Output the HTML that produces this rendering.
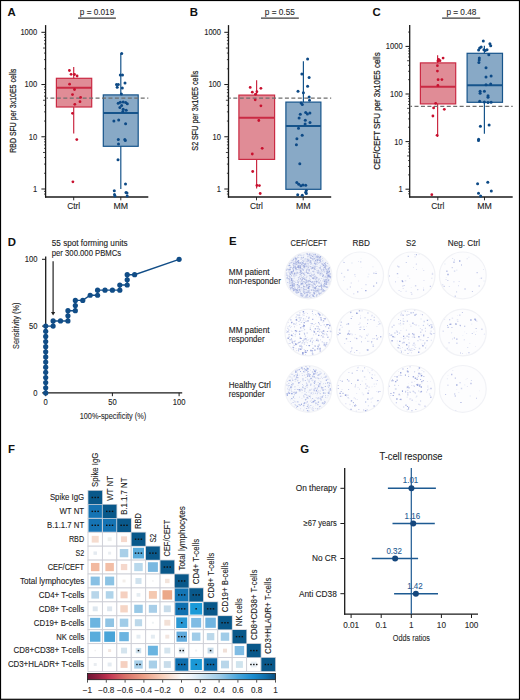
<!DOCTYPE html>
<html><head><meta charset="utf-8"><style>
html,body{margin:0;padding:0;background:#fff;overflow:hidden;width:520px;height:700px;}
svg{display:block;font-family:"Liberation Sans", sans-serif;}
text{stroke:currentColor;}
</style></head><body>
<svg width="520" height="700" viewBox="0 0 520 700">
<rect x="0" y="0" width="520" height="700" fill="#fff"/>
<text x="7.60" y="15.50" font-size="11.4" text-anchor="start" fill="#111" color="#111" stroke-width="0" font-weight="bold">A</text>
<text x="97.00" y="14.80" font-size="8.2" text-anchor="middle" fill="#2a2a2a" color="#2a2a2a" stroke-width="0.1" font-weight="normal" textLength="34.400000000000006" lengthAdjust="spacingAndGlyphs">p = 0.019</text>
<line x1="78.10" y1="18.10" x2="115.90" y2="18.10" stroke="#3a3a3a" stroke-width="1.1"/>
<text transform="translate(15.80,110.70) rotate(-90)" font-size="9.9" text-anchor="middle" fill="#222" color="#222" stroke-width="0.22" textLength="84.1" lengthAdjust="spacingAndGlyphs">RBD SFU per 3x10E5 cells</text>
<line x1="45.60" y1="25.10" x2="45.60" y2="197.60" stroke="#1a1a1a" stroke-width="1.3"/>
<line x1="41.40" y1="189.00" x2="45.60" y2="189.00" stroke="#1a1a1a" stroke-width="1.0"/>
<text x="37.20" y="191.90" font-size="8.2" text-anchor="end" fill="#222" color="#222" stroke-width="0.1" font-weight="normal" textLength="4.2" lengthAdjust="spacingAndGlyphs">1</text>
<line x1="44.00" y1="173.28" x2="45.60" y2="173.28" stroke="#1a1a1a" stroke-width="0.8"/>
<line x1="44.00" y1="164.08" x2="45.60" y2="164.08" stroke="#1a1a1a" stroke-width="0.8"/>
<line x1="44.00" y1="157.55" x2="45.60" y2="157.55" stroke="#1a1a1a" stroke-width="0.8"/>
<line x1="43.00" y1="152.49" x2="45.60" y2="152.49" stroke="#1a1a1a" stroke-width="0.8"/>
<line x1="44.00" y1="148.36" x2="45.60" y2="148.36" stroke="#1a1a1a" stroke-width="0.8"/>
<line x1="44.00" y1="144.86" x2="45.60" y2="144.86" stroke="#1a1a1a" stroke-width="0.8"/>
<line x1="44.00" y1="141.83" x2="45.60" y2="141.83" stroke="#1a1a1a" stroke-width="0.8"/>
<line x1="44.00" y1="139.16" x2="45.60" y2="139.16" stroke="#1a1a1a" stroke-width="0.8"/>
<line x1="41.40" y1="136.77" x2="45.60" y2="136.77" stroke="#1a1a1a" stroke-width="1.0"/>
<text x="37.20" y="139.67" font-size="8.2" text-anchor="end" fill="#222" color="#222" stroke-width="0.1" font-weight="normal" textLength="8.39" lengthAdjust="spacingAndGlyphs">10</text>
<line x1="44.00" y1="121.05" x2="45.60" y2="121.05" stroke="#1a1a1a" stroke-width="0.8"/>
<line x1="44.00" y1="111.85" x2="45.60" y2="111.85" stroke="#1a1a1a" stroke-width="0.8"/>
<line x1="44.00" y1="105.32" x2="45.60" y2="105.32" stroke="#1a1a1a" stroke-width="0.8"/>
<line x1="43.00" y1="100.26" x2="45.60" y2="100.26" stroke="#1a1a1a" stroke-width="0.8"/>
<line x1="44.00" y1="96.13" x2="45.60" y2="96.13" stroke="#1a1a1a" stroke-width="0.8"/>
<line x1="44.00" y1="92.63" x2="45.60" y2="92.63" stroke="#1a1a1a" stroke-width="0.8"/>
<line x1="44.00" y1="89.60" x2="45.60" y2="89.60" stroke="#1a1a1a" stroke-width="0.8"/>
<line x1="44.00" y1="86.93" x2="45.60" y2="86.93" stroke="#1a1a1a" stroke-width="0.8"/>
<line x1="41.40" y1="84.54" x2="45.60" y2="84.54" stroke="#1a1a1a" stroke-width="1.0"/>
<text x="37.20" y="87.44" font-size="8.2" text-anchor="end" fill="#222" color="#222" stroke-width="0.1" font-weight="normal" textLength="12.59" lengthAdjust="spacingAndGlyphs">100</text>
<line x1="44.00" y1="68.82" x2="45.60" y2="68.82" stroke="#1a1a1a" stroke-width="0.8"/>
<line x1="44.00" y1="59.62" x2="45.60" y2="59.62" stroke="#1a1a1a" stroke-width="0.8"/>
<line x1="44.00" y1="53.09" x2="45.60" y2="53.09" stroke="#1a1a1a" stroke-width="0.8"/>
<line x1="43.00" y1="48.03" x2="45.60" y2="48.03" stroke="#1a1a1a" stroke-width="0.8"/>
<line x1="44.00" y1="43.90" x2="45.60" y2="43.90" stroke="#1a1a1a" stroke-width="0.8"/>
<line x1="44.00" y1="40.40" x2="45.60" y2="40.40" stroke="#1a1a1a" stroke-width="0.8"/>
<line x1="44.00" y1="37.37" x2="45.60" y2="37.37" stroke="#1a1a1a" stroke-width="0.8"/>
<line x1="44.00" y1="34.70" x2="45.60" y2="34.70" stroke="#1a1a1a" stroke-width="0.8"/>
<line x1="41.40" y1="32.31" x2="45.60" y2="32.31" stroke="#1a1a1a" stroke-width="1.0"/>
<text x="37.20" y="35.21" font-size="8.2" text-anchor="end" fill="#222" color="#222" stroke-width="0.1" font-weight="normal" textLength="16.78" lengthAdjust="spacingAndGlyphs">1000</text>
<line x1="44.00" y1="191.39" x2="45.60" y2="191.39" stroke="#1a1a1a" stroke-width="0.8"/>
<line x1="44.00" y1="194.06" x2="45.60" y2="194.06" stroke="#1a1a1a" stroke-width="0.8"/>
<line x1="45.00" y1="197.00" x2="148.30" y2="197.00" stroke="#1a1a1a" stroke-width="1.3"/>
<line x1="73.70" y1="197.00" x2="73.70" y2="200.30" stroke="#1a1a1a" stroke-width="0.9"/>
<line x1="120.80" y1="197.00" x2="120.80" y2="200.30" stroke="#1a1a1a" stroke-width="0.9"/>
<line x1="73.70" y1="67.10" x2="73.70" y2="133.60" stroke="#ca2a43" stroke-width="1.2"/>
<rect x="56.40" y="78.30" width="35.30" height="28.70" fill="#e08c96" stroke="#ca2a43" stroke-width="1.2"/>
<line x1="56.40" y1="87.70" x2="91.70" y2="87.70" stroke="#ca2a43" stroke-width="2.0"/>
<line x1="120.80" y1="53.60" x2="120.80" y2="189.00" stroke="#16548b" stroke-width="1.2"/>
<rect x="103.30" y="94.90" width="34.90" height="51.40" fill="#88a9c6" stroke="#16548b" stroke-width="1.2"/>
<line x1="103.30" y1="113.10" x2="138.20" y2="113.10" stroke="#16548b" stroke-width="2.0"/>
<line x1="46.30" y1="98.10" x2="148.30" y2="98.10" stroke="#6e6e6e" stroke-width="1.3" stroke-dasharray="4 2.45" stroke-dashoffset="2.35"/>
<circle cx="69.40" cy="70.50" r="1.4" fill="#c8102e"/>
<circle cx="71.10" cy="74.30" r="1.4" fill="#c8102e"/>
<circle cx="74.50" cy="74.50" r="1.4" fill="#c8102e"/>
<circle cx="77.10" cy="76.00" r="1.4" fill="#c8102e"/>
<circle cx="69.60" cy="84.20" r="1.4" fill="#c8102e"/>
<circle cx="74.50" cy="89.50" r="1.4" fill="#c8102e"/>
<circle cx="72.50" cy="94.60" r="1.4" fill="#c8102e"/>
<circle cx="80.60" cy="97.40" r="1.4" fill="#c8102e"/>
<circle cx="80.00" cy="101.70" r="1.4" fill="#c8102e"/>
<circle cx="74.80" cy="104.30" r="1.4" fill="#c8102e"/>
<circle cx="72.50" cy="113.30" r="1.4" fill="#c8102e"/>
<circle cx="76.80" cy="139.60" r="1.4" fill="#c8102e"/>
<circle cx="72.90" cy="181.80" r="1.4" fill="#c8102e"/>
<circle cx="121.70" cy="53.60" r="1.5" fill="#0d4a86"/>
<circle cx="120.30" cy="75.00" r="1.5" fill="#0d4a86"/>
<circle cx="122.50" cy="74.90" r="1.5" fill="#0d4a86"/>
<circle cx="125.00" cy="83.00" r="1.5" fill="#0d4a86"/>
<circle cx="116.50" cy="84.40" r="1.5" fill="#0d4a86"/>
<circle cx="118.30" cy="84.60" r="1.5" fill="#0d4a86"/>
<circle cx="117.20" cy="87.20" r="1.5" fill="#0d4a86"/>
<circle cx="122.30" cy="88.00" r="1.5" fill="#0d4a86"/>
<circle cx="121.40" cy="93.90" r="1.5" fill="#0d4a86"/>
<circle cx="118.20" cy="103.20" r="1.5" fill="#0d4a86"/>
<circle cx="120.30" cy="102.20" r="1.5" fill="#0d4a86"/>
<circle cx="123.20" cy="102.00" r="1.5" fill="#0d4a86"/>
<circle cx="125.70" cy="102.40" r="1.5" fill="#0d4a86"/>
<circle cx="127.30" cy="103.70" r="1.5" fill="#0d4a86"/>
<circle cx="121.60" cy="105.40" r="1.5" fill="#0d4a86"/>
<circle cx="119.90" cy="107.50" r="1.5" fill="#0d4a86"/>
<circle cx="123.20" cy="109.20" r="1.5" fill="#0d4a86"/>
<circle cx="126.20" cy="110.20" r="1.5" fill="#0d4a86"/>
<circle cx="122.80" cy="111.50" r="1.5" fill="#0d4a86"/>
<circle cx="113.90" cy="121.00" r="1.5" fill="#0d4a86"/>
<circle cx="118.70" cy="120.00" r="1.5" fill="#0d4a86"/>
<circle cx="125.60" cy="123.80" r="1.5" fill="#0d4a86"/>
<circle cx="118.30" cy="139.50" r="1.5" fill="#0d4a86"/>
<circle cx="124.80" cy="139.50" r="1.5" fill="#0d4a86"/>
<circle cx="125.30" cy="140.50" r="1.5" fill="#0d4a86"/>
<circle cx="118.50" cy="144.00" r="1.5" fill="#0d4a86"/>
<circle cx="118.00" cy="159.70" r="1.5" fill="#0d4a86"/>
<circle cx="125.50" cy="184.00" r="1.5" fill="#0d4a86"/>
<circle cx="114.30" cy="190.80" r="1.5" fill="#0d4a86"/>
<circle cx="114.50" cy="194.50" r="1.5" fill="#0d4a86"/>
<circle cx="115.00" cy="196.00" r="1.5" fill="#0d4a86"/>
<circle cx="126.00" cy="192.50" r="1.5" fill="#0d4a86"/>
<circle cx="127.00" cy="193.00" r="1.5" fill="#0d4a86"/>
<circle cx="127.20" cy="196.00" r="1.5" fill="#0d4a86"/>
<text x="73.70" y="208.70" font-size="8.3" text-anchor="middle" fill="#222" color="#222" stroke-width="0.1" font-weight="normal">Ctrl</text>
<text x="120.80" y="208.70" font-size="8.3" text-anchor="middle" fill="#222" color="#222" stroke-width="0.1" font-weight="normal" textLength="14.6" lengthAdjust="spacingAndGlyphs">MM</text>
<text x="189.70" y="15.50" font-size="11.4" text-anchor="start" fill="#111" color="#111" stroke-width="0" font-weight="bold">B</text>
<text x="279.80" y="14.80" font-size="8.2" text-anchor="middle" fill="#2a2a2a" color="#2a2a2a" stroke-width="0.1" font-weight="normal" textLength="30.0" lengthAdjust="spacingAndGlyphs">p = 0.55</text>
<line x1="261.00" y1="18.10" x2="298.80" y2="18.10" stroke="#3a3a3a" stroke-width="1.1"/>
<text transform="translate(197.80,110.70) rotate(-90)" font-size="9.9" text-anchor="middle" fill="#222" color="#222" stroke-width="0.22" textLength="79.9" lengthAdjust="spacingAndGlyphs">S2 SFU per 3x10E5 cells</text>
<line x1="228.50" y1="25.10" x2="228.50" y2="197.60" stroke="#1a1a1a" stroke-width="1.3"/>
<line x1="224.30" y1="189.00" x2="228.50" y2="189.00" stroke="#1a1a1a" stroke-width="1.0"/>
<text x="221.00" y="191.90" font-size="8.2" text-anchor="end" fill="#222" color="#222" stroke-width="0.1" font-weight="normal" textLength="4.2" lengthAdjust="spacingAndGlyphs">1</text>
<line x1="226.90" y1="173.28" x2="228.50" y2="173.28" stroke="#1a1a1a" stroke-width="0.8"/>
<line x1="226.90" y1="164.08" x2="228.50" y2="164.08" stroke="#1a1a1a" stroke-width="0.8"/>
<line x1="226.90" y1="157.55" x2="228.50" y2="157.55" stroke="#1a1a1a" stroke-width="0.8"/>
<line x1="225.90" y1="152.49" x2="228.50" y2="152.49" stroke="#1a1a1a" stroke-width="0.8"/>
<line x1="226.90" y1="148.36" x2="228.50" y2="148.36" stroke="#1a1a1a" stroke-width="0.8"/>
<line x1="226.90" y1="144.86" x2="228.50" y2="144.86" stroke="#1a1a1a" stroke-width="0.8"/>
<line x1="226.90" y1="141.83" x2="228.50" y2="141.83" stroke="#1a1a1a" stroke-width="0.8"/>
<line x1="226.90" y1="139.16" x2="228.50" y2="139.16" stroke="#1a1a1a" stroke-width="0.8"/>
<line x1="224.30" y1="136.77" x2="228.50" y2="136.77" stroke="#1a1a1a" stroke-width="1.0"/>
<text x="221.00" y="139.67" font-size="8.2" text-anchor="end" fill="#222" color="#222" stroke-width="0.1" font-weight="normal" textLength="8.39" lengthAdjust="spacingAndGlyphs">10</text>
<line x1="226.90" y1="121.05" x2="228.50" y2="121.05" stroke="#1a1a1a" stroke-width="0.8"/>
<line x1="226.90" y1="111.85" x2="228.50" y2="111.85" stroke="#1a1a1a" stroke-width="0.8"/>
<line x1="226.90" y1="105.32" x2="228.50" y2="105.32" stroke="#1a1a1a" stroke-width="0.8"/>
<line x1="225.90" y1="100.26" x2="228.50" y2="100.26" stroke="#1a1a1a" stroke-width="0.8"/>
<line x1="226.90" y1="96.13" x2="228.50" y2="96.13" stroke="#1a1a1a" stroke-width="0.8"/>
<line x1="226.90" y1="92.63" x2="228.50" y2="92.63" stroke="#1a1a1a" stroke-width="0.8"/>
<line x1="226.90" y1="89.60" x2="228.50" y2="89.60" stroke="#1a1a1a" stroke-width="0.8"/>
<line x1="226.90" y1="86.93" x2="228.50" y2="86.93" stroke="#1a1a1a" stroke-width="0.8"/>
<line x1="224.30" y1="84.54" x2="228.50" y2="84.54" stroke="#1a1a1a" stroke-width="1.0"/>
<text x="221.00" y="87.44" font-size="8.2" text-anchor="end" fill="#222" color="#222" stroke-width="0.1" font-weight="normal" textLength="12.59" lengthAdjust="spacingAndGlyphs">100</text>
<line x1="226.90" y1="68.82" x2="228.50" y2="68.82" stroke="#1a1a1a" stroke-width="0.8"/>
<line x1="226.90" y1="59.62" x2="228.50" y2="59.62" stroke="#1a1a1a" stroke-width="0.8"/>
<line x1="226.90" y1="53.09" x2="228.50" y2="53.09" stroke="#1a1a1a" stroke-width="0.8"/>
<line x1="225.90" y1="48.03" x2="228.50" y2="48.03" stroke="#1a1a1a" stroke-width="0.8"/>
<line x1="226.90" y1="43.90" x2="228.50" y2="43.90" stroke="#1a1a1a" stroke-width="0.8"/>
<line x1="226.90" y1="40.40" x2="228.50" y2="40.40" stroke="#1a1a1a" stroke-width="0.8"/>
<line x1="226.90" y1="37.37" x2="228.50" y2="37.37" stroke="#1a1a1a" stroke-width="0.8"/>
<line x1="226.90" y1="34.70" x2="228.50" y2="34.70" stroke="#1a1a1a" stroke-width="0.8"/>
<line x1="224.30" y1="32.31" x2="228.50" y2="32.31" stroke="#1a1a1a" stroke-width="1.0"/>
<text x="221.00" y="35.21" font-size="8.2" text-anchor="end" fill="#222" color="#222" stroke-width="0.1" font-weight="normal" textLength="16.78" lengthAdjust="spacingAndGlyphs">1000</text>
<line x1="226.90" y1="191.39" x2="228.50" y2="191.39" stroke="#1a1a1a" stroke-width="0.8"/>
<line x1="226.90" y1="194.06" x2="228.50" y2="194.06" stroke="#1a1a1a" stroke-width="0.8"/>
<line x1="227.90" y1="197.00" x2="331.20" y2="197.00" stroke="#1a1a1a" stroke-width="1.3"/>
<line x1="256.50" y1="197.00" x2="256.50" y2="200.30" stroke="#1a1a1a" stroke-width="0.9"/>
<line x1="303.20" y1="197.00" x2="303.20" y2="200.30" stroke="#1a1a1a" stroke-width="0.9"/>
<line x1="256.60" y1="80.20" x2="256.60" y2="188.60" stroke="#ca2a43" stroke-width="1.2"/>
<rect x="238.90" y="95.10" width="35.70" height="64.30" fill="#e08c96" stroke="#ca2a43" stroke-width="1.2"/>
<line x1="238.90" y1="117.80" x2="274.60" y2="117.80" stroke="#ca2a43" stroke-width="2.0"/>
<line x1="303.40" y1="61.20" x2="303.40" y2="189.30" stroke="#16548b" stroke-width="1.2"/>
<rect x="285.90" y="102.10" width="35.00" height="87.20" fill="#88a9c6" stroke="#16548b" stroke-width="1.2"/>
<line x1="285.90" y1="126.00" x2="320.90" y2="126.00" stroke="#16548b" stroke-width="2.0"/>
<line x1="229.20" y1="98.10" x2="331.20" y2="98.10" stroke="#6e6e6e" stroke-width="1.3" stroke-dasharray="4 2.45" stroke-dashoffset="2.35"/>
<circle cx="250.20" cy="87.40" r="1.4" fill="#c8102e"/>
<circle cx="260.90" cy="88.30" r="1.4" fill="#c8102e"/>
<circle cx="252.30" cy="92.20" r="1.4" fill="#c8102e"/>
<circle cx="256.90" cy="91.70" r="1.4" fill="#c8102e"/>
<circle cx="255.40" cy="94.30" r="1.4" fill="#c8102e"/>
<circle cx="255.20" cy="99.80" r="1.4" fill="#c8102e"/>
<circle cx="260.90" cy="105.80" r="1.4" fill="#c8102e"/>
<circle cx="258.80" cy="120.50" r="1.4" fill="#c8102e"/>
<circle cx="262.20" cy="148.30" r="1.4" fill="#c8102e"/>
<circle cx="252.30" cy="154.00" r="1.4" fill="#c8102e"/>
<circle cx="252.70" cy="171.50" r="1.4" fill="#c8102e"/>
<circle cx="256.90" cy="185.40" r="1.4" fill="#c8102e"/>
<circle cx="259.40" cy="185.60" r="1.4" fill="#c8102e"/>
<circle cx="260.20" cy="193.50" r="1.4" fill="#c8102e"/>
<circle cx="307.60" cy="59.10" r="1.5" fill="#0d4a86"/>
<circle cx="301.90" cy="74.00" r="1.5" fill="#0d4a86"/>
<circle cx="309.10" cy="77.40" r="1.5" fill="#0d4a86"/>
<circle cx="307.60" cy="86.30" r="1.5" fill="#0d4a86"/>
<circle cx="298.00" cy="91.30" r="1.5" fill="#0d4a86"/>
<circle cx="303.40" cy="92.80" r="1.5" fill="#0d4a86"/>
<circle cx="309.10" cy="97.00" r="1.5" fill="#0d4a86"/>
<circle cx="309.50" cy="100.20" r="1.5" fill="#0d4a86"/>
<circle cx="301.10" cy="103.10" r="1.5" fill="#0d4a86"/>
<circle cx="302.30" cy="104.60" r="1.5" fill="#0d4a86"/>
<circle cx="305.70" cy="112.60" r="1.5" fill="#0d4a86"/>
<circle cx="307.40" cy="113.90" r="1.5" fill="#0d4a86"/>
<circle cx="309.90" cy="113.00" r="1.5" fill="#0d4a86"/>
<circle cx="300.30" cy="114.20" r="1.5" fill="#0d4a86"/>
<circle cx="299.10" cy="117.90" r="1.5" fill="#0d4a86"/>
<circle cx="305.30" cy="120.20" r="1.5" fill="#0d4a86"/>
<circle cx="310.00" cy="122.50" r="1.5" fill="#0d4a86"/>
<circle cx="305.10" cy="124.00" r="1.5" fill="#0d4a86"/>
<circle cx="298.50" cy="128.20" r="1.5" fill="#0d4a86"/>
<circle cx="302.20" cy="135.20" r="1.5" fill="#0d4a86"/>
<circle cx="296.90" cy="138.70" r="1.5" fill="#0d4a86"/>
<circle cx="296.40" cy="144.80" r="1.5" fill="#0d4a86"/>
<circle cx="299.80" cy="163.80" r="1.5" fill="#0d4a86"/>
<circle cx="296.80" cy="182.60" r="1.5" fill="#0d4a86"/>
<circle cx="298.80" cy="184.30" r="1.5" fill="#0d4a86"/>
<circle cx="300.90" cy="185.80" r="1.5" fill="#0d4a86"/>
<circle cx="303.00" cy="185.00" r="1.5" fill="#0d4a86"/>
<circle cx="305.70" cy="185.30" r="1.5" fill="#0d4a86"/>
<circle cx="306.30" cy="190.40" r="1.5" fill="#0d4a86"/>
<circle cx="305.70" cy="192.30" r="1.5" fill="#0d4a86"/>
<circle cx="306.30" cy="193.60" r="1.5" fill="#0d4a86"/>
<circle cx="297.70" cy="194.70" r="1.5" fill="#0d4a86"/>
<circle cx="302.30" cy="195.20" r="1.5" fill="#0d4a86"/>
<text x="256.50" y="208.70" font-size="8.3" text-anchor="middle" fill="#222" color="#222" stroke-width="0.1" font-weight="normal">Ctrl</text>
<text x="303.20" y="208.70" font-size="8.3" text-anchor="middle" fill="#222" color="#222" stroke-width="0.1" font-weight="normal" textLength="14.6" lengthAdjust="spacingAndGlyphs">MM</text>
<text x="372.40" y="15.50" font-size="11.4" text-anchor="start" fill="#111" color="#111" stroke-width="0" font-weight="bold">C</text>
<text x="461.40" y="14.80" font-size="8.2" text-anchor="middle" fill="#2a2a2a" color="#2a2a2a" stroke-width="0.1" font-weight="normal" textLength="30.0" lengthAdjust="spacingAndGlyphs">p = 0.48</text>
<line x1="442.10" y1="18.10" x2="480.20" y2="18.10" stroke="#3a3a3a" stroke-width="1.1"/>
<text transform="translate(379.50,111.00) rotate(-90)" font-size="8.9" text-anchor="middle" fill="#222" color="#222" stroke-width="0.22" textLength="117.6" lengthAdjust="spacingAndGlyphs">CEF/CEFT SFU per 3x10E5 cells</text>
<line x1="409.70" y1="25.10" x2="409.70" y2="197.60" stroke="#1a1a1a" stroke-width="1.3"/>
<line x1="405.50" y1="189.20" x2="409.70" y2="189.20" stroke="#1a1a1a" stroke-width="1.0"/>
<text x="402.60" y="192.10" font-size="8.2" text-anchor="end" fill="#222" color="#222" stroke-width="0.1" font-weight="normal" textLength="4.2" lengthAdjust="spacingAndGlyphs">1</text>
<line x1="408.10" y1="174.87" x2="409.70" y2="174.87" stroke="#1a1a1a" stroke-width="0.8"/>
<line x1="408.10" y1="166.49" x2="409.70" y2="166.49" stroke="#1a1a1a" stroke-width="0.8"/>
<line x1="408.10" y1="160.54" x2="409.70" y2="160.54" stroke="#1a1a1a" stroke-width="0.8"/>
<line x1="407.10" y1="155.93" x2="409.70" y2="155.93" stroke="#1a1a1a" stroke-width="0.8"/>
<line x1="408.10" y1="152.16" x2="409.70" y2="152.16" stroke="#1a1a1a" stroke-width="0.8"/>
<line x1="408.10" y1="148.97" x2="409.70" y2="148.97" stroke="#1a1a1a" stroke-width="0.8"/>
<line x1="408.10" y1="146.21" x2="409.70" y2="146.21" stroke="#1a1a1a" stroke-width="0.8"/>
<line x1="408.10" y1="143.78" x2="409.70" y2="143.78" stroke="#1a1a1a" stroke-width="0.8"/>
<line x1="405.50" y1="141.60" x2="409.70" y2="141.60" stroke="#1a1a1a" stroke-width="1.0"/>
<text x="402.60" y="144.50" font-size="8.2" text-anchor="end" fill="#222" color="#222" stroke-width="0.1" font-weight="normal" textLength="8.39" lengthAdjust="spacingAndGlyphs">10</text>
<line x1="408.10" y1="127.27" x2="409.70" y2="127.27" stroke="#1a1a1a" stroke-width="0.8"/>
<line x1="408.10" y1="118.89" x2="409.70" y2="118.89" stroke="#1a1a1a" stroke-width="0.8"/>
<line x1="408.10" y1="112.94" x2="409.70" y2="112.94" stroke="#1a1a1a" stroke-width="0.8"/>
<line x1="407.10" y1="108.33" x2="409.70" y2="108.33" stroke="#1a1a1a" stroke-width="0.8"/>
<line x1="408.10" y1="104.56" x2="409.70" y2="104.56" stroke="#1a1a1a" stroke-width="0.8"/>
<line x1="408.10" y1="101.37" x2="409.70" y2="101.37" stroke="#1a1a1a" stroke-width="0.8"/>
<line x1="408.10" y1="98.61" x2="409.70" y2="98.61" stroke="#1a1a1a" stroke-width="0.8"/>
<line x1="408.10" y1="96.18" x2="409.70" y2="96.18" stroke="#1a1a1a" stroke-width="0.8"/>
<line x1="405.50" y1="94.00" x2="409.70" y2="94.00" stroke="#1a1a1a" stroke-width="1.0"/>
<text x="402.60" y="96.90" font-size="8.2" text-anchor="end" fill="#222" color="#222" stroke-width="0.1" font-weight="normal" textLength="12.59" lengthAdjust="spacingAndGlyphs">100</text>
<line x1="408.10" y1="79.67" x2="409.70" y2="79.67" stroke="#1a1a1a" stroke-width="0.8"/>
<line x1="408.10" y1="71.29" x2="409.70" y2="71.29" stroke="#1a1a1a" stroke-width="0.8"/>
<line x1="408.10" y1="65.34" x2="409.70" y2="65.34" stroke="#1a1a1a" stroke-width="0.8"/>
<line x1="407.10" y1="60.73" x2="409.70" y2="60.73" stroke="#1a1a1a" stroke-width="0.8"/>
<line x1="408.10" y1="56.96" x2="409.70" y2="56.96" stroke="#1a1a1a" stroke-width="0.8"/>
<line x1="408.10" y1="53.77" x2="409.70" y2="53.77" stroke="#1a1a1a" stroke-width="0.8"/>
<line x1="408.10" y1="51.01" x2="409.70" y2="51.01" stroke="#1a1a1a" stroke-width="0.8"/>
<line x1="408.10" y1="48.58" x2="409.70" y2="48.58" stroke="#1a1a1a" stroke-width="0.8"/>
<line x1="405.50" y1="46.40" x2="409.70" y2="46.40" stroke="#1a1a1a" stroke-width="1.0"/>
<text x="402.60" y="49.30" font-size="8.2" text-anchor="end" fill="#222" color="#222" stroke-width="0.1" font-weight="normal" textLength="16.78" lengthAdjust="spacingAndGlyphs">1000</text>
<line x1="408.10" y1="32.07" x2="409.70" y2="32.07" stroke="#1a1a1a" stroke-width="0.8"/>
<line x1="408.10" y1="191.38" x2="409.70" y2="191.38" stroke="#1a1a1a" stroke-width="0.8"/>
<line x1="408.10" y1="193.81" x2="409.70" y2="193.81" stroke="#1a1a1a" stroke-width="0.8"/>
<line x1="409.10" y1="197.00" x2="512.70" y2="197.00" stroke="#1a1a1a" stroke-width="1.3"/>
<line x1="437.80" y1="197.00" x2="437.80" y2="200.30" stroke="#1a1a1a" stroke-width="0.9"/>
<line x1="484.50" y1="197.00" x2="484.50" y2="200.30" stroke="#1a1a1a" stroke-width="0.9"/>
<line x1="437.60" y1="55.30" x2="437.60" y2="137.10" stroke="#ca2a43" stroke-width="1.2"/>
<rect x="420.40" y="62.90" width="35.30" height="41.00" fill="#e08c96" stroke="#ca2a43" stroke-width="1.2"/>
<line x1="420.40" y1="86.70" x2="455.70" y2="86.70" stroke="#ca2a43" stroke-width="2.0"/>
<line x1="484.40" y1="45.70" x2="484.40" y2="133.80" stroke="#16548b" stroke-width="1.2"/>
<rect x="467.10" y="53.30" width="35.40" height="49.00" fill="#88a9c6" stroke="#16548b" stroke-width="1.2"/>
<line x1="467.10" y1="85.30" x2="502.50" y2="85.30" stroke="#16548b" stroke-width="2.0"/>
<line x1="410.40" y1="106.30" x2="512.70" y2="106.30" stroke="#6e6e6e" stroke-width="1.3" stroke-dasharray="4 2.45" stroke-dashoffset="2.35"/>
<circle cx="443.10" cy="58.10" r="1.4" fill="#c8102e"/>
<circle cx="438.60" cy="59.30" r="1.4" fill="#c8102e"/>
<circle cx="440.00" cy="60.70" r="1.4" fill="#c8102e"/>
<circle cx="437.90" cy="61.00" r="1.4" fill="#c8102e"/>
<circle cx="437.40" cy="65.70" r="1.4" fill="#c8102e"/>
<circle cx="437.40" cy="71.10" r="1.4" fill="#c8102e"/>
<circle cx="438.10" cy="79.70" r="1.4" fill="#c8102e"/>
<circle cx="441.90" cy="79.60" r="1.4" fill="#c8102e"/>
<circle cx="437.90" cy="85.40" r="1.4" fill="#c8102e"/>
<circle cx="435.70" cy="103.30" r="1.4" fill="#c8102e"/>
<circle cx="433.60" cy="107.90" r="1.4" fill="#c8102e"/>
<circle cx="444.30" cy="109.30" r="1.4" fill="#c8102e"/>
<circle cx="432.90" cy="116.00" r="1.4" fill="#c8102e"/>
<circle cx="437.10" cy="135.30" r="1.4" fill="#c8102e"/>
<circle cx="431.80" cy="194.70" r="1.4" fill="#c8102e"/>
<circle cx="483.30" cy="41.00" r="1.5" fill="#0d4a86"/>
<circle cx="489.90" cy="43.80" r="1.5" fill="#0d4a86"/>
<circle cx="490.70" cy="45.70" r="1.5" fill="#0d4a86"/>
<circle cx="479.70" cy="48.10" r="1.5" fill="#0d4a86"/>
<circle cx="481.20" cy="47.00" r="1.5" fill="#0d4a86"/>
<circle cx="478.60" cy="50.00" r="1.5" fill="#0d4a86"/>
<circle cx="483.90" cy="49.70" r="1.5" fill="#0d4a86"/>
<circle cx="487.00" cy="49.70" r="1.5" fill="#0d4a86"/>
<circle cx="485.20" cy="50.40" r="1.5" fill="#0d4a86"/>
<circle cx="488.80" cy="54.70" r="1.5" fill="#0d4a86"/>
<circle cx="479.30" cy="58.00" r="1.5" fill="#0d4a86"/>
<circle cx="479.20" cy="59.90" r="1.5" fill="#0d4a86"/>
<circle cx="478.90" cy="62.50" r="1.5" fill="#0d4a86"/>
<circle cx="486.00" cy="67.70" r="1.5" fill="#0d4a86"/>
<circle cx="486.00" cy="76.90" r="1.5" fill="#0d4a86"/>
<circle cx="491.10" cy="76.10" r="1.5" fill="#0d4a86"/>
<circle cx="486.00" cy="84.70" r="1.5" fill="#0d4a86"/>
<circle cx="490.70" cy="83.90" r="1.5" fill="#0d4a86"/>
<circle cx="480.10" cy="91.30" r="1.5" fill="#0d4a86"/>
<circle cx="480.10" cy="93.20" r="1.5" fill="#0d4a86"/>
<circle cx="484.40" cy="91.30" r="1.5" fill="#0d4a86"/>
<circle cx="488.00" cy="95.70" r="1.5" fill="#0d4a86"/>
<circle cx="488.00" cy="97.30" r="1.5" fill="#0d4a86"/>
<circle cx="479.70" cy="101.20" r="1.5" fill="#0d4a86"/>
<circle cx="484.40" cy="102.00" r="1.5" fill="#0d4a86"/>
<circle cx="488.00" cy="102.60" r="1.5" fill="#0d4a86"/>
<circle cx="491.10" cy="102.30" r="1.5" fill="#0d4a86"/>
<circle cx="480.40" cy="126.20" r="1.5" fill="#0d4a86"/>
<circle cx="489.10" cy="125.10" r="1.5" fill="#0d4a86"/>
<circle cx="478.60" cy="139.30" r="1.5" fill="#0d4a86"/>
<circle cx="478.50" cy="140.50" r="1.5" fill="#0d4a86"/>
<circle cx="477.60" cy="183.80" r="1.5" fill="#0d4a86"/>
<circle cx="487.80" cy="182.20" r="1.5" fill="#0d4a86"/>
<circle cx="491.30" cy="190.90" r="1.5" fill="#0d4a86"/>
<circle cx="478.50" cy="193.30" r="1.5" fill="#0d4a86"/>
<circle cx="480.60" cy="196.10" r="1.5" fill="#0d4a86"/>
<text x="437.80" y="208.70" font-size="8.3" text-anchor="middle" fill="#222" color="#222" stroke-width="0.1" font-weight="normal">Ctrl</text>
<text x="484.50" y="208.70" font-size="8.3" text-anchor="middle" fill="#222" color="#222" stroke-width="0.1" font-weight="normal" textLength="14.6" lengthAdjust="spacingAndGlyphs">MM</text>
<text x="7.80" y="245.50" font-size="11.4" text-anchor="start" fill="#111" color="#111" stroke-width="0" font-weight="bold">D</text>
<line x1="45.70" y1="256.50" x2="45.70" y2="393.50" stroke="#1a1a1a" stroke-width="1.3"/>
<line x1="43.00" y1="392.90" x2="182.20" y2="392.90" stroke="#1a1a1a" stroke-width="1.3"/>
<line x1="42.00" y1="259.30" x2="45.70" y2="259.30" stroke="#1a1a1a" stroke-width="1.0"/>
<text x="37.40" y="262.20" font-size="8.2" text-anchor="end" fill="#222" color="#222" stroke-width="0.1" font-weight="normal" textLength="12.72" lengthAdjust="spacingAndGlyphs">100</text>
<line x1="42.00" y1="326.10" x2="45.70" y2="326.10" stroke="#1a1a1a" stroke-width="1.0"/>
<text x="37.40" y="329.00" font-size="8.2" text-anchor="end" fill="#222" color="#222" stroke-width="0.1" font-weight="normal" textLength="8.48" lengthAdjust="spacingAndGlyphs">50</text>
<line x1="42.00" y1="392.90" x2="45.70" y2="392.90" stroke="#1a1a1a" stroke-width="1.0"/>
<text x="37.40" y="395.80" font-size="8.2" text-anchor="end" fill="#222" color="#222" stroke-width="0.1" font-weight="normal" textLength="4.24" lengthAdjust="spacingAndGlyphs">0</text>
<line x1="45.70" y1="392.90" x2="45.70" y2="396.20" stroke="#1a1a1a" stroke-width="1.0"/>
<text x="45.70" y="405.40" font-size="8.2" text-anchor="middle" fill="#222" color="#222" stroke-width="0.1" font-weight="normal" textLength="4.24" lengthAdjust="spacingAndGlyphs">0</text>
<line x1="112.40" y1="392.90" x2="112.40" y2="396.20" stroke="#1a1a1a" stroke-width="1.0"/>
<text x="112.40" y="405.40" font-size="8.2" text-anchor="middle" fill="#222" color="#222" stroke-width="0.1" font-weight="normal" textLength="8.48" lengthAdjust="spacingAndGlyphs">50</text>
<line x1="179.10" y1="392.90" x2="179.10" y2="396.20" stroke="#1a1a1a" stroke-width="1.0"/>
<text x="179.10" y="405.40" font-size="8.2" text-anchor="middle" fill="#222" color="#222" stroke-width="0.1" font-weight="normal" textLength="12.72" lengthAdjust="spacingAndGlyphs">100</text>
<text x="112.95" y="419.20" font-size="9.0" text-anchor="middle" fill="#2a2a2a" color="#2a2a2a" stroke-width="0.1" font-weight="normal" textLength="66.5" lengthAdjust="spacingAndGlyphs">100%-specificity (%)</text>
<text transform="translate(19.20,325.75) rotate(-90)" font-size="9.2" text-anchor="middle" fill="#2a2a2a" color="#2a2a2a" stroke-width="0.1" textLength="46.5" lengthAdjust="spacingAndGlyphs">Sensitivity (%)</text>
<text x="51.80" y="246.00" font-size="8.2" text-anchor="start" fill="#222" color="#222" stroke-width="0.1" font-weight="normal" textLength="75.8" lengthAdjust="spacingAndGlyphs">55 spot forming units</text>
<text x="51.80" y="255.50" font-size="8.2" text-anchor="start" fill="#222" color="#222" stroke-width="0.1" font-weight="normal" textLength="69.4" lengthAdjust="spacingAndGlyphs">per 300.000 PBMCs</text>
<line x1="53.10" y1="261.20" x2="53.10" y2="312.50" stroke="#222" stroke-width="1.2"/>
<path d="M51.0,312.0 L55.2,312.0 L53.1,315.6 Z" fill="#222"/>
<polyline points="45.70,392.90 45.70,387.76 45.70,382.62 45.70,377.48 45.70,372.35 45.70,367.21 45.70,362.07 45.70,356.93 45.70,351.79 45.70,346.65 45.70,341.52 45.70,336.38 45.70,331.24 45.70,326.10 53.11,326.10 53.11,320.96 60.52,320.96 67.93,320.96 67.93,315.82 67.93,310.68 75.34,310.68 75.34,305.55 75.34,300.41 82.76,300.41 90.17,295.27 97.58,295.27 97.58,290.13 104.99,290.13 112.40,290.13 119.81,290.13 119.81,284.99 127.22,284.99 127.22,279.85 127.22,274.72 134.63,274.72 179.10,259.30" fill="none" stroke="#114d87" stroke-width="1.4"/>
<circle cx="45.70" cy="392.90" r="2.6" fill="#114d87"/>
<circle cx="45.70" cy="387.76" r="2.6" fill="#114d87"/>
<circle cx="45.70" cy="382.62" r="2.6" fill="#114d87"/>
<circle cx="45.70" cy="377.48" r="2.6" fill="#114d87"/>
<circle cx="45.70" cy="372.35" r="2.6" fill="#114d87"/>
<circle cx="45.70" cy="367.21" r="2.6" fill="#114d87"/>
<circle cx="45.70" cy="362.07" r="2.6" fill="#114d87"/>
<circle cx="45.70" cy="356.93" r="2.6" fill="#114d87"/>
<circle cx="45.70" cy="351.79" r="2.6" fill="#114d87"/>
<circle cx="45.70" cy="346.65" r="2.6" fill="#114d87"/>
<circle cx="45.70" cy="341.52" r="2.6" fill="#114d87"/>
<circle cx="45.70" cy="336.38" r="2.6" fill="#114d87"/>
<circle cx="45.70" cy="331.24" r="2.6" fill="#114d87"/>
<circle cx="45.70" cy="326.10" r="2.6" fill="#114d87"/>
<circle cx="53.11" cy="326.10" r="2.6" fill="#114d87"/>
<circle cx="53.11" cy="320.96" r="2.6" fill="#114d87"/>
<circle cx="60.52" cy="320.96" r="2.6" fill="#114d87"/>
<circle cx="67.93" cy="320.96" r="2.6" fill="#114d87"/>
<circle cx="67.93" cy="315.82" r="2.6" fill="#114d87"/>
<circle cx="67.93" cy="310.68" r="2.6" fill="#114d87"/>
<circle cx="75.34" cy="310.68" r="2.6" fill="#114d87"/>
<circle cx="75.34" cy="305.55" r="2.6" fill="#114d87"/>
<circle cx="75.34" cy="300.41" r="2.6" fill="#114d87"/>
<circle cx="82.76" cy="300.41" r="2.6" fill="#114d87"/>
<circle cx="90.17" cy="295.27" r="2.6" fill="#114d87"/>
<circle cx="97.58" cy="295.27" r="2.6" fill="#114d87"/>
<circle cx="97.58" cy="290.13" r="2.6" fill="#114d87"/>
<circle cx="104.99" cy="290.13" r="2.6" fill="#114d87"/>
<circle cx="112.40" cy="290.13" r="2.6" fill="#114d87"/>
<circle cx="119.81" cy="290.13" r="2.6" fill="#114d87"/>
<circle cx="119.81" cy="284.99" r="2.6" fill="#114d87"/>
<circle cx="127.22" cy="284.99" r="2.6" fill="#114d87"/>
<circle cx="127.22" cy="279.85" r="2.6" fill="#114d87"/>
<circle cx="127.22" cy="274.72" r="2.6" fill="#114d87"/>
<circle cx="134.63" cy="274.72" r="2.6" fill="#114d87"/>
<circle cx="179.10" cy="259.30" r="2.6" fill="#114d87"/>
<text x="228.90" y="245.30" font-size="11.4" text-anchor="start" fill="#111" color="#111" stroke-width="0" font-weight="bold">E</text>
<text x="308.90" y="245.90" font-size="8.2" text-anchor="middle" fill="#222" color="#222" stroke-width="0.1" font-weight="normal" textLength="36.6" lengthAdjust="spacingAndGlyphs">CEF/CEFT</text>
<text x="361.20" y="245.90" font-size="8.2" text-anchor="middle" fill="#222" color="#222" stroke-width="0.1" font-weight="normal">RBD</text>
<text x="411.00" y="245.90" font-size="8.2" text-anchor="middle" fill="#222" color="#222" stroke-width="0.1" font-weight="normal">S2</text>
<text x="463.90" y="245.90" font-size="8.2" text-anchor="middle" fill="#222" color="#222" stroke-width="0.1" font-weight="normal">Neg. Ctrl</text>
<text x="228.80" y="274.80" font-size="8.6" text-anchor="start" fill="#222" color="#222" stroke-width="0.1" font-weight="normal" textLength="40.8" lengthAdjust="spacingAndGlyphs">MM patient</text>
<text x="228.80" y="284.20" font-size="8.6" text-anchor="start" fill="#222" color="#222" stroke-width="0.1" font-weight="normal" textLength="52.0" lengthAdjust="spacingAndGlyphs">non-responder</text>
<text x="228.80" y="332.50" font-size="8.6" text-anchor="start" fill="#222" color="#222" stroke-width="0.1" font-weight="normal" textLength="40.8" lengthAdjust="spacingAndGlyphs">MM patient</text>
<text x="228.80" y="341.90" font-size="8.6" text-anchor="start" fill="#222" color="#222" stroke-width="0.1" font-weight="normal" textLength="35.8" lengthAdjust="spacingAndGlyphs">responder</text>
<text x="228.80" y="387.90" font-size="8.6" text-anchor="start" fill="#222" color="#222" stroke-width="0.1" font-weight="normal" textLength="42.0" lengthAdjust="spacingAndGlyphs">Healthy Ctrl</text>
<text x="228.80" y="397.30" font-size="8.6" text-anchor="start" fill="#222" color="#222" stroke-width="0.1" font-weight="normal" textLength="35.8" lengthAdjust="spacingAndGlyphs">responder</text>
<defs><filter id="wb" x="-10%" y="-10%" width="120%" height="120%"><feGaussianBlur stdDeviation="0.4"/></filter></defs>
<circle cx="308.4" cy="275.4" r="23.4" fill="#f3f5fb" stroke="#f1f2f6" stroke-width="1.2"/>
<g filter="url(#wb)">
<path d="M303.8 283.6h0.7v0.7h-0.7zM313.2 256.6h0.9v0.9h-0.9zM301.8 258.0h1.3v1.3h-1.3zM319.5 256.3h1.3v1.3h-1.3zM303.4 254.0h1.1v1.1h-1.1zM290.4 287.7h1.3v1.3h-1.3zM301.2 279.6h1.3v1.3h-1.3zM321.8 286.4h0.7v0.7h-0.7zM292.3 267.9h1.1v1.1h-1.1zM307.0 258.9h0.9v0.9h-0.9zM299.9 254.8h1.1v1.1h-1.1zM294.0 273.5h0.7v0.7h-0.7zM319.7 267.5h0.7v0.7h-0.7zM319.7 264.9h1.1v1.1h-1.1zM317.6 289.3h0.7v0.7h-0.7zM288.6 283.5h0.9v0.9h-0.9zM307.1 290.1h0.9v0.9h-0.9zM319.5 289.1h0.7v0.7h-0.7zM300.1 289.6h1.3v1.3h-1.3zM315.4 276.8h1.3v1.3h-1.3zM303.1 280.9h1.1v1.1h-1.1zM299.1 290.9h0.7v0.7h-0.7zM328.1 273.2h0.7v0.7h-0.7zM317.9 267.4h0.7v0.7h-0.7zM310.3 268.0h0.9v0.9h-0.9zM305.2 295.0h1.1v1.1h-1.1zM330.2 273.5h0.9v0.9h-0.9zM304.6 293.2h0.9v0.9h-0.9zM304.1 292.6h0.9v0.9h-0.9zM312.5 277.6h1.1v1.1h-1.1zM296.8 286.0h0.7v0.7h-0.7zM328.3 275.5h0.7v0.7h-0.7zM309.9 257.0h0.9v0.9h-0.9zM314.2 275.3h1.1v1.1h-1.1zM304.9 281.6h1.3v1.3h-1.3zM291.6 289.0h0.9v0.9h-0.9zM321.7 290.1h1.1v1.1h-1.1zM301.7 280.9h1.1v1.1h-1.1zM301.5 287.1h1.3v1.3h-1.3zM307.6 281.3h1.3v1.3h-1.3zM298.0 286.6h1.1v1.1h-1.1zM310.7 254.8h1.3v1.3h-1.3zM314.9 258.1h0.9v0.9h-0.9zM300.5 263.9h1.3v1.3h-1.3zM292.6 282.5h0.9v0.9h-0.9zM294.1 290.0h0.9v0.9h-0.9zM298.5 262.6h1.1v1.1h-1.1zM289.0 272.1h1.3v1.3h-1.3zM295.9 262.7h1.3v1.3h-1.3zM306.7 295.2h0.7v0.7h-0.7zM317.9 278.4h1.3v1.3h-1.3zM303.4 265.0h1.1v1.1h-1.1zM309.2 286.2h1.1v1.1h-1.1zM289.5 280.8h1.1v1.1h-1.1zM316.3 294.8h1.3v1.3h-1.3zM327.8 275.5h0.7v0.7h-0.7zM300.1 280.9h1.3v1.3h-1.3zM318.6 286.7h0.9v0.9h-0.9zM321.0 263.2h1.1v1.1h-1.1zM290.2 288.6h0.9v0.9h-0.9zM295.3 256.7h0.7v0.7h-0.7zM320.6 278.3h0.7v0.7h-0.7zM316.2 295.6h0.9v0.9h-0.9zM311.0 256.6h0.7v0.7h-0.7zM313.1 274.9h0.9v0.9h-0.9zM324.9 276.3h1.3v1.3h-1.3zM302.2 283.0h0.9v0.9h-0.9zM328.2 281.9h1.3v1.3h-1.3zM293.4 280.1h0.7v0.7h-0.7zM298.7 285.8h1.3v1.3h-1.3zM316.5 277.1h1.1v1.1h-1.1zM300.4 257.1h0.9v0.9h-0.9zM317.9 292.6h0.7v0.7h-0.7zM298.5 264.0h1.3v1.3h-1.3zM299.7 295.4h1.1v1.1h-1.1zM290.1 276.4h0.7v0.7h-0.7zM324.2 280.7h1.1v1.1h-1.1zM298.0 282.2h0.7v0.7h-0.7zM308.4 275.6h0.7v0.7h-0.7zM298.3 281.6h0.7v0.7h-0.7zM320.3 274.8h0.7v0.7h-0.7zM297.8 291.8h1.1v1.1h-1.1zM301.8 295.8h0.9v0.9h-0.9zM327.0 272.3h0.7v0.7h-0.7zM319.9 289.1h0.7v0.7h-0.7zM316.7 281.9h0.7v0.7h-0.7zM304.3 271.6h1.3v1.3h-1.3zM303.2 258.6h0.9v0.9h-0.9zM296.3 269.0h1.3v1.3h-1.3zM295.4 273.2h0.7v0.7h-0.7zM298.6 286.5h1.3v1.3h-1.3zM309.8 296.8h1.1v1.1h-1.1zM312.0 289.2h0.7v0.7h-0.7zM298.7 276.9h1.3v1.3h-1.3zM310.3 260.3h1.3v1.3h-1.3zM326.9 266.0h0.7v0.7h-0.7zM325.6 269.3h1.1v1.1h-1.1zM315.5 262.6h1.3v1.3h-1.3zM314.1 287.9h0.7v0.7h-0.7zM293.2 262.8h1.1v1.1h-1.1zM291.8 273.9h0.9v0.9h-0.9zM302.7 287.0h0.7v0.7h-0.7zM293.9 285.0h1.3v1.3h-1.3zM325.7 279.4h0.9v0.9h-0.9zM296.9 256.7h1.3v1.3h-1.3zM288.5 264.9h1.3v1.3h-1.3zM327.0 275.6h0.7v0.7h-0.7zM309.5 283.3h1.3v1.3h-1.3zM320.6 268.3h0.9v0.9h-0.9zM297.7 256.4h0.7v0.7h-0.7zM306.2 281.0h1.1v1.1h-1.1zM300.6 276.7h1.1v1.1h-1.1zM329.4 281.1h1.1v1.1h-1.1zM306.0 279.1h1.1v1.1h-1.1zM306.3 294.8h1.3v1.3h-1.3zM313.9 272.8h0.7v0.7h-0.7zM306.9 291.4h1.3v1.3h-1.3zM302.0 263.1h1.3v1.3h-1.3zM293.6 277.4h1.3v1.3h-1.3zM311.6 253.1h1.3v1.3h-1.3zM294.4 275.5h1.3v1.3h-1.3zM318.5 282.3h0.9v0.9h-0.9zM319.0 255.6h0.9v0.9h-0.9zM305.5 264.6h0.7v0.7h-0.7zM309.7 281.1h1.3v1.3h-1.3zM292.6 273.1h0.7v0.7h-0.7zM288.9 265.0h1.1v1.1h-1.1zM314.6 286.6h0.7v0.7h-0.7zM294.7 281.8h1.3v1.3h-1.3zM315.8 255.3h0.7v0.7h-0.7zM319.9 261.3h1.1v1.1h-1.1zM295.7 264.5h1.1v1.1h-1.1zM302.3 294.1h0.9v0.9h-0.9zM294.6 280.6h0.9v0.9h-0.9zM312.4 289.7h0.7v0.7h-0.7zM325.8 268.9h0.9v0.9h-0.9zM301.7 279.8h0.7v0.7h-0.7zM319.0 291.6h0.7v0.7h-0.7zM292.6 261.8h0.7v0.7h-0.7zM301.7 282.9h1.1v1.1h-1.1zM314.6 292.0h0.7v0.7h-0.7zM319.0 278.9h0.9v0.9h-0.9zM297.2 280.7h1.3v1.3h-1.3zM300.1 294.5h1.3v1.3h-1.3zM299.3 268.0h0.7v0.7h-0.7zM295.7 271.5h1.3v1.3h-1.3zM298.3 260.3h1.1v1.1h-1.1zM300.0 291.9h0.7v0.7h-0.7zM304.7 287.0h0.9v0.9h-0.9zM315.6 271.6h1.1v1.1h-1.1zM325.0 266.7h1.3v1.3h-1.3zM312.0 267.5h1.1v1.1h-1.1zM296.4 269.6h0.7v0.7h-0.7zM330.1 276.3h1.3v1.3h-1.3zM307.6 261.2h1.1v1.1h-1.1zM310.7 261.7h1.1v1.1h-1.1zM308.1 280.1h1.3v1.3h-1.3zM315.1 293.1h0.7v0.7h-0.7zM315.8 281.8h0.9v0.9h-0.9zM297.2 271.2h0.7v0.7h-0.7zM319.3 262.1h0.7v0.7h-0.7zM309.0 268.8h0.9v0.9h-0.9zM301.8 293.0h1.3v1.3h-1.3zM317.5 292.0h1.1v1.1h-1.1zM306.9 269.5h1.1v1.1h-1.1zM299.7 285.8h0.7v0.7h-0.7zM313.2 289.4h1.3v1.3h-1.3zM291.9 276.4h0.7v0.7h-0.7zM302.6 284.9h0.9v0.9h-0.9zM305.3 257.9h1.1v1.1h-1.1zM303.5 284.2h1.1v1.1h-1.1zM308.9 256.8h0.9v0.9h-0.9zM305.8 253.1h0.7v0.7h-0.7zM317.7 269.6h1.1v1.1h-1.1zM322.2 280.4h0.7v0.7h-0.7zM307.3 290.9h0.7v0.7h-0.7zM323.3 267.0h1.1v1.1h-1.1zM316.1 280.3h0.9v0.9h-0.9zM307.1 262.6h1.3v1.3h-1.3zM318.4 289.5h1.3v1.3h-1.3zM324.8 268.0h0.7v0.7h-0.7zM322.4 259.8h0.9v0.9h-0.9zM312.8 294.7h0.7v0.7h-0.7zM325.1 268.8h0.9v0.9h-0.9zM313.5 263.4h1.1v1.1h-1.1zM299.3 278.5h1.1v1.1h-1.1zM316.0 269.8h1.1v1.1h-1.1zM307.9 258.8h1.3v1.3h-1.3zM296.1 274.4h1.3v1.3h-1.3zM307.1 269.2h1.1v1.1h-1.1zM328.5 271.1h0.9v0.9h-0.9zM313.2 253.6h1.1v1.1h-1.1zM304.2 268.7h0.7v0.7h-0.7zM292.6 288.8h1.3v1.3h-1.3zM291.6 285.0h1.3v1.3h-1.3zM311.8 263.5h0.9v0.9h-0.9zM328.5 271.9h1.1v1.1h-1.1zM301.2 263.3h0.7v0.7h-0.7zM325.0 267.8h0.7v0.7h-0.7zM288.9 268.1h1.3v1.3h-1.3zM325.7 286.2h0.7v0.7h-0.7zM320.4 274.0h1.1v1.1h-1.1zM320.3 268.9h1.3v1.3h-1.3zM322.3 268.7h0.9v0.9h-0.9zM317.0 294.0h0.7v0.7h-0.7zM298.4 272.8h0.9v0.9h-0.9zM297.4 277.4h0.7v0.7h-0.7zM304.2 267.2h1.1v1.1h-1.1zM304.1 275.0h1.3v1.3h-1.3zM311.7 286.9h1.1v1.1h-1.1zM311.1 283.9h1.1v1.1h-1.1zM314.8 256.6h1.3v1.3h-1.3zM302.4 267.7h1.1v1.1h-1.1zM318.4 294.0h1.1v1.1h-1.1zM312.5 281.2h0.9v0.9h-0.9zM329.4 273.3h0.9v0.9h-0.9zM302.1 269.2h0.7v0.7h-0.7zM302.1 265.3h0.9v0.9h-0.9zM310.9 268.6h1.1v1.1h-1.1zM311.5 285.6h1.1v1.1h-1.1zM328.0 274.4h1.3v1.3h-1.3zM288.0 275.4h0.7v0.7h-0.7zM306.7 293.9h1.1v1.1h-1.1zM294.0 286.9h1.1v1.1h-1.1zM308.3 272.8h1.3v1.3h-1.3zM305.9 276.7h0.9v0.9h-0.9zM327.0 265.5h1.3v1.3h-1.3zM295.7 289.0h1.3v1.3h-1.3zM321.6 265.8h1.1v1.1h-1.1zM321.2 277.9h0.9v0.9h-0.9zM301.9 290.5h1.1v1.1h-1.1zM292.0 259.8h1.3v1.3h-1.3zM308.5 258.8h1.3v1.3h-1.3zM312.9 267.8h1.3v1.3h-1.3zM296.6 266.5h0.9v0.9h-0.9zM313.3 269.2h1.3v1.3h-1.3zM317.0 270.7h0.9v0.9h-0.9zM318.9 290.2h0.9v0.9h-0.9zM318.8 267.3h1.1v1.1h-1.1zM295.9 289.8h0.7v0.7h-0.7zM301.5 268.1h1.1v1.1h-1.1zM325.6 272.5h0.7v0.7h-0.7zM292.4 290.5h1.1v1.1h-1.1zM321.1 271.6h1.1v1.1h-1.1zM313.8 293.7h1.1v1.1h-1.1zM325.1 265.7h0.7v0.7h-0.7zM303.7 276.9h1.3v1.3h-1.3zM287.6 278.0h0.9v0.9h-0.9zM313.1 281.1h1.3v1.3h-1.3zM312.0 288.6h0.7v0.7h-0.7zM290.8 279.5h1.3v1.3h-1.3zM302.2 260.0h0.9v0.9h-0.9zM289.9 267.0h0.9v0.9h-0.9zM308.9 296.4h0.9v0.9h-0.9zM323.2 278.8h1.3v1.3h-1.3zM318.3 288.1h1.1v1.1h-1.1zM285.8 273.4h1.3v1.3h-1.3zM312.2 277.1h0.7v0.7h-0.7zM306.0 276.5h0.9v0.9h-0.9zM304.6 268.2h0.9v0.9h-0.9zM324.9 265.3h0.7v0.7h-0.7zM307.6 287.9h1.1v1.1h-1.1zM305.9 286.6h1.3v1.3h-1.3zM312.7 258.8h0.7v0.7h-0.7zM308.2 287.2h0.7v0.7h-0.7zM325.3 284.2h0.7v0.7h-0.7zM291.8 285.0h1.3v1.3h-1.3zM328.2 278.9h0.9v0.9h-0.9zM293.3 260.3h0.7v0.7h-0.7zM312.0 283.6h0.7v0.7h-0.7zM294.2 287.4h0.9v0.9h-0.9zM309.1 296.2h1.1v1.1h-1.1zM304.6 290.5h1.3v1.3h-1.3zM321.0 285.7h1.3v1.3h-1.3zM302.3 277.8h0.9v0.9h-0.9zM307.1 257.4h1.3v1.3h-1.3zM318.2 282.2h1.1v1.1h-1.1zM291.7 288.7h1.1v1.1h-1.1zM321.8 269.4h0.9v0.9h-0.9zM319.7 271.4h1.3v1.3h-1.3zM328.5 281.9h0.7v0.7h-0.7zM293.1 283.0h1.1v1.1h-1.1zM289.1 286.4h1.1v1.1h-1.1zM327.9 278.6h0.9v0.9h-0.9zM306.1 294.1h0.9v0.9h-0.9z" fill="#7083cc" fill-opacity="0.17"/>
<path d="M311.4 268.1h0.7v0.7h-0.7zM323.0 278.7h0.7v0.7h-0.7zM320.9 283.3h0.7v0.7h-0.7zM293.0 283.1h1.1v1.1h-1.1zM323.8 286.1h0.7v0.7h-0.7zM294.3 266.8h1.1v1.1h-1.1zM326.5 282.2h0.9v0.9h-0.9zM315.3 287.7h1.1v1.1h-1.1zM326.6 273.1h1.3v1.3h-1.3zM313.9 283.3h0.9v0.9h-0.9zM315.9 295.5h1.3v1.3h-1.3zM317.8 279.5h1.3v1.3h-1.3zM314.0 296.0h1.1v1.1h-1.1zM303.8 263.3h1.1v1.1h-1.1zM300.8 283.9h1.1v1.1h-1.1zM292.7 261.8h0.9v0.9h-0.9zM316.1 257.1h0.9v0.9h-0.9zM314.8 278.7h1.3v1.3h-1.3zM290.1 287.7h0.9v0.9h-0.9zM312.2 274.6h1.3v1.3h-1.3zM314.0 256.5h0.7v0.7h-0.7zM317.8 256.2h0.9v0.9h-0.9zM304.0 274.2h1.3v1.3h-1.3zM292.4 262.3h0.9v0.9h-0.9zM291.6 279.7h1.3v1.3h-1.3zM301.2 254.7h1.1v1.1h-1.1zM324.9 283.4h0.7v0.7h-0.7zM325.0 268.0h1.1v1.1h-1.1zM307.6 283.9h1.3v1.3h-1.3zM307.6 267.0h1.3v1.3h-1.3zM322.7 274.2h1.3v1.3h-1.3zM323.0 274.3h1.1v1.1h-1.1zM326.6 280.2h0.7v0.7h-0.7zM296.9 272.6h1.3v1.3h-1.3zM287.4 268.8h1.1v1.1h-1.1zM298.9 285.1h1.1v1.1h-1.1zM309.5 255.4h1.3v1.3h-1.3zM316.5 257.5h1.3v1.3h-1.3zM324.7 264.4h0.7v0.7h-0.7zM296.8 266.8h1.1v1.1h-1.1zM292.5 278.6h0.7v0.7h-0.7zM306.7 280.7h1.1v1.1h-1.1zM307.9 287.2h1.1v1.1h-1.1zM326.3 280.7h1.3v1.3h-1.3zM300.2 265.0h0.7v0.7h-0.7zM315.7 290.2h1.1v1.1h-1.1zM307.7 259.7h1.3v1.3h-1.3zM304.1 296.8h0.9v0.9h-0.9zM308.0 283.2h0.9v0.9h-0.9zM303.0 273.3h0.9v0.9h-0.9zM303.2 272.7h1.1v1.1h-1.1zM294.7 258.0h1.3v1.3h-1.3zM307.0 293.6h1.1v1.1h-1.1zM314.0 296.1h1.1v1.1h-1.1zM323.6 270.1h0.9v0.9h-0.9zM286.6 277.1h0.7v0.7h-0.7zM313.4 272.2h0.7v0.7h-0.7zM329.6 274.5h1.1v1.1h-1.1zM321.3 282.4h0.7v0.7h-0.7zM306.5 258.7h1.3v1.3h-1.3zM313.1 253.9h1.3v1.3h-1.3zM317.3 270.3h1.1v1.1h-1.1zM295.0 290.4h0.7v0.7h-0.7zM298.3 261.8h1.1v1.1h-1.1zM330.1 273.3h0.9v0.9h-0.9zM295.3 260.2h1.1v1.1h-1.1zM321.5 278.3h0.7v0.7h-0.7zM314.1 261.2h1.1v1.1h-1.1zM303.1 266.7h0.7v0.7h-0.7zM289.6 285.4h1.1v1.1h-1.1zM295.4 268.3h0.9v0.9h-0.9zM288.5 265.4h0.9v0.9h-0.9zM322.9 264.7h0.9v0.9h-0.9zM312.4 285.1h1.3v1.3h-1.3zM301.4 280.8h0.9v0.9h-0.9zM309.5 254.7h1.3v1.3h-1.3zM313.6 261.2h0.7v0.7h-0.7zM323.3 280.3h1.3v1.3h-1.3zM314.6 276.1h0.7v0.7h-0.7zM322.3 290.5h1.1v1.1h-1.1zM316.8 259.3h1.1v1.1h-1.1zM299.7 290.9h1.3v1.3h-1.3zM307.2 296.8h1.3v1.3h-1.3zM300.2 282.6h1.3v1.3h-1.3zM304.4 281.3h0.9v0.9h-0.9zM295.7 282.1h0.7v0.7h-0.7zM298.4 268.9h1.3v1.3h-1.3zM322.4 291.3h0.9v0.9h-0.9zM294.4 264.8h1.3v1.3h-1.3zM325.1 276.3h0.9v0.9h-0.9zM293.5 283.4h1.3v1.3h-1.3zM324.2 283.9h0.9v0.9h-0.9zM310.3 272.5h1.1v1.1h-1.1zM319.1 271.6h1.1v1.1h-1.1zM294.2 286.1h0.9v0.9h-0.9zM307.3 268.3h1.1v1.1h-1.1zM289.4 262.8h1.1v1.1h-1.1zM291.6 283.5h1.1v1.1h-1.1zM325.9 272.7h1.3v1.3h-1.3zM315.4 288.4h1.1v1.1h-1.1zM319.1 286.2h0.9v0.9h-0.9zM305.8 294.6h0.9v0.9h-0.9zM327.0 271.8h1.1v1.1h-1.1zM318.6 259.5h0.9v0.9h-0.9zM302.3 269.1h1.3v1.3h-1.3zM324.5 279.0h0.9v0.9h-0.9zM299.8 273.8h1.3v1.3h-1.3zM289.4 286.7h0.9v0.9h-0.9zM298.4 277.4h0.7v0.7h-0.7zM290.9 278.3h0.9v0.9h-0.9zM291.3 282.8h1.1v1.1h-1.1zM305.8 272.5h0.7v0.7h-0.7zM302.3 282.7h1.3v1.3h-1.3zM308.3 285.0h0.7v0.7h-0.7zM295.4 274.6h1.1v1.1h-1.1zM296.4 258.2h1.1v1.1h-1.1zM301.4 280.0h0.7v0.7h-0.7zM294.5 262.9h0.7v0.7h-0.7zM323.8 265.3h1.1v1.1h-1.1zM305.0 292.0h1.3v1.3h-1.3zM293.0 263.0h1.3v1.3h-1.3zM290.4 277.5h0.9v0.9h-0.9zM295.4 268.3h0.9v0.9h-0.9zM297.1 286.5h0.7v0.7h-0.7zM316.9 280.9h1.3v1.3h-1.3zM316.4 293.9h1.1v1.1h-1.1zM318.8 283.0h0.7v0.7h-0.7zM297.5 285.0h1.3v1.3h-1.3zM305.8 264.5h0.7v0.7h-0.7zM318.1 269.9h1.1v1.1h-1.1zM315.0 260.4h1.1v1.1h-1.1zM296.8 280.0h0.9v0.9h-0.9zM328.5 275.1h1.1v1.1h-1.1zM304.4 278.8h1.3v1.3h-1.3zM306.2 285.2h0.9v0.9h-0.9zM322.8 262.4h1.1v1.1h-1.1zM320.4 282.8h1.3v1.3h-1.3zM323.7 270.4h0.7v0.7h-0.7zM329.9 277.8h0.9v0.9h-0.9zM325.5 276.7h1.3v1.3h-1.3zM305.7 267.3h0.7v0.7h-0.7zM314.7 280.5h0.9v0.9h-0.9zM285.9 272.4h1.1v1.1h-1.1zM313.7 292.8h0.9v0.9h-0.9zM292.6 269.2h1.1v1.1h-1.1zM315.2 262.9h0.7v0.7h-0.7zM298.0 278.5h1.1v1.1h-1.1zM294.1 283.8h0.9v0.9h-0.9zM301.0 256.7h0.7v0.7h-0.7zM317.3 254.5h1.3v1.3h-1.3zM287.7 271.9h0.9v0.9h-0.9zM313.2 290.3h1.1v1.1h-1.1zM294.6 268.3h0.7v0.7h-0.7zM300.9 258.8h0.9v0.9h-0.9zM311.1 263.5h0.9v0.9h-0.9zM326.1 278.9h1.1v1.1h-1.1zM296.1 290.2h1.3v1.3h-1.3zM303.2 290.3h0.9v0.9h-0.9zM302.2 279.7h0.9v0.9h-0.9zM294.7 269.5h1.1v1.1h-1.1zM326.7 277.8h1.3v1.3h-1.3zM322.9 275.0h0.7v0.7h-0.7zM292.9 284.9h1.3v1.3h-1.3zM320.5 262.6h0.7v0.7h-0.7zM305.7 270.2h1.1v1.1h-1.1zM308.3 269.4h1.1v1.1h-1.1zM298.6 280.6h1.1v1.1h-1.1zM320.3 289.3h1.3v1.3h-1.3zM307.1 272.6h1.3v1.3h-1.3zM320.8 269.3h1.1v1.1h-1.1zM301.8 268.5h1.3v1.3h-1.3zM294.3 257.3h1.3v1.3h-1.3zM296.6 260.5h1.1v1.1h-1.1zM314.9 264.0h0.9v0.9h-0.9zM323.1 269.2h1.3v1.3h-1.3zM325.9 274.6h0.7v0.7h-0.7zM319.1 257.1h1.3v1.3h-1.3zM310.4 276.0h0.9v0.9h-0.9zM306.5 276.2h1.1v1.1h-1.1zM290.0 271.5h0.9v0.9h-0.9zM301.3 261.0h0.7v0.7h-0.7zM311.8 295.5h0.7v0.7h-0.7zM295.9 272.4h1.3v1.3h-1.3zM319.0 259.6h1.3v1.3h-1.3zM289.6 279.7h0.9v0.9h-0.9zM311.0 273.8h1.1v1.1h-1.1zM325.4 275.5h1.1v1.1h-1.1zM323.7 277.1h0.7v0.7h-0.7zM328.5 283.5h1.1v1.1h-1.1zM313.0 274.8h0.7v0.7h-0.7zM313.2 255.4h0.9v0.9h-0.9zM291.4 280.7h1.1v1.1h-1.1zM323.6 266.7h0.7v0.7h-0.7zM320.1 261.0h0.9v0.9h-0.9zM326.2 284.0h1.1v1.1h-1.1zM299.0 262.8h1.1v1.1h-1.1zM291.3 284.6h1.1v1.1h-1.1zM298.9 285.9h1.1v1.1h-1.1zM298.0 259.9h1.1v1.1h-1.1zM297.0 287.8h1.1v1.1h-1.1zM321.2 269.7h0.9v0.9h-0.9zM307.6 287.1h1.3v1.3h-1.3zM301.2 296.3h0.9v0.9h-0.9zM286.3 277.9h1.1v1.1h-1.1zM300.4 258.5h1.3v1.3h-1.3zM326.9 280.5h1.3v1.3h-1.3zM311.3 266.0h0.7v0.7h-0.7zM312.7 274.3h0.9v0.9h-0.9zM313.0 256.7h0.7v0.7h-0.7zM314.0 268.8h1.3v1.3h-1.3zM306.4 274.7h0.9v0.9h-0.9zM292.7 282.8h1.3v1.3h-1.3zM296.7 284.3h1.3v1.3h-1.3zM301.2 256.7h0.9v0.9h-0.9zM290.0 273.6h1.3v1.3h-1.3zM291.2 272.3h1.1v1.1h-1.1zM303.3 266.2h1.3v1.3h-1.3zM302.4 260.0h1.3v1.3h-1.3zM309.4 295.8h0.9v0.9h-0.9zM300.7 280.5h0.7v0.7h-0.7zM318.9 261.7h1.3v1.3h-1.3zM299.6 289.5h0.7v0.7h-0.7zM310.9 290.2h0.9v0.9h-0.9zM321.6 290.8h1.3v1.3h-1.3zM311.4 293.9h1.1v1.1h-1.1zM304.2 266.1h0.7v0.7h-0.7zM327.9 280.2h1.1v1.1h-1.1zM319.5 267.8h0.9v0.9h-0.9zM310.9 291.9h0.7v0.7h-0.7zM314.3 287.1h1.3v1.3h-1.3zM300.5 282.8h1.3v1.3h-1.3zM329.5 276.8h1.3v1.3h-1.3zM303.6 264.2h0.9v0.9h-0.9zM296.6 291.9h1.3v1.3h-1.3zM327.7 279.0h0.9v0.9h-0.9zM316.0 286.3h0.9v0.9h-0.9zM324.0 285.5h1.1v1.1h-1.1zM313.1 259.3h1.3v1.3h-1.3zM326.2 283.2h1.1v1.1h-1.1zM315.9 294.4h1.3v1.3h-1.3zM285.9 275.0h0.9v0.9h-0.9zM297.8 254.8h1.3v1.3h-1.3zM328.4 268.7h0.9v0.9h-0.9zM316.0 290.6h1.1v1.1h-1.1zM316.6 268.3h0.7v0.7h-0.7zM288.9 263.3h1.1v1.1h-1.1zM304.8 295.9h1.3v1.3h-1.3zM312.4 259.6h0.7v0.7h-0.7zM324.0 266.6h1.3v1.3h-1.3zM291.9 287.6h1.1v1.1h-1.1zM293.5 284.8h1.1v1.1h-1.1zM303.1 255.4h1.1v1.1h-1.1zM292.2 271.0h1.3v1.3h-1.3zM301.9 295.8h1.1v1.1h-1.1zM318.9 257.8h0.7v0.7h-0.7zM294.9 267.2h1.3v1.3h-1.3zM328.6 270.7h1.3v1.3h-1.3zM302.0 283.7h1.3v1.3h-1.3zM295.9 272.6h1.3v1.3h-1.3zM319.1 292.9h1.3v1.3h-1.3zM310.6 253.7h0.7v0.7h-0.7zM290.2 266.5h1.3v1.3h-1.3zM323.1 265.4h0.7v0.7h-0.7zM313.6 276.3h0.9v0.9h-0.9zM309.3 253.9h0.7v0.7h-0.7zM314.1 290.0h1.3v1.3h-1.3zM318.6 289.2h1.1v1.1h-1.1zM315.0 275.4h0.7v0.7h-0.7zM292.1 272.8h1.3v1.3h-1.3zM318.1 258.5h0.7v0.7h-0.7zM317.1 262.6h0.7v0.7h-0.7zM298.3 266.1h1.1v1.1h-1.1zM304.2 281.7h1.3v1.3h-1.3zM315.8 278.2h1.3v1.3h-1.3zM323.2 268.1h0.7v0.7h-0.7zM303.8 264.5h1.1v1.1h-1.1zM318.1 262.7h1.1v1.1h-1.1zM310.7 263.1h1.1v1.1h-1.1zM299.7 273.7h0.9v0.9h-0.9zM304.9 289.2h0.7v0.7h-0.7zM325.6 280.7h1.1v1.1h-1.1zM294.6 284.1h0.9v0.9h-0.9zM322.4 280.7h0.7v0.7h-0.7zM291.4 272.6h1.1v1.1h-1.1zM303.1 266.9h1.1v1.1h-1.1zM316.9 263.8h0.9v0.9h-0.9zM308.8 279.7h1.3v1.3h-1.3zM314.8 263.7h1.1v1.1h-1.1zM293.1 289.7h1.3v1.3h-1.3zM299.6 267.0h1.3v1.3h-1.3zM300.4 293.6h1.1v1.1h-1.1zM309.5 263.4h0.7v0.7h-0.7zM308.3 283.4h1.3v1.3h-1.3zM307.6 292.4h0.9v0.9h-0.9zM313.6 271.1h0.9v0.9h-0.9zM292.3 280.3h1.1v1.1h-1.1zM315.8 292.2h1.1v1.1h-1.1zM305.9 268.8h1.3v1.3h-1.3zM315.4 289.5h0.7v0.7h-0.7zM301.1 280.1h1.1v1.1h-1.1zM309.2 261.8h1.1v1.1h-1.1zM315.8 259.0h0.7v0.7h-0.7zM307.3 273.2h0.9v0.9h-0.9zM315.3 276.1h0.7v0.7h-0.7z" fill="#7083cc" fill-opacity="0.28"/>
<path d="M318.8 278.4h0.9v0.9h-0.9zM321.9 285.5h0.9v0.9h-0.9zM326.0 279.4h1.1v1.1h-1.1zM325.5 281.9h1.3v1.3h-1.3zM328.6 276.5h0.9v0.9h-0.9zM306.0 284.1h1.1v1.1h-1.1zM300.6 275.8h0.7v0.7h-0.7zM311.9 259.4h0.9v0.9h-0.9zM287.2 282.0h1.1v1.1h-1.1zM294.2 263.3h1.3v1.3h-1.3zM307.8 287.9h0.9v0.9h-0.9zM312.5 270.8h0.9v0.9h-0.9zM309.1 253.2h1.3v1.3h-1.3zM295.4 264.2h0.9v0.9h-0.9zM307.4 280.2h0.9v0.9h-0.9zM320.5 292.2h1.3v1.3h-1.3zM307.3 283.7h0.7v0.7h-0.7zM307.1 285.2h1.1v1.1h-1.1zM311.6 281.1h1.3v1.3h-1.3zM313.0 286.5h0.7v0.7h-0.7zM328.7 279.5h0.9v0.9h-0.9zM295.2 267.2h1.1v1.1h-1.1zM294.5 261.3h1.3v1.3h-1.3zM307.6 259.0h0.7v0.7h-0.7zM293.2 275.3h1.3v1.3h-1.3zM301.2 257.2h1.1v1.1h-1.1zM306.0 281.6h1.3v1.3h-1.3zM299.7 270.3h1.1v1.1h-1.1zM291.6 285.6h1.3v1.3h-1.3zM318.1 271.1h0.7v0.7h-0.7zM315.1 288.1h1.1v1.1h-1.1zM286.0 269.6h1.1v1.1h-1.1zM303.4 273.4h1.3v1.3h-1.3zM288.7 275.6h1.3v1.3h-1.3zM300.5 292.8h1.1v1.1h-1.1zM300.3 278.0h0.7v0.7h-0.7zM324.3 285.0h0.9v0.9h-0.9zM292.8 270.8h1.1v1.1h-1.1zM314.4 276.5h0.7v0.7h-0.7zM310.0 280.9h1.1v1.1h-1.1zM305.0 296.9h0.7v0.7h-0.7zM307.4 255.9h1.1v1.1h-1.1zM329.1 272.4h0.7v0.7h-0.7zM310.3 262.1h1.1v1.1h-1.1zM308.1 286.9h0.9v0.9h-0.9zM287.5 278.0h1.3v1.3h-1.3zM293.1 289.9h1.3v1.3h-1.3zM297.9 282.3h1.1v1.1h-1.1zM320.6 285.2h0.9v0.9h-0.9zM323.1 290.4h1.3v1.3h-1.3zM324.8 279.5h0.7v0.7h-0.7zM303.5 286.0h1.3v1.3h-1.3zM292.8 265.1h0.9v0.9h-0.9zM307.5 291.7h1.3v1.3h-1.3zM305.9 297.2h0.9v0.9h-0.9zM291.4 260.2h1.1v1.1h-1.1zM291.0 272.3h1.3v1.3h-1.3zM301.8 276.9h0.9v0.9h-0.9zM306.0 291.9h1.3v1.3h-1.3zM313.9 265.8h0.9v0.9h-0.9zM316.2 276.7h0.9v0.9h-0.9zM328.4 279.5h0.7v0.7h-0.7zM299.0 276.2h0.9v0.9h-0.9zM301.6 288.9h0.7v0.7h-0.7zM307.3 287.6h1.1v1.1h-1.1zM309.9 257.0h1.3v1.3h-1.3zM312.6 256.5h0.7v0.7h-0.7zM288.6 271.2h0.7v0.7h-0.7zM293.1 266.5h1.3v1.3h-1.3zM313.4 282.6h1.1v1.1h-1.1zM298.1 279.3h0.7v0.7h-0.7zM291.7 286.9h0.9v0.9h-0.9zM297.9 262.6h1.1v1.1h-1.1zM311.8 256.1h0.9v0.9h-0.9zM289.4 272.8h0.9v0.9h-0.9zM304.5 258.6h1.1v1.1h-1.1zM292.5 287.5h0.7v0.7h-0.7zM314.2 277.4h1.3v1.3h-1.3zM327.2 275.2h1.1v1.1h-1.1zM318.1 256.0h0.9v0.9h-0.9zM293.4 263.0h0.7v0.7h-0.7zM304.0 267.5h0.7v0.7h-0.7zM316.4 261.3h1.3v1.3h-1.3zM311.4 289.7h0.9v0.9h-0.9zM311.0 258.0h0.9v0.9h-0.9zM294.1 281.1h0.7v0.7h-0.7zM302.3 294.6h1.3v1.3h-1.3zM311.8 258.0h1.1v1.1h-1.1zM303.9 266.6h0.7v0.7h-0.7zM292.7 288.1h1.1v1.1h-1.1zM290.6 262.0h1.3v1.3h-1.3zM320.0 293.1h0.7v0.7h-0.7zM318.2 257.2h0.9v0.9h-0.9zM327.8 271.6h1.3v1.3h-1.3zM314.0 293.7h0.9v0.9h-0.9zM309.7 292.3h1.1v1.1h-1.1zM311.5 284.6h1.1v1.1h-1.1zM326.8 268.4h0.9v0.9h-0.9zM325.0 266.0h0.7v0.7h-0.7zM319.4 274.5h0.7v0.7h-0.7zM297.0 263.5h1.1v1.1h-1.1zM299.1 271.9h0.9v0.9h-0.9zM297.6 280.9h0.7v0.7h-0.7zM296.2 269.3h0.9v0.9h-0.9zM312.4 267.5h0.9v0.9h-0.9zM312.9 292.3h0.9v0.9h-0.9zM316.5 266.0h0.9v0.9h-0.9zM326.7 279.4h0.7v0.7h-0.7zM323.7 285.8h0.9v0.9h-0.9zM316.2 277.2h1.3v1.3h-1.3zM313.7 273.8h1.1v1.1h-1.1zM290.9 286.9h1.3v1.3h-1.3zM316.3 255.9h0.7v0.7h-0.7zM320.9 261.5h0.7v0.7h-0.7zM308.5 280.3h0.7v0.7h-0.7zM302.3 283.3h0.7v0.7h-0.7zM297.0 269.2h0.7v0.7h-0.7zM313.6 293.1h1.3v1.3h-1.3zM322.0 276.0h0.9v0.9h-0.9zM300.6 287.0h0.9v0.9h-0.9zM315.0 259.7h1.3v1.3h-1.3zM319.2 259.6h1.1v1.1h-1.1zM303.8 288.9h1.3v1.3h-1.3zM313.9 262.7h0.9v0.9h-0.9zM324.4 279.9h1.3v1.3h-1.3zM323.6 271.2h1.3v1.3h-1.3zM298.7 285.9h0.7v0.7h-0.7zM299.5 274.2h1.1v1.1h-1.1zM302.6 278.4h0.7v0.7h-0.7zM309.6 275.2h0.7v0.7h-0.7zM322.0 258.1h0.7v0.7h-0.7zM317.5 289.8h0.9v0.9h-0.9zM328.8 275.6h1.3v1.3h-1.3zM299.9 271.6h1.3v1.3h-1.3zM308.4 283.9h0.9v0.9h-0.9zM318.5 257.5h0.9v0.9h-0.9zM320.1 280.3h0.9v0.9h-0.9zM321.4 288.6h1.1v1.1h-1.1zM290.3 287.2h0.9v0.9h-0.9zM308.5 265.3h0.7v0.7h-0.7zM305.2 262.9h1.3v1.3h-1.3zM302.9 261.1h0.9v0.9h-0.9zM286.7 268.6h0.9v0.9h-0.9zM307.9 281.2h1.1v1.1h-1.1zM314.9 268.8h0.9v0.9h-0.9zM301.0 283.5h0.7v0.7h-0.7zM323.4 286.4h1.1v1.1h-1.1zM294.4 287.5h1.1v1.1h-1.1zM309.0 283.9h1.1v1.1h-1.1zM303.9 293.0h1.3v1.3h-1.3zM325.6 270.7h0.7v0.7h-0.7zM297.7 266.5h1.3v1.3h-1.3zM289.5 277.1h1.1v1.1h-1.1zM300.1 262.6h1.3v1.3h-1.3zM290.7 271.5h1.3v1.3h-1.3zM289.5 267.2h0.9v0.9h-0.9zM292.8 260.5h0.7v0.7h-0.7zM311.8 267.1h1.1v1.1h-1.1zM324.6 266.3h1.1v1.1h-1.1zM312.2 259.3h0.7v0.7h-0.7zM317.0 259.7h1.1v1.1h-1.1zM310.9 296.9h0.7v0.7h-0.7zM312.7 294.7h1.3v1.3h-1.3zM294.9 268.0h1.1v1.1h-1.1zM306.4 265.5h1.3v1.3h-1.3zM310.8 257.0h0.7v0.7h-0.7zM302.4 262.9h1.1v1.1h-1.1zM286.6 274.4h0.9v0.9h-0.9zM299.8 270.0h1.1v1.1h-1.1zM303.0 288.0h1.3v1.3h-1.3zM310.9 289.5h0.9v0.9h-0.9zM320.5 275.4h0.7v0.7h-0.7zM309.9 261.7h1.3v1.3h-1.3zM307.7 292.3h0.7v0.7h-0.7zM297.3 272.0h0.9v0.9h-0.9zM305.9 271.8h1.3v1.3h-1.3zM309.0 285.6h1.3v1.3h-1.3zM286.7 276.9h0.9v0.9h-0.9zM289.3 264.8h0.9v0.9h-0.9zM292.0 284.2h1.3v1.3h-1.3zM296.6 262.4h0.7v0.7h-0.7zM319.8 256.4h0.7v0.7h-0.7zM306.4 285.1h1.1v1.1h-1.1zM305.3 279.5h1.3v1.3h-1.3zM322.6 264.0h0.9v0.9h-0.9zM293.4 284.4h1.3v1.3h-1.3zM316.9 256.7h1.3v1.3h-1.3zM304.4 260.5h1.1v1.1h-1.1zM326.2 283.8h0.9v0.9h-0.9zM287.8 265.4h0.7v0.7h-0.7zM295.0 259.1h0.7v0.7h-0.7zM308.5 265.4h0.9v0.9h-0.9zM289.3 276.2h1.1v1.1h-1.1zM302.3 272.3h0.9v0.9h-0.9zM305.4 262.5h1.1v1.1h-1.1zM314.7 266.3h1.3v1.3h-1.3zM291.6 282.4h1.1v1.1h-1.1zM307.2 260.2h0.7v0.7h-0.7zM328.5 274.7h0.9v0.9h-0.9zM292.9 274.0h0.7v0.7h-0.7zM300.7 294.6h1.3v1.3h-1.3zM304.9 283.4h0.9v0.9h-0.9zM324.9 267.3h0.9v0.9h-0.9zM327.7 268.9h0.7v0.7h-0.7zM322.3 260.6h0.9v0.9h-0.9zM321.4 272.8h0.9v0.9h-0.9zM288.8 279.1h1.3v1.3h-1.3zM301.9 265.7h0.7v0.7h-0.7zM312.8 290.2h0.9v0.9h-0.9zM325.5 278.7h0.7v0.7h-0.7zM301.2 287.6h0.7v0.7h-0.7zM294.8 288.2h0.9v0.9h-0.9zM319.3 257.1h1.3v1.3h-1.3zM315.2 285.3h0.7v0.7h-0.7zM298.3 277.1h0.7v0.7h-0.7zM325.4 279.6h0.9v0.9h-0.9zM296.9 281.9h0.9v0.9h-0.9zM298.6 266.3h0.7v0.7h-0.7zM312.5 265.4h1.1v1.1h-1.1zM321.7 271.2h0.9v0.9h-0.9zM321.6 263.3h1.3v1.3h-1.3zM322.7 269.5h1.1v1.1h-1.1zM294.2 273.6h1.1v1.1h-1.1zM326.6 270.4h1.1v1.1h-1.1zM317.3 289.9h0.7v0.7h-0.7zM310.3 261.8h0.9v0.9h-0.9zM305.5 288.8h1.3v1.3h-1.3zM327.8 280.1h1.1v1.1h-1.1zM305.5 265.6h1.3v1.3h-1.3zM324.9 262.0h1.3v1.3h-1.3zM320.8 288.8h1.3v1.3h-1.3zM312.0 294.8h0.9v0.9h-0.9zM297.4 256.7h0.7v0.7h-0.7zM311.4 255.0h0.9v0.9h-0.9zM298.6 286.9h1.1v1.1h-1.1zM295.8 262.4h1.1v1.1h-1.1zM306.1 280.1h0.9v0.9h-0.9zM300.6 275.5h1.1v1.1h-1.1zM296.7 289.7h0.9v0.9h-0.9zM310.1 264.3h0.7v0.7h-0.7zM308.6 269.3h1.3v1.3h-1.3zM326.0 273.2h0.7v0.7h-0.7zM318.5 281.6h1.1v1.1h-1.1zM326.2 272.5h1.3v1.3h-1.3zM298.6 289.2h1.1v1.1h-1.1zM327.9 275.2h0.9v0.9h-0.9zM313.9 263.0h1.1v1.1h-1.1zM312.0 294.4h0.7v0.7h-0.7zM297.8 259.9h1.3v1.3h-1.3zM320.3 258.8h1.1v1.1h-1.1zM318.0 290.4h1.1v1.1h-1.1zM311.0 276.3h0.9v0.9h-0.9zM295.2 289.6h0.9v0.9h-0.9zM295.1 257.6h1.3v1.3h-1.3zM306.4 290.5h0.9v0.9h-0.9zM309.7 265.9h1.3v1.3h-1.3zM324.0 290.0h1.3v1.3h-1.3zM314.7 288.6h0.7v0.7h-0.7zM290.1 267.6h0.9v0.9h-0.9zM326.9 263.0h0.9v0.9h-0.9zM328.8 269.8h0.9v0.9h-0.9zM306.4 260.6h1.3v1.3h-1.3zM315.9 283.2h0.9v0.9h-0.9zM298.1 262.0h1.3v1.3h-1.3zM295.3 268.2h1.3v1.3h-1.3zM295.2 260.6h0.9v0.9h-0.9zM321.9 264.0h1.3v1.3h-1.3zM316.0 285.9h1.1v1.1h-1.1z" fill="#7083cc" fill-opacity="0.4"/>
<path d="M296.0 262.2h0.7v0.7h-0.7zM290.9 275.2h1.1v1.1h-1.1zM292.8 267.3h1.1v1.1h-1.1zM302.8 296.7h0.7v0.7h-0.7zM314.8 286.7h1.3v1.3h-1.3zM321.2 269.9h0.7v0.7h-0.7zM316.7 255.8h1.1v1.1h-1.1zM326.2 269.5h0.7v0.7h-0.7zM324.0 262.9h1.3v1.3h-1.3zM293.2 258.4h1.1v1.1h-1.1zM322.7 289.3h1.3v1.3h-1.3zM299.6 288.8h0.7v0.7h-0.7zM324.9 264.1h0.9v0.9h-0.9zM314.7 253.7h1.3v1.3h-1.3zM319.6 267.2h1.3v1.3h-1.3zM313.0 267.3h0.7v0.7h-0.7zM301.5 277.4h0.9v0.9h-0.9zM328.6 273.6h0.9v0.9h-0.9zM299.7 288.5h0.7v0.7h-0.7zM308.6 254.3h1.1v1.1h-1.1zM313.2 278.3h0.9v0.9h-0.9zM327.4 276.8h0.9v0.9h-0.9zM308.2 290.4h1.3v1.3h-1.3zM321.7 273.4h0.9v0.9h-0.9zM325.6 283.3h1.1v1.1h-1.1zM292.6 264.0h0.7v0.7h-0.7zM313.7 287.6h0.7v0.7h-0.7zM325.2 286.0h0.9v0.9h-0.9zM302.9 269.6h0.9v0.9h-0.9zM309.8 294.7h0.9v0.9h-0.9zM304.4 263.6h1.3v1.3h-1.3zM309.5 275.0h1.3v1.3h-1.3zM307.1 294.4h1.1v1.1h-1.1zM312.9 283.5h0.9v0.9h-0.9zM292.9 270.0h1.1v1.1h-1.1zM298.2 284.7h0.7v0.7h-0.7zM325.6 286.5h1.3v1.3h-1.3zM318.4 285.7h1.3v1.3h-1.3zM322.5 274.8h1.3v1.3h-1.3zM318.6 282.6h0.9v0.9h-0.9zM291.4 284.7h0.9v0.9h-0.9zM293.3 288.5h1.1v1.1h-1.1zM315.6 256.6h0.7v0.7h-0.7zM311.5 267.4h1.3v1.3h-1.3zM297.2 266.4h1.1v1.1h-1.1zM299.9 266.9h1.3v1.3h-1.3zM294.3 289.0h0.9v0.9h-0.9zM302.9 270.1h0.7v0.7h-0.7zM301.9 273.1h0.7v0.7h-0.7zM302.7 277.8h1.1v1.1h-1.1zM296.5 284.5h0.7v0.7h-0.7zM320.5 266.2h0.7v0.7h-0.7zM294.9 262.5h0.9v0.9h-0.9zM321.0 286.9h1.1v1.1h-1.1zM296.0 263.9h0.9v0.9h-0.9zM299.6 265.3h1.1v1.1h-1.1zM307.6 263.4h1.1v1.1h-1.1zM297.2 261.2h1.1v1.1h-1.1zM301.5 274.7h0.7v0.7h-0.7zM307.3 272.5h1.3v1.3h-1.3zM313.2 288.7h0.9v0.9h-0.9zM323.0 264.7h1.3v1.3h-1.3zM318.3 258.9h0.7v0.7h-0.7zM316.5 256.3h0.7v0.7h-0.7zM289.4 282.6h1.1v1.1h-1.1zM303.4 281.3h0.9v0.9h-0.9zM305.6 285.9h0.9v0.9h-0.9zM319.1 293.9h0.7v0.7h-0.7zM302.9 289.4h0.9v0.9h-0.9zM317.5 290.9h0.9v0.9h-0.9zM306.5 253.3h1.3v1.3h-1.3zM317.5 261.9h0.7v0.7h-0.7zM299.9 265.6h1.3v1.3h-1.3zM300.6 270.8h1.1v1.1h-1.1zM323.6 268.7h0.9v0.9h-0.9zM296.7 289.4h1.3v1.3h-1.3zM327.8 274.5h0.9v0.9h-0.9zM295.1 291.4h1.1v1.1h-1.1zM299.4 254.4h0.9v0.9h-0.9zM308.2 287.8h1.3v1.3h-1.3zM289.5 265.0h0.9v0.9h-0.9zM314.2 293.1h0.7v0.7h-0.7zM289.7 284.8h1.3v1.3h-1.3zM292.8 269.2h0.9v0.9h-0.9zM323.3 285.3h1.1v1.1h-1.1zM315.1 260.6h0.7v0.7h-0.7zM310.0 279.6h0.7v0.7h-0.7zM292.0 267.9h0.7v0.7h-0.7zM303.3 272.9h0.7v0.7h-0.7zM322.5 276.2h0.9v0.9h-0.9zM310.2 258.0h0.7v0.7h-0.7zM310.3 284.4h0.7v0.7h-0.7zM303.1 291.4h1.3v1.3h-1.3zM311.4 275.3h0.7v0.7h-0.7zM300.7 293.0h0.9v0.9h-0.9zM297.4 266.3h1.3v1.3h-1.3zM317.3 271.9h1.3v1.3h-1.3zM316.6 259.3h1.1v1.1h-1.1zM319.6 273.0h1.3v1.3h-1.3zM302.8 262.4h1.1v1.1h-1.1zM291.1 271.1h1.3v1.3h-1.3zM323.8 267.1h0.7v0.7h-0.7zM315.6 263.5h0.9v0.9h-0.9zM312.9 277.8h1.1v1.1h-1.1zM287.3 276.8h0.7v0.7h-0.7zM303.2 285.6h0.7v0.7h-0.7zM315.7 254.9h0.7v0.7h-0.7zM298.3 292.0h0.9v0.9h-0.9zM317.4 288.6h0.9v0.9h-0.9zM292.5 280.8h0.9v0.9h-0.9zM294.0 273.2h1.1v1.1h-1.1zM300.4 284.2h1.1v1.1h-1.1zM313.8 267.5h1.3v1.3h-1.3zM318.3 292.4h1.3v1.3h-1.3zM293.4 264.8h0.7v0.7h-0.7zM316.0 281.5h1.1v1.1h-1.1zM299.3 266.7h0.7v0.7h-0.7zM323.2 283.9h0.9v0.9h-0.9zM314.3 281.2h1.1v1.1h-1.1zM317.6 259.8h0.9v0.9h-0.9zM308.3 286.1h1.3v1.3h-1.3zM297.1 266.4h0.7v0.7h-0.7zM326.8 273.7h0.9v0.9h-0.9zM312.1 256.2h0.9v0.9h-0.9zM309.4 273.6h0.7v0.7h-0.7zM290.0 288.4h0.9v0.9h-0.9zM315.5 264.8h0.7v0.7h-0.7zM327.4 275.6h1.3v1.3h-1.3zM325.3 265.1h1.3v1.3h-1.3zM297.0 283.9h1.1v1.1h-1.1zM291.5 267.3h0.7v0.7h-0.7zM315.9 280.7h1.3v1.3h-1.3zM310.8 289.6h0.7v0.7h-0.7zM308.6 289.6h0.9v0.9h-0.9zM301.2 283.0h1.1v1.1h-1.1zM302.6 278.8h0.7v0.7h-0.7zM314.4 262.5h0.9v0.9h-0.9zM312.6 286.8h0.9v0.9h-0.9zM288.4 269.1h1.3v1.3h-1.3zM319.7 260.2h1.1v1.1h-1.1zM295.7 267.5h0.9v0.9h-0.9zM314.2 287.6h1.1v1.1h-1.1zM292.9 259.1h0.9v0.9h-0.9zM310.4 261.3h0.7v0.7h-0.7zM294.0 272.4h1.3v1.3h-1.3zM303.0 265.1h0.9v0.9h-0.9zM303.5 266.0h1.3v1.3h-1.3zM305.1 282.7h1.1v1.1h-1.1zM317.4 272.5h1.3v1.3h-1.3zM325.4 284.3h0.7v0.7h-0.7zM304.0 265.5h1.3v1.3h-1.3zM312.2 277.6h1.3v1.3h-1.3zM291.0 278.1h1.3v1.3h-1.3zM329.1 271.1h0.9v0.9h-0.9zM305.6 277.4h0.9v0.9h-0.9zM314.7 290.7h1.1v1.1h-1.1zM323.9 282.9h1.3v1.3h-1.3zM326.4 270.9h1.3v1.3h-1.3zM289.6 273.8h1.1v1.1h-1.1zM298.1 291.4h1.1v1.1h-1.1zM314.2 283.7h1.3v1.3h-1.3zM326.7 271.6h0.7v0.7h-0.7zM298.1 265.0h1.3v1.3h-1.3zM296.4 290.3h1.3v1.3h-1.3zM312.7 295.7h1.3v1.3h-1.3zM323.9 281.1h1.3v1.3h-1.3zM313.0 277.3h0.7v0.7h-0.7zM289.7 269.1h1.1v1.1h-1.1zM290.9 279.6h1.3v1.3h-1.3zM306.2 295.6h1.1v1.1h-1.1zM295.5 288.9h1.1v1.1h-1.1zM301.3 264.1h1.1v1.1h-1.1zM309.1 295.7h0.7v0.7h-0.7zM297.4 265.3h0.7v0.7h-0.7zM304.0 278.6h1.1v1.1h-1.1zM308.3 260.2h1.3v1.3h-1.3zM294.5 266.0h1.3v1.3h-1.3zM294.2 283.2h0.7v0.7h-0.7zM287.1 275.4h0.9v0.9h-0.9zM325.6 281.3h1.1v1.1h-1.1zM303.2 286.1h1.1v1.1h-1.1zM307.7 272.4h0.7v0.7h-0.7zM313.5 258.0h1.3v1.3h-1.3zM327.3 276.7h0.9v0.9h-0.9zM291.8 284.4h1.1v1.1h-1.1zM325.6 268.7h0.9v0.9h-0.9zM307.8 266.5h0.9v0.9h-0.9zM303.3 276.2h0.7v0.7h-0.7zM319.9 255.9h1.3v1.3h-1.3zM329.6 276.2h1.3v1.3h-1.3zM313.6 292.1h1.1v1.1h-1.1zM307.3 254.3h0.9v0.9h-0.9zM309.0 292.6h0.9v0.9h-0.9zM288.6 265.2h0.7v0.7h-0.7zM300.2 262.2h1.1v1.1h-1.1zM301.6 279.0h1.1v1.1h-1.1zM327.9 268.3h1.3v1.3h-1.3zM300.7 272.7h1.3v1.3h-1.3zM321.8 288.1h0.7v0.7h-0.7zM327.4 282.3h0.7v0.7h-0.7zM289.3 281.3h0.9v0.9h-0.9zM293.1 265.9h0.7v0.7h-0.7zM303.4 291.3h1.3v1.3h-1.3zM295.7 258.4h1.3v1.3h-1.3zM301.9 261.9h1.1v1.1h-1.1zM310.1 260.2h1.1v1.1h-1.1zM317.3 285.3h0.7v0.7h-0.7zM309.5 275.6h0.9v0.9h-0.9zM315.2 263.5h0.7v0.7h-0.7zM308.6 270.4h1.1v1.1h-1.1zM296.7 261.1h1.3v1.3h-1.3zM305.9 285.6h0.7v0.7h-0.7zM296.3 292.3h1.1v1.1h-1.1zM328.7 267.2h1.3v1.3h-1.3zM328.7 276.2h0.7v0.7h-0.7zM298.6 289.4h1.3v1.3h-1.3zM300.5 270.1h0.9v0.9h-0.9zM292.7 286.0h0.9v0.9h-0.9zM314.6 254.8h0.7v0.7h-0.7zM302.8 256.9h1.1v1.1h-1.1zM321.3 287.8h0.9v0.9h-0.9zM309.4 280.8h0.9v0.9h-0.9zM300.1 278.5h0.9v0.9h-0.9zM300.3 268.3h1.1v1.1h-1.1zM302.0 282.2h0.7v0.7h-0.7zM298.0 261.5h1.1v1.1h-1.1zM311.3 282.0h1.1v1.1h-1.1zM301.5 272.6h0.9v0.9h-0.9zM320.7 284.3h1.3v1.3h-1.3zM309.3 277.7h0.7v0.7h-0.7zM306.1 270.5h0.9v0.9h-0.9zM323.8 276.6h0.7v0.7h-0.7zM297.7 287.5h0.7v0.7h-0.7zM327.6 271.9h0.7v0.7h-0.7zM298.2 267.1h1.3v1.3h-1.3zM312.6 270.9h0.9v0.9h-0.9zM316.5 290.1h1.3v1.3h-1.3zM291.5 281.8h1.1v1.1h-1.1zM298.5 257.1h0.7v0.7h-0.7zM289.3 277.9h0.9v0.9h-0.9zM327.4 269.8h0.9v0.9h-0.9zM326.5 286.5h1.3v1.3h-1.3zM320.3 285.6h1.3v1.3h-1.3z" fill="#7083cc" fill-opacity="0.52"/>
</g>
<circle cx="360.1" cy="275.4" r="23.4" fill="#fdfdfe" stroke="#f1f2f6" stroke-width="1.2"/>
<g filter="url(#wb)">
<path d="M375.4 271.2h1.1v1.1h-1.1zM346.7 288.6h1.4v1.4h-1.4zM342.7 260.6h0.9v0.9h-0.9zM360.8 267.2h0.7v0.7h-0.7zM354.7 275.9h1.1v1.1h-1.1zM372.4 266.2h1.1v1.1h-1.1zM368.2 273.7h1.1v1.1h-1.1zM361.2 287.9h1.1v1.1h-1.1zM358.0 280.4h1.1v1.1h-1.1zM360.7 258.4h0.7v0.7h-0.7zM353.0 293.0h1.4v1.4h-1.4z" fill="#5a6cc6" fill-opacity="0.14"/>
<path d="M365.4 284.1h1.1v1.1h-1.1zM343.0 280.0h0.7v0.7h-0.7zM373.2 272.5h1.4v1.4h-1.4zM360.0 261.2h1.4v1.4h-1.4zM350.7 282.5h1.1v1.1h-1.1zM351.5 262.6h0.9v0.9h-0.9zM354.3 274.1h1.1v1.1h-1.1zM341.1 272.8h1.1v1.1h-1.1zM343.7 276.2h1.4v1.4h-1.4z" fill="#5a6cc6" fill-opacity="0.26"/>
<path d="M349.8 286.4h1.1v1.1h-1.1zM343.5 262.0h1.1v1.1h-1.1zM358.0 260.9h0.7v0.7h-0.7zM357.0 291.2h1.4v1.4h-1.4zM367.7 276.5h0.7v0.7h-0.7zM347.2 269.4h1.4v1.4h-1.4z" fill="#5a6cc6" fill-opacity="0.4"/>
<path d="M373.2 285.6h1.1v1.1h-1.1zM365.1 289.9h1.4v1.4h-1.4zM375.5 272.9h1.1v1.1h-1.1zM376.0 282.4h1.1v1.1h-1.1z" fill="#5a6cc6" fill-opacity="0.56"/>
</g>
<circle cx="411.6" cy="275.4" r="23.4" fill="#fdfdfe" stroke="#f1f2f6" stroke-width="1.2"/>
<g filter="url(#wb)">
<path d="M423.1 287.6h0.9v0.9h-0.9zM422.0 268.5h0.7v0.7h-0.7zM404.8 280.1h1.4v1.4h-1.4zM397.6 277.1h0.7v0.7h-0.7zM407.2 275.3h1.4v1.4h-1.4zM432.0 272.4h0.7v0.7h-0.7z" fill="#5a6cc6" fill-opacity="0.14"/>
<path d="M423.3 270.0h0.9v0.9h-0.9zM410.6 292.0h1.1v1.1h-1.1zM402.3 285.6h1.1v1.1h-1.1zM418.7 254.3h0.7v0.7h-0.7zM405.6 290.8h0.9v0.9h-0.9zM431.8 273.3h1.4v1.4h-1.4zM409.4 278.3h0.7v0.7h-0.7zM397.1 265.6h1.1v1.1h-1.1zM410.8 286.9h0.7v0.7h-0.7zM416.1 269.2h0.9v0.9h-0.9zM414.5 254.1h0.7v0.7h-0.7zM431.4 277.8h0.9v0.9h-0.9zM417.0 288.9h1.4v1.4h-1.4zM415.8 263.6h1.1v1.1h-1.1zM398.6 290.0h0.9v0.9h-0.9zM414.9 285.0h1.4v1.4h-1.4z" fill="#5a6cc6" fill-opacity="0.26"/>
<path d="M405.8 262.1h0.9v0.9h-0.9zM389.0 275.6h0.9v0.9h-0.9zM423.6 280.0h0.7v0.7h-0.7zM398.3 266.3h1.1v1.1h-1.1zM423.0 289.5h1.1v1.1h-1.1zM413.1 267.4h0.7v0.7h-0.7zM396.8 272.9h1.4v1.4h-1.4zM402.0 280.9h1.4v1.4h-1.4zM429.8 285.8h1.1v1.1h-1.1zM407.7 255.8h1.1v1.1h-1.1zM403.7 285.1h0.9v0.9h-0.9z" fill="#5a6cc6" fill-opacity="0.4"/>
<path d="M401.6 280.2h1.4v1.4h-1.4zM402.8 287.9h0.7v0.7h-0.7zM414.7 256.6h0.7v0.7h-0.7zM415.9 254.2h1.1v1.1h-1.1zM395.2 281.5h0.7v0.7h-0.7zM411.4 293.7h0.9v0.9h-0.9zM400.6 290.9h0.7v0.7h-0.7z" fill="#5a6cc6" fill-opacity="0.56"/>
</g>
<circle cx="462.8" cy="275.4" r="23.4" fill="#fdfdfe" stroke="#f1f2f6" stroke-width="1.2"/>
<g filter="url(#wb)">
<path d="M453.2 281.0h1.4v1.4h-1.4zM479.5 278.4h0.7v0.7h-0.7zM483.5 280.6h0.9v0.9h-0.9zM444.3 263.4h1.1v1.1h-1.1zM456.2 269.6h1.1v1.1h-1.1zM468.4 256.8h0.9v0.9h-0.9z" fill="#5a6cc6" fill-opacity="0.14"/>
<path d="M480.7 277.5h1.4v1.4h-1.4zM458.1 285.3h0.9v0.9h-0.9zM466.7 258.3h0.9v0.9h-0.9zM456.0 291.3h1.1v1.1h-1.1zM454.6 295.5h1.4v1.4h-1.4zM451.6 266.9h1.4v1.4h-1.4zM483.0 269.3h0.7v0.7h-0.7zM448.8 286.0h0.9v0.9h-0.9zM445.8 277.4h0.7v0.7h-0.7zM458.7 281.0h0.9v0.9h-0.9zM453.9 270.4h1.4v1.4h-1.4z" fill="#5a6cc6" fill-opacity="0.26"/>
<path d="M453.9 259.6h0.9v0.9h-0.9zM446.2 270.5h1.4v1.4h-1.4zM445.7 279.2h0.7v0.7h-0.7zM443.6 285.8h1.1v1.1h-1.1zM452.4 258.0h0.7v0.7h-0.7zM476.6 272.1h1.1v1.1h-1.1zM453.3 261.6h1.4v1.4h-1.4zM447.4 280.1h0.9v0.9h-0.9z" fill="#5a6cc6" fill-opacity="0.4"/>
<path d="M447.3 273.8h1.4v1.4h-1.4zM461.1 264.5h0.9v0.9h-0.9zM442.5 284.5h0.7v0.7h-0.7zM471.9 290.9h0.9v0.9h-0.9zM478.6 285.5h1.1v1.1h-1.1zM464.5 288.5h1.1v1.1h-1.1zM459.0 260.3h1.4v1.4h-1.4z" fill="#5a6cc6" fill-opacity="0.56"/>
</g>
<circle cx="308.4" cy="332.5" r="23.4" fill="#fdfdfe" stroke="#f1f2f6" stroke-width="1.2"/>
<g filter="url(#wb)">
<path d="M312.0 340.7h1.1v1.1h-1.1zM289.0 332.4h0.9v0.9h-0.9zM316.4 325.5h0.9v0.9h-0.9zM321.8 314.4h1.4v1.4h-1.4zM294.9 324.2h0.7v0.7h-0.7zM309.6 327.3h1.4v1.4h-1.4zM315.0 323.0h1.1v1.1h-1.1zM311.7 353.1h1.1v1.1h-1.1zM325.4 344.4h1.1v1.1h-1.1zM295.4 332.5h1.1v1.1h-1.1zM303.4 338.3h1.4v1.4h-1.4zM295.0 343.3h1.1v1.1h-1.1zM303.2 314.7h1.4v1.4h-1.4zM322.4 321.9h0.9v0.9h-0.9zM287.9 322.1h0.9v0.9h-0.9zM289.1 341.4h0.7v0.7h-0.7zM293.5 341.1h0.7v0.7h-0.7zM294.7 323.7h1.4v1.4h-1.4zM311.8 343.6h1.1v1.1h-1.1zM304.1 338.0h1.1v1.1h-1.1zM323.6 324.1h1.4v1.4h-1.4zM327.5 330.8h0.9v0.9h-0.9zM306.9 337.3h0.7v0.7h-0.7zM303.6 325.3h1.4v1.4h-1.4zM322.4 335.4h1.4v1.4h-1.4zM318.2 344.6h0.9v0.9h-0.9zM302.4 315.5h0.7v0.7h-0.7zM301.4 321.8h0.7v0.7h-0.7zM310.7 324.9h0.9v0.9h-0.9zM316.4 338.3h1.4v1.4h-1.4zM299.3 336.4h1.1v1.1h-1.1zM288.2 335.5h1.1v1.1h-1.1zM310.9 330.3h0.9v0.9h-0.9zM321.2 318.4h0.7v0.7h-0.7zM317.7 330.6h1.4v1.4h-1.4zM306.3 339.2h1.1v1.1h-1.1zM319.1 350.7h0.7v0.7h-0.7zM316.2 315.5h0.7v0.7h-0.7zM310.4 325.8h0.7v0.7h-0.7zM304.6 337.8h0.7v0.7h-0.7zM323.3 331.0h1.1v1.1h-1.1zM302.9 318.1h0.9v0.9h-0.9zM317.8 346.3h0.7v0.7h-0.7zM307.9 339.3h1.1v1.1h-1.1zM316.7 339.7h0.7v0.7h-0.7zM303.8 339.1h1.4v1.4h-1.4zM324.6 331.7h0.7v0.7h-0.7zM299.2 312.1h1.4v1.4h-1.4zM296.2 317.4h1.1v1.1h-1.1zM320.5 335.5h0.9v0.9h-0.9zM323.3 342.0h1.1v1.1h-1.1zM295.2 317.3h0.7v0.7h-0.7zM290.9 330.1h0.7v0.7h-0.7zM327.8 324.0h0.9v0.9h-0.9zM297.2 314.5h1.4v1.4h-1.4zM319.3 343.6h0.7v0.7h-0.7zM314.7 341.4h0.7v0.7h-0.7zM296.6 325.3h0.7v0.7h-0.7zM289.9 327.0h1.1v1.1h-1.1zM294.8 335.6h1.1v1.1h-1.1zM319.3 344.9h0.9v0.9h-0.9zM318.5 316.5h0.9v0.9h-0.9zM303.7 343.5h1.4v1.4h-1.4zM318.5 328.2h1.4v1.4h-1.4zM291.0 338.8h0.7v0.7h-0.7zM315.6 333.0h1.4v1.4h-1.4zM303.8 330.0h0.7v0.7h-0.7zM323.8 337.0h0.7v0.7h-0.7zM288.6 336.7h1.1v1.1h-1.1zM312.8 314.4h0.9v0.9h-0.9zM310.9 338.1h1.4v1.4h-1.4zM323.8 333.6h1.4v1.4h-1.4zM312.0 354.1h0.7v0.7h-0.7zM302.9 327.3h1.4v1.4h-1.4zM305.7 312.0h0.7v0.7h-0.7zM306.0 316.1h1.1v1.1h-1.1zM295.9 322.6h1.1v1.1h-1.1z" fill="#5e70c8" fill-opacity="0.18"/>
<path d="M303.7 332.5h0.9v0.9h-0.9zM298.6 331.5h0.7v0.7h-0.7zM325.9 343.0h0.7v0.7h-0.7zM295.9 350.2h0.9v0.9h-0.9zM296.2 319.4h1.4v1.4h-1.4zM317.6 312.2h1.1v1.1h-1.1zM289.1 325.3h1.1v1.1h-1.1zM311.9 341.8h1.1v1.1h-1.1zM309.8 338.8h0.7v0.7h-0.7zM298.8 315.6h0.7v0.7h-0.7zM323.0 344.5h1.1v1.1h-1.1zM330.1 330.9h1.4v1.4h-1.4zM320.5 325.1h0.9v0.9h-0.9zM313.3 340.2h0.7v0.7h-0.7zM308.9 341.4h0.7v0.7h-0.7zM319.8 331.2h0.7v0.7h-0.7zM286.2 330.4h0.9v0.9h-0.9zM302.5 314.3h0.7v0.7h-0.7zM301.5 342.6h1.1v1.1h-1.1zM302.0 352.8h1.4v1.4h-1.4zM318.3 340.9h0.7v0.7h-0.7zM291.0 322.3h1.1v1.1h-1.1zM303.0 318.5h1.1v1.1h-1.1zM323.4 330.0h0.7v0.7h-0.7zM324.3 342.6h0.9v0.9h-0.9zM321.1 331.5h1.4v1.4h-1.4zM303.7 342.1h1.1v1.1h-1.1zM320.1 339.4h0.9v0.9h-0.9zM304.8 335.6h1.1v1.1h-1.1zM305.6 341.5h0.9v0.9h-0.9zM304.8 318.5h0.7v0.7h-0.7zM298.5 348.4h0.9v0.9h-0.9zM323.6 343.2h0.9v0.9h-0.9zM300.4 344.7h1.4v1.4h-1.4zM293.4 347.2h0.9v0.9h-0.9zM293.0 348.6h1.1v1.1h-1.1zM298.0 350.3h1.1v1.1h-1.1zM288.7 342.9h1.1v1.1h-1.1zM300.3 317.2h1.4v1.4h-1.4zM301.5 330.3h0.9v0.9h-0.9zM306.9 350.5h0.9v0.9h-0.9zM296.4 314.2h1.1v1.1h-1.1zM304.0 313.0h0.7v0.7h-0.7zM306.0 345.0h0.9v0.9h-0.9zM298.6 314.6h1.1v1.1h-1.1zM308.0 317.5h1.4v1.4h-1.4zM319.1 323.9h0.7v0.7h-0.7zM301.9 320.6h0.7v0.7h-0.7zM325.9 343.6h1.4v1.4h-1.4zM305.1 353.9h0.9v0.9h-0.9zM318.8 348.4h1.4v1.4h-1.4zM291.7 335.0h0.9v0.9h-0.9zM310.4 323.2h0.9v0.9h-0.9zM290.4 339.1h1.4v1.4h-1.4zM313.6 324.1h0.9v0.9h-0.9zM306.6 339.9h0.9v0.9h-0.9zM311.9 351.6h1.1v1.1h-1.1zM319.2 314.3h0.7v0.7h-0.7zM308.4 316.7h1.4v1.4h-1.4zM314.2 345.3h1.4v1.4h-1.4zM298.5 317.1h1.4v1.4h-1.4zM326.1 333.6h0.9v0.9h-0.9zM303.4 313.1h0.9v0.9h-0.9zM324.7 345.3h1.4v1.4h-1.4zM300.8 322.0h0.9v0.9h-0.9zM317.3 345.5h1.4v1.4h-1.4zM291.1 326.3h0.7v0.7h-0.7zM313.3 326.1h0.7v0.7h-0.7zM321.7 341.3h1.1v1.1h-1.1zM297.3 342.7h1.1v1.1h-1.1zM329.7 330.6h1.1v1.1h-1.1zM299.6 319.3h1.4v1.4h-1.4zM315.1 333.8h0.7v0.7h-0.7zM294.7 334.0h1.1v1.1h-1.1zM303.8 338.9h0.9v0.9h-0.9zM319.1 329.1h1.1v1.1h-1.1zM295.5 319.0h1.4v1.4h-1.4zM304.2 322.6h0.7v0.7h-0.7zM307.1 313.2h0.9v0.9h-0.9zM318.6 344.3h1.1v1.1h-1.1zM327.3 336.5h1.4v1.4h-1.4z" fill="#5e70c8" fill-opacity="0.3"/>
<path d="M286.4 332.1h0.7v0.7h-0.7zM299.8 346.0h0.9v0.9h-0.9zM326.8 330.9h1.1v1.1h-1.1zM312.0 318.7h1.4v1.4h-1.4zM319.5 347.8h1.4v1.4h-1.4zM300.0 327.0h1.4v1.4h-1.4zM303.0 325.5h1.4v1.4h-1.4zM312.0 350.1h1.1v1.1h-1.1zM312.3 347.7h1.4v1.4h-1.4zM313.4 330.6h0.9v0.9h-0.9zM329.0 339.4h0.9v0.9h-0.9zM298.5 321.1h0.9v0.9h-0.9zM292.5 335.7h0.7v0.7h-0.7zM295.8 316.4h0.9v0.9h-0.9zM317.1 330.9h1.1v1.1h-1.1zM325.3 326.3h0.9v0.9h-0.9zM299.6 314.8h0.7v0.7h-0.7zM322.4 336.6h1.1v1.1h-1.1zM322.8 320.1h1.4v1.4h-1.4zM298.1 342.3h0.9v0.9h-0.9zM316.9 348.1h1.4v1.4h-1.4zM293.6 341.2h1.1v1.1h-1.1zM311.8 337.7h0.9v0.9h-0.9zM314.7 328.0h1.4v1.4h-1.4zM320.2 349.5h0.7v0.7h-0.7zM296.3 343.9h0.9v0.9h-0.9zM291.9 339.8h0.7v0.7h-0.7zM304.5 351.5h1.4v1.4h-1.4zM295.8 330.5h1.4v1.4h-1.4zM302.5 352.1h0.7v0.7h-0.7zM320.2 317.1h1.4v1.4h-1.4zM323.2 330.3h1.1v1.1h-1.1zM303.7 320.4h0.7v0.7h-0.7zM317.3 339.8h1.4v1.4h-1.4zM312.0 313.0h0.7v0.7h-0.7zM326.6 334.5h0.9v0.9h-0.9zM302.1 342.4h0.7v0.7h-0.7zM294.5 340.4h1.1v1.1h-1.1zM318.0 322.1h1.1v1.1h-1.1zM304.2 328.9h0.9v0.9h-0.9zM287.4 327.8h0.9v0.9h-0.9zM301.8 325.9h0.9v0.9h-0.9zM315.2 313.9h0.9v0.9h-0.9zM318.4 312.9h0.9v0.9h-0.9zM291.6 331.1h0.7v0.7h-0.7zM295.7 348.4h0.7v0.7h-0.7zM304.7 349.9h1.4v1.4h-1.4zM295.4 344.3h0.9v0.9h-0.9zM306.6 332.5h1.1v1.1h-1.1zM317.3 328.2h1.1v1.1h-1.1zM324.1 344.5h0.9v0.9h-0.9zM307.2 342.6h0.7v0.7h-0.7zM319.2 331.9h0.7v0.7h-0.7zM293.2 323.2h1.4v1.4h-1.4zM293.7 345.1h0.9v0.9h-0.9zM313.3 334.5h0.7v0.7h-0.7zM289.3 339.2h1.1v1.1h-1.1zM324.0 344.0h1.4v1.4h-1.4zM287.2 331.0h1.4v1.4h-1.4zM302.2 353.3h1.4v1.4h-1.4zM303.8 349.1h0.7v0.7h-0.7zM298.8 341.8h1.1v1.1h-1.1zM326.4 342.1h0.9v0.9h-0.9zM289.3 336.6h0.7v0.7h-0.7zM305.5 320.7h1.1v1.1h-1.1zM308.4 345.0h0.7v0.7h-0.7zM311.4 322.9h1.4v1.4h-1.4zM302.5 340.3h0.7v0.7h-0.7zM290.3 319.3h1.1v1.1h-1.1zM298.2 348.6h1.1v1.1h-1.1zM293.5 343.5h0.7v0.7h-0.7zM328.0 327.4h1.4v1.4h-1.4zM317.8 313.1h0.9v0.9h-0.9z" fill="#5e70c8" fill-opacity="0.44"/>
<path d="M291.0 338.2h0.7v0.7h-0.7zM287.7 325.9h0.7v0.7h-0.7zM304.0 333.5h1.1v1.1h-1.1zM291.6 341.4h1.4v1.4h-1.4zM320.5 319.2h1.4v1.4h-1.4zM323.2 318.4h0.7v0.7h-0.7zM287.5 337.5h1.4v1.4h-1.4zM302.8 340.6h0.9v0.9h-0.9zM307.3 320.2h1.4v1.4h-1.4zM299.3 330.8h1.1v1.1h-1.1zM324.3 318.0h1.4v1.4h-1.4zM301.3 346.3h1.1v1.1h-1.1zM295.9 319.3h1.1v1.1h-1.1zM310.0 340.4h1.1v1.1h-1.1zM292.2 342.9h0.7v0.7h-0.7zM301.7 348.4h0.7v0.7h-0.7zM319.2 323.5h0.7v0.7h-0.7zM311.3 350.6h0.7v0.7h-0.7zM315.3 345.7h0.7v0.7h-0.7zM288.4 329.5h0.9v0.9h-0.9zM314.2 349.4h1.4v1.4h-1.4zM303.2 324.6h0.7v0.7h-0.7zM288.6 334.2h0.9v0.9h-0.9zM299.3 345.6h0.9v0.9h-0.9zM302.7 311.0h1.4v1.4h-1.4zM297.8 350.4h0.7v0.7h-0.7zM322.6 330.8h0.9v0.9h-0.9zM321.3 335.2h0.7v0.7h-0.7zM315.9 339.7h1.1v1.1h-1.1zM305.3 351.7h1.4v1.4h-1.4zM313.7 331.3h1.4v1.4h-1.4zM310.2 349.8h1.4v1.4h-1.4zM319.7 350.5h1.1v1.1h-1.1zM327.5 324.0h1.1v1.1h-1.1zM316.7 326.3h0.7v0.7h-0.7zM299.9 337.8h0.9v0.9h-0.9zM300.1 341.4h0.9v0.9h-0.9zM292.6 346.8h1.1v1.1h-1.1zM299.5 324.3h0.7v0.7h-0.7zM295.1 343.3h1.4v1.4h-1.4zM312.3 353.5h1.1v1.1h-1.1zM299.7 337.5h1.4v1.4h-1.4zM302.2 352.1h1.4v1.4h-1.4zM300.1 348.6h1.4v1.4h-1.4zM290.9 334.5h1.4v1.4h-1.4zM309.8 329.0h0.9v0.9h-0.9zM327.4 336.9h0.7v0.7h-0.7zM317.9 326.4h0.9v0.9h-0.9zM305.1 338.2h1.4v1.4h-1.4zM299.0 333.6h1.1v1.1h-1.1zM311.9 310.8h0.9v0.9h-0.9zM294.8 329.9h1.4v1.4h-1.4zM299.7 348.4h1.4v1.4h-1.4zM294.0 326.5h0.7v0.7h-0.7zM291.3 321.8h1.1v1.1h-1.1zM306.9 350.1h0.9v0.9h-0.9zM303.4 324.9h1.4v1.4h-1.4zM318.0 334.7h1.4v1.4h-1.4zM303.6 322.1h1.1v1.1h-1.1zM300.7 337.9h1.1v1.1h-1.1zM318.5 313.6h1.1v1.1h-1.1zM317.7 346.5h0.9v0.9h-0.9zM326.2 324.1h1.4v1.4h-1.4zM329.0 324.8h1.4v1.4h-1.4zM290.2 342.9h0.7v0.7h-0.7zM308.7 344.9h1.4v1.4h-1.4zM319.2 314.3h1.4v1.4h-1.4zM322.4 333.1h1.1v1.1h-1.1zM293.1 332.9h0.7v0.7h-0.7z" fill="#5e70c8" fill-opacity="0.6"/>
</g>
<circle cx="360.1" cy="332.5" r="23.4" fill="#fdfdfe" stroke="#f1f2f6" stroke-width="1.2"/>
<g filter="url(#wb)">
<path d="M363.2 326.3h1.1v1.1h-1.1zM351.5 333.8h1.4v1.4h-1.4zM359.3 352.5h0.9v0.9h-0.9zM339.3 328.1h1.1v1.1h-1.1zM366.0 349.2h1.4v1.4h-1.4zM369.0 340.7h0.7v0.7h-0.7zM338.0 332.0h0.9v0.9h-0.9zM359.3 322.4h1.4v1.4h-1.4zM371.5 314.7h1.4v1.4h-1.4zM354.1 337.5h1.1v1.1h-1.1z" fill="#5a6cc6" fill-opacity="0.14"/>
<path d="M351.3 349.8h0.7v0.7h-0.7zM373.5 319.5h1.4v1.4h-1.4zM371.0 342.2h1.1v1.1h-1.1zM360.3 326.6h1.1v1.1h-1.1zM360.1 315.5h0.7v0.7h-0.7zM372.3 338.2h1.1v1.1h-1.1zM379.1 323.1h1.4v1.4h-1.4zM364.5 317.1h1.1v1.1h-1.1zM347.7 341.4h0.7v0.7h-0.7zM340.6 321.6h1.4v1.4h-1.4zM356.7 312.7h1.4v1.4h-1.4zM341.7 327.2h0.9v0.9h-0.9zM346.2 323.8h1.1v1.1h-1.1zM359.4 327.1h0.9v0.9h-0.9zM366.0 325.9h0.7v0.7h-0.7zM367.2 335.3h0.9v0.9h-0.9zM350.2 312.3h0.9v0.9h-0.9zM367.2 340.7h1.4v1.4h-1.4zM350.1 351.5h0.9v0.9h-0.9zM341.8 325.9h0.7v0.7h-0.7zM355.8 337.7h1.1v1.1h-1.1zM358.5 324.1h0.9v0.9h-0.9zM377.8 337.2h0.7v0.7h-0.7zM376.6 326.2h0.7v0.7h-0.7zM367.1 319.2h1.4v1.4h-1.4zM340.0 324.7h1.4v1.4h-1.4z" fill="#5a6cc6" fill-opacity="0.26"/>
<path d="M350.6 351.0h0.7v0.7h-0.7zM373.7 316.7h1.1v1.1h-1.1zM354.9 334.4h0.7v0.7h-0.7zM351.7 315.9h0.9v0.9h-0.9zM350.7 351.0h0.7v0.7h-0.7zM375.9 335.1h1.1v1.1h-1.1zM372.6 344.4h1.1v1.1h-1.1zM376.4 338.3h1.4v1.4h-1.4zM338.9 329.2h1.4v1.4h-1.4zM367.1 323.1h0.9v0.9h-0.9zM364.9 337.7h0.9v0.9h-0.9zM348.9 333.5h1.4v1.4h-1.4zM380.0 336.1h1.4v1.4h-1.4zM358.8 310.0h1.4v1.4h-1.4zM367.8 333.7h0.7v0.7h-0.7zM356.3 338.1h1.1v1.1h-1.1zM359.6 335.5h0.9v0.9h-0.9zM345.8 338.1h1.4v1.4h-1.4zM337.4 333.9h1.4v1.4h-1.4zM377.9 324.0h0.7v0.7h-0.7zM373.8 337.9h0.9v0.9h-0.9zM361.3 336.6h0.9v0.9h-0.9zM344.4 343.0h0.7v0.7h-0.7zM371.5 315.7h0.7v0.7h-0.7zM371.2 341.1h1.1v1.1h-1.1zM370.4 319.1h0.9v0.9h-0.9zM372.6 345.9h1.1v1.1h-1.1zM378.4 321.4h0.9v0.9h-0.9zM350.6 333.4h0.7v0.7h-0.7zM347.1 333.5h1.4v1.4h-1.4z" fill="#5a6cc6" fill-opacity="0.4"/>
<path d="M356.4 350.0h0.9v0.9h-0.9zM361.7 310.6h0.7v0.7h-0.7zM367.5 312.6h0.9v0.9h-0.9zM367.1 349.3h1.4v1.4h-1.4zM363.7 328.9h1.1v1.1h-1.1zM361.1 341.4h0.9v0.9h-0.9zM354.1 351.9h0.7v0.7h-0.7zM360.3 317.7h0.7v0.7h-0.7zM366.4 334.8h0.7v0.7h-0.7zM351.3 347.4h1.1v1.1h-1.1zM350.7 318.0h1.1v1.1h-1.1zM339.2 332.7h1.4v1.4h-1.4zM347.7 323.2h1.4v1.4h-1.4zM350.3 311.7h1.1v1.1h-1.1zM348.7 330.5h0.9v0.9h-0.9zM359.6 329.0h0.9v0.9h-0.9zM349.9 340.9h0.9v0.9h-0.9zM347.9 332.7h1.1v1.1h-1.1zM356.0 312.5h1.4v1.4h-1.4z" fill="#5a6cc6" fill-opacity="0.56"/>
</g>
<circle cx="411.6" cy="332.5" r="23.4" fill="#fdfdfe" stroke="#f1f2f6" stroke-width="1.2"/>
<g filter="url(#wb)">
<path d="M397.7 344.2h1.4v1.4h-1.4zM396.7 342.8h0.7v0.7h-0.7zM430.5 327.8h1.1v1.1h-1.1zM421.6 343.5h0.9v0.9h-0.9zM389.5 335.1h0.9v0.9h-0.9zM433.1 328.5h0.9v0.9h-0.9zM403.7 335.4h1.1v1.1h-1.1zM410.9 347.9h1.4v1.4h-1.4zM426.4 345.6h0.7v0.7h-0.7zM418.2 325.2h1.1v1.1h-1.1zM400.6 337.2h0.9v0.9h-0.9zM403.3 352.4h0.7v0.7h-0.7zM402.9 327.8h0.7v0.7h-0.7zM400.5 350.0h1.1v1.1h-1.1zM420.0 339.1h1.4v1.4h-1.4zM398.4 323.2h1.4v1.4h-1.4zM414.0 346.2h1.1v1.1h-1.1zM420.8 334.5h0.9v0.9h-0.9zM414.0 309.7h1.4v1.4h-1.4zM402.6 320.6h1.4v1.4h-1.4zM408.8 348.5h1.4v1.4h-1.4zM428.3 319.4h1.1v1.1h-1.1zM413.2 343.0h0.9v0.9h-0.9zM413.3 333.2h1.4v1.4h-1.4zM399.7 346.4h0.9v0.9h-0.9zM420.3 313.7h0.9v0.9h-0.9zM405.7 329.7h0.7v0.7h-0.7zM409.0 351.7h0.7v0.7h-0.7zM410.9 352.1h1.1v1.1h-1.1zM398.3 347.6h1.1v1.1h-1.1zM395.9 330.0h1.4v1.4h-1.4zM399.5 323.8h0.7v0.7h-0.7zM414.2 344.3h1.4v1.4h-1.4zM401.3 350.5h0.7v0.7h-0.7zM408.2 345.2h1.4v1.4h-1.4z" fill="#5a6cc6" fill-opacity="0.14"/>
<path d="M411.9 350.3h0.7v0.7h-0.7zM431.1 324.2h1.4v1.4h-1.4zM400.5 324.8h0.7v0.7h-0.7zM412.6 348.3h0.7v0.7h-0.7zM400.4 330.2h0.9v0.9h-0.9zM417.4 340.1h1.1v1.1h-1.1zM420.0 331.5h1.4v1.4h-1.4zM431.3 325.8h0.7v0.7h-0.7zM402.2 314.2h1.4v1.4h-1.4zM401.9 342.8h0.9v0.9h-0.9zM413.5 336.3h1.4v1.4h-1.4zM409.6 323.9h0.7v0.7h-0.7zM392.9 336.2h1.4v1.4h-1.4zM421.4 329.2h1.4v1.4h-1.4zM402.7 318.2h1.1v1.1h-1.1zM420.6 318.6h0.9v0.9h-0.9zM408.4 349.6h1.1v1.1h-1.1zM404.7 310.8h1.1v1.1h-1.1zM411.8 336.6h0.9v0.9h-0.9zM423.5 320.8h1.4v1.4h-1.4zM398.8 332.4h1.4v1.4h-1.4zM413.4 342.4h1.4v1.4h-1.4zM394.4 336.8h0.9v0.9h-0.9zM402.1 347.1h0.7v0.7h-0.7zM406.3 314.3h1.4v1.4h-1.4zM430.5 333.9h0.9v0.9h-0.9zM419.3 338.7h0.7v0.7h-0.7zM404.5 349.7h1.4v1.4h-1.4zM412.3 333.6h1.4v1.4h-1.4zM430.8 339.8h0.9v0.9h-0.9zM430.2 324.0h1.1v1.1h-1.1zM418.8 347.8h1.4v1.4h-1.4zM413.2 348.9h0.7v0.7h-0.7zM425.0 347.3h1.1v1.1h-1.1zM396.8 340.6h0.9v0.9h-0.9zM402.7 323.2h1.4v1.4h-1.4zM422.6 339.9h1.1v1.1h-1.1zM413.8 324.0h0.9v0.9h-0.9zM408.2 339.2h0.9v0.9h-0.9zM406.4 335.5h1.4v1.4h-1.4zM389.0 333.3h0.9v0.9h-0.9zM423.0 324.7h1.1v1.1h-1.1zM404.4 337.6h1.1v1.1h-1.1z" fill="#5a6cc6" fill-opacity="0.26"/>
<path d="M424.1 343.8h0.7v0.7h-0.7zM424.3 342.4h1.1v1.1h-1.1zM419.9 328.0h0.7v0.7h-0.7zM408.2 336.4h1.1v1.1h-1.1zM389.7 334.7h0.9v0.9h-0.9zM406.3 329.8h0.7v0.7h-0.7zM408.5 314.1h0.9v0.9h-0.9zM408.3 346.7h0.9v0.9h-0.9zM429.8 332.7h1.1v1.1h-1.1zM408.6 342.5h1.1v1.1h-1.1zM397.4 346.9h1.4v1.4h-1.4zM427.5 336.9h1.1v1.1h-1.1zM403.6 321.2h0.9v0.9h-0.9zM424.9 327.8h0.9v0.9h-0.9zM413.3 334.2h1.4v1.4h-1.4zM414.3 337.2h0.9v0.9h-0.9zM407.4 352.9h1.1v1.1h-1.1zM400.4 314.4h1.1v1.1h-1.1zM402.1 341.9h0.7v0.7h-0.7zM428.8 324.9h1.4v1.4h-1.4zM403.3 341.8h1.4v1.4h-1.4zM408.3 333.6h1.4v1.4h-1.4zM412.2 322.5h1.4v1.4h-1.4zM415.6 313.8h1.1v1.1h-1.1zM406.8 320.6h1.1v1.1h-1.1zM412.7 312.1h1.1v1.1h-1.1zM390.9 334.4h1.4v1.4h-1.4zM415.5 324.4h1.1v1.1h-1.1zM431.0 333.5h1.1v1.1h-1.1zM425.0 330.7h0.9v0.9h-0.9zM426.4 339.9h1.4v1.4h-1.4z" fill="#5a6cc6" fill-opacity="0.4"/>
<path d="M397.2 334.3h0.7v0.7h-0.7zM431.2 326.4h1.4v1.4h-1.4zM410.5 312.3h1.1v1.1h-1.1zM410.6 325.7h0.7v0.7h-0.7zM407.5 311.4h0.7v0.7h-0.7zM394.5 332.6h0.9v0.9h-0.9zM400.9 312.7h0.7v0.7h-0.7zM410.4 349.8h0.9v0.9h-0.9zM418.2 336.0h1.4v1.4h-1.4zM414.3 314.4h1.4v1.4h-1.4zM412.1 332.9h0.9v0.9h-0.9zM400.1 322.7h0.7v0.7h-0.7zM426.8 319.8h1.1v1.1h-1.1zM392.2 335.9h1.4v1.4h-1.4zM421.9 314.3h0.9v0.9h-0.9zM406.0 344.0h1.4v1.4h-1.4zM433.5 333.2h0.9v0.9h-0.9zM414.4 349.3h0.7v0.7h-0.7zM396.7 331.4h1.1v1.1h-1.1zM399.8 348.4h0.7v0.7h-0.7zM391.7 326.5h0.9v0.9h-0.9zM402.7 314.9h0.9v0.9h-0.9zM418.0 351.6h1.4v1.4h-1.4zM423.2 334.5h1.1v1.1h-1.1zM401.0 351.6h0.9v0.9h-0.9zM398.8 345.1h0.9v0.9h-0.9zM412.6 344.7h0.9v0.9h-0.9zM430.7 330.7h0.7v0.7h-0.7zM393.5 324.8h0.9v0.9h-0.9zM398.2 319.1h0.7v0.7h-0.7zM423.3 335.5h0.9v0.9h-0.9zM403.0 338.5h0.7v0.7h-0.7zM403.0 335.8h1.1v1.1h-1.1zM415.4 347.4h0.7v0.7h-0.7zM422.2 345.1h1.4v1.4h-1.4zM406.8 348.2h1.1v1.1h-1.1zM427.5 323.7h0.7v0.7h-0.7zM400.2 320.1h0.7v0.7h-0.7zM391.4 340.0h1.4v1.4h-1.4zM399.1 340.7h1.4v1.4h-1.4zM422.8 325.4h0.7v0.7h-0.7z" fill="#5a6cc6" fill-opacity="0.56"/>
</g>
<circle cx="462.8" cy="332.5" r="23.4" fill="#fdfdfe" stroke="#f1f2f6" stroke-width="1.2"/>
<g filter="url(#wb)">
<path d="M476.0 331.2h0.7v0.7h-0.7zM475.0 346.2h0.9v0.9h-0.9zM456.8 319.1h1.4v1.4h-1.4zM464.4 331.5h0.7v0.7h-0.7zM469.3 343.0h0.9v0.9h-0.9zM444.2 319.1h0.9v0.9h-0.9zM462.5 335.0h0.7v0.7h-0.7zM451.7 317.6h1.4v1.4h-1.4zM465.9 353.6h0.7v0.7h-0.7zM476.1 320.7h1.4v1.4h-1.4zM446.5 347.6h1.1v1.1h-1.1zM457.2 315.0h0.7v0.7h-0.7z" fill="#5a6cc6" fill-opacity="0.14"/>
<path d="M459.1 314.4h1.4v1.4h-1.4zM473.6 331.8h0.7v0.7h-0.7zM452.0 338.6h0.9v0.9h-0.9zM462.1 353.2h0.9v0.9h-0.9zM471.5 323.7h0.7v0.7h-0.7zM456.2 342.6h1.4v1.4h-1.4zM481.2 328.6h1.4v1.4h-1.4zM467.3 347.0h0.9v0.9h-0.9zM466.4 333.1h0.7v0.7h-0.7z" fill="#5a6cc6" fill-opacity="0.26"/>
<path d="M471.8 333.0h0.9v0.9h-0.9zM460.0 352.5h0.9v0.9h-0.9zM457.4 321.2h0.9v0.9h-0.9zM451.4 332.6h0.7v0.7h-0.7zM449.1 319.2h1.1v1.1h-1.1zM450.1 323.6h1.4v1.4h-1.4zM455.9 323.9h0.7v0.7h-0.7zM463.8 339.4h0.9v0.9h-0.9zM447.4 326.7h1.4v1.4h-1.4zM474.9 319.6h1.4v1.4h-1.4zM475.1 334.0h0.7v0.7h-0.7zM475.6 327.9h1.1v1.1h-1.1zM459.6 324.8h1.1v1.1h-1.1zM483.9 333.8h0.7v0.7h-0.7z" fill="#5a6cc6" fill-opacity="0.4"/>
<path d="M451.5 326.9h0.9v0.9h-0.9zM449.4 323.7h1.1v1.1h-1.1zM448.6 342.4h0.9v0.9h-0.9zM468.5 352.3h0.9v0.9h-0.9zM464.3 325.8h0.9v0.9h-0.9zM442.7 330.7h0.9v0.9h-0.9zM453.9 337.6h0.9v0.9h-0.9zM447.0 324.9h0.9v0.9h-0.9zM470.2 319.3h1.4v1.4h-1.4zM474.3 318.5h1.4v1.4h-1.4zM460.0 325.5h0.7v0.7h-0.7zM461.9 312.2h0.9v0.9h-0.9zM455.2 323.3h1.4v1.4h-1.4zM449.5 324.1h0.9v0.9h-0.9zM456.3 338.6h1.1v1.1h-1.1z" fill="#5a6cc6" fill-opacity="0.56"/>
</g>
<circle cx="308.4" cy="388.9" r="23.4" fill="#f8f9fc" stroke="#f1f2f6" stroke-width="1.2"/>
<g filter="url(#wb)">
<path d="M309.9 400.5h1.3v1.3h-1.3zM288.9 387.7h1.1v1.1h-1.1zM326.0 389.9h0.7v0.7h-0.7zM307.5 380.3h0.9v0.9h-0.9zM323.6 399.5h0.9v0.9h-0.9zM288.4 391.6h1.1v1.1h-1.1zM312.5 392.0h1.1v1.1h-1.1zM319.2 385.0h1.3v1.3h-1.3zM293.1 373.8h0.7v0.7h-0.7zM293.9 377.4h0.7v0.7h-0.7zM316.4 394.7h0.7v0.7h-0.7zM294.2 405.7h0.9v0.9h-0.9zM327.4 395.0h1.3v1.3h-1.3zM291.7 384.8h1.3v1.3h-1.3zM308.1 395.4h0.7v0.7h-0.7zM308.7 395.8h1.3v1.3h-1.3zM291.5 391.6h1.1v1.1h-1.1zM322.0 388.6h0.9v0.9h-0.9zM326.8 392.2h0.7v0.7h-0.7zM315.1 404.4h1.1v1.1h-1.1zM323.8 403.0h1.3v1.3h-1.3zM301.6 389.2h1.1v1.1h-1.1zM321.8 396.7h1.1v1.1h-1.1zM311.4 377.9h0.9v0.9h-0.9zM290.7 389.3h1.3v1.3h-1.3zM314.5 390.7h0.9v0.9h-0.9zM295.7 388.7h0.9v0.9h-0.9zM309.0 374.1h1.1v1.1h-1.1zM304.6 370.9h0.9v0.9h-0.9zM318.8 380.2h0.7v0.7h-0.7zM311.3 388.4h0.9v0.9h-0.9zM291.2 390.5h0.7v0.7h-0.7zM322.4 392.5h0.9v0.9h-0.9zM294.2 398.0h1.1v1.1h-1.1zM289.2 392.7h1.1v1.1h-1.1zM312.9 392.9h1.3v1.3h-1.3zM316.7 372.2h0.7v0.7h-0.7zM312.6 406.2h1.1v1.1h-1.1zM320.9 376.6h1.1v1.1h-1.1zM305.5 398.6h1.3v1.3h-1.3zM304.6 387.8h1.3v1.3h-1.3zM310.9 388.9h1.3v1.3h-1.3zM319.8 396.2h1.3v1.3h-1.3zM303.9 374.6h1.3v1.3h-1.3zM319.9 405.6h0.9v0.9h-0.9zM312.3 381.4h0.7v0.7h-0.7zM301.6 392.3h0.9v0.9h-0.9zM302.7 387.3h1.3v1.3h-1.3zM305.3 369.1h1.1v1.1h-1.1zM311.1 380.2h0.7v0.7h-0.7zM311.0 399.5h1.1v1.1h-1.1zM306.9 376.2h0.7v0.7h-0.7zM290.5 387.4h1.3v1.3h-1.3zM307.0 396.6h1.3v1.3h-1.3zM326.7 397.3h0.9v0.9h-0.9zM319.5 371.1h1.1v1.1h-1.1zM296.5 369.2h1.1v1.1h-1.1zM308.5 369.3h0.7v0.7h-0.7zM315.6 397.1h1.3v1.3h-1.3zM291.4 376.7h1.1v1.1h-1.1zM303.7 409.5h0.7v0.7h-0.7zM315.6 384.1h1.1v1.1h-1.1zM316.2 384.3h0.7v0.7h-0.7zM319.2 397.8h1.3v1.3h-1.3zM318.3 398.3h0.9v0.9h-0.9zM291.0 403.1h0.9v0.9h-0.9zM312.0 408.2h1.3v1.3h-1.3zM326.0 375.9h1.3v1.3h-1.3zM287.7 386.3h1.3v1.3h-1.3zM309.4 375.4h1.3v1.3h-1.3zM314.5 401.4h0.7v0.7h-0.7zM308.1 403.5h0.7v0.7h-0.7zM311.8 393.9h0.9v0.9h-0.9zM293.1 402.4h0.7v0.7h-0.7zM288.3 382.8h1.1v1.1h-1.1zM318.6 407.4h1.3v1.3h-1.3zM320.9 388.2h1.3v1.3h-1.3zM306.0 394.2h1.1v1.1h-1.1zM304.2 407.6h0.7v0.7h-0.7zM322.7 384.1h0.7v0.7h-0.7zM324.8 392.8h1.1v1.1h-1.1zM300.2 408.8h0.7v0.7h-0.7zM309.6 379.1h0.7v0.7h-0.7zM325.2 382.8h0.9v0.9h-0.9zM298.0 382.0h1.1v1.1h-1.1zM308.3 391.4h1.3v1.3h-1.3zM296.9 380.5h0.9v0.9h-0.9zM298.2 369.6h0.9v0.9h-0.9zM309.0 373.3h0.9v0.9h-0.9zM293.7 393.7h0.9v0.9h-0.9zM306.3 394.7h1.3v1.3h-1.3zM294.9 386.1h0.7v0.7h-0.7zM325.3 401.7h0.7v0.7h-0.7zM296.4 369.8h0.9v0.9h-0.9zM310.0 369.8h0.9v0.9h-0.9zM302.6 380.3h1.1v1.1h-1.1zM304.0 390.6h1.3v1.3h-1.3zM301.5 372.9h1.1v1.1h-1.1zM291.3 378.2h1.1v1.1h-1.1zM310.2 407.2h1.1v1.1h-1.1zM315.3 402.1h1.1v1.1h-1.1zM321.1 406.8h0.7v0.7h-0.7zM324.7 389.1h1.1v1.1h-1.1zM298.1 382.6h1.3v1.3h-1.3zM299.0 382.0h1.3v1.3h-1.3zM307.7 390.5h0.7v0.7h-0.7zM325.8 376.7h0.9v0.9h-0.9zM315.3 377.3h1.1v1.1h-1.1zM311.8 371.9h1.1v1.1h-1.1z" fill="#6a7fd0" fill-opacity="0.17"/>
<path d="M320.3 381.3h1.1v1.1h-1.1zM307.3 397.8h1.3v1.3h-1.3zM299.8 390.0h1.1v1.1h-1.1zM303.1 385.2h0.9v0.9h-0.9zM296.6 374.0h1.3v1.3h-1.3zM296.5 392.3h0.7v0.7h-0.7zM308.0 373.2h0.9v0.9h-0.9zM312.3 407.1h0.7v0.7h-0.7zM316.9 393.1h1.1v1.1h-1.1zM313.4 382.1h1.1v1.1h-1.1zM291.4 381.7h0.7v0.7h-0.7zM293.6 391.5h1.3v1.3h-1.3zM305.1 400.4h0.7v0.7h-0.7zM323.4 392.1h0.7v0.7h-0.7zM316.5 391.0h0.7v0.7h-0.7zM288.0 393.0h1.1v1.1h-1.1zM297.3 379.8h1.1v1.1h-1.1zM323.5 377.0h0.9v0.9h-0.9zM300.7 388.8h0.9v0.9h-0.9zM294.3 389.0h1.1v1.1h-1.1zM301.0 403.6h0.9v0.9h-0.9zM322.3 387.9h0.7v0.7h-0.7zM297.1 372.8h0.9v0.9h-0.9zM316.9 408.1h1.3v1.3h-1.3zM291.5 398.5h1.1v1.1h-1.1zM312.1 397.9h1.1v1.1h-1.1zM317.7 382.1h0.9v0.9h-0.9zM328.9 391.3h0.7v0.7h-0.7zM329.0 382.3h1.3v1.3h-1.3zM310.2 384.8h0.9v0.9h-0.9zM313.3 400.7h0.7v0.7h-0.7zM297.7 385.0h0.7v0.7h-0.7zM313.0 409.9h0.7v0.7h-0.7zM322.3 402.3h1.3v1.3h-1.3zM301.6 388.8h0.7v0.7h-0.7zM319.5 382.9h1.3v1.3h-1.3zM299.3 386.9h0.7v0.7h-0.7zM307.6 367.9h1.3v1.3h-1.3zM314.5 380.1h1.1v1.1h-1.1zM311.0 402.0h1.1v1.1h-1.1zM296.9 369.7h1.1v1.1h-1.1zM302.3 379.2h1.3v1.3h-1.3zM313.2 373.7h0.9v0.9h-0.9zM291.3 391.2h0.9v0.9h-0.9zM306.9 372.3h0.7v0.7h-0.7zM301.4 388.7h0.9v0.9h-0.9zM314.4 400.3h0.9v0.9h-0.9zM289.5 376.3h1.1v1.1h-1.1zM311.3 408.8h0.7v0.7h-0.7zM324.7 389.2h0.7v0.7h-0.7zM324.5 376.6h1.1v1.1h-1.1zM319.6 393.0h1.3v1.3h-1.3zM327.6 392.4h1.3v1.3h-1.3zM324.2 401.1h0.9v0.9h-0.9zM311.9 371.2h1.1v1.1h-1.1zM317.2 398.0h1.3v1.3h-1.3zM313.3 388.8h1.3v1.3h-1.3zM296.5 371.1h0.7v0.7h-0.7zM305.8 394.7h0.9v0.9h-0.9zM302.3 378.0h1.3v1.3h-1.3zM293.5 400.2h0.9v0.9h-0.9zM312.5 409.8h1.3v1.3h-1.3zM306.4 374.0h1.1v1.1h-1.1zM288.5 389.1h1.3v1.3h-1.3zM295.0 374.0h0.7v0.7h-0.7zM307.6 368.0h0.9v0.9h-0.9zM308.1 395.5h0.7v0.7h-0.7zM324.6 392.5h0.9v0.9h-0.9zM294.5 401.8h0.7v0.7h-0.7zM317.3 402.8h0.7v0.7h-0.7zM328.6 389.6h1.1v1.1h-1.1zM313.4 408.2h0.7v0.7h-0.7zM310.7 405.0h0.7v0.7h-0.7zM315.4 377.6h0.9v0.9h-0.9zM311.5 379.7h0.9v0.9h-0.9zM287.9 385.0h0.9v0.9h-0.9zM314.4 381.7h1.1v1.1h-1.1zM304.4 390.5h0.9v0.9h-0.9zM317.7 397.0h1.1v1.1h-1.1zM306.7 373.9h0.9v0.9h-0.9zM305.4 386.1h0.9v0.9h-0.9zM290.0 385.7h1.3v1.3h-1.3zM308.5 405.7h1.1v1.1h-1.1zM329.1 382.5h1.1v1.1h-1.1zM294.3 375.1h0.9v0.9h-0.9zM292.1 378.7h0.7v0.7h-0.7zM294.6 404.0h1.1v1.1h-1.1zM294.3 386.3h1.1v1.1h-1.1zM325.0 396.7h1.1v1.1h-1.1zM291.4 373.8h1.3v1.3h-1.3zM305.9 402.6h0.9v0.9h-0.9zM300.4 408.0h0.7v0.7h-0.7zM320.7 386.4h1.3v1.3h-1.3zM314.1 389.3h1.1v1.1h-1.1zM301.6 389.9h1.1v1.1h-1.1zM319.8 378.2h0.9v0.9h-0.9zM319.2 384.2h1.1v1.1h-1.1zM298.7 374.7h0.9v0.9h-0.9zM299.1 368.9h0.7v0.7h-0.7zM308.0 373.5h1.3v1.3h-1.3zM301.6 398.2h0.7v0.7h-0.7zM319.6 390.5h1.1v1.1h-1.1zM303.1 405.3h1.1v1.1h-1.1zM300.9 367.5h1.3v1.3h-1.3zM323.8 374.2h0.9v0.9h-0.9zM302.0 368.5h1.3v1.3h-1.3zM300.1 388.8h1.3v1.3h-1.3zM300.0 381.2h0.9v0.9h-0.9zM312.9 373.8h1.3v1.3h-1.3zM329.2 385.3h0.9v0.9h-0.9zM312.3 376.3h1.1v1.1h-1.1zM290.3 399.5h0.7v0.7h-0.7zM328.0 387.0h1.1v1.1h-1.1zM318.0 377.9h1.3v1.3h-1.3zM308.5 379.5h1.3v1.3h-1.3zM327.5 385.6h1.1v1.1h-1.1zM317.7 384.5h1.3v1.3h-1.3zM293.5 396.1h0.7v0.7h-0.7z" fill="#6a7fd0" fill-opacity="0.29"/>
<path d="M314.0 373.5h1.3v1.3h-1.3zM314.0 381.0h1.3v1.3h-1.3zM290.1 387.5h0.7v0.7h-0.7zM298.7 390.1h1.1v1.1h-1.1zM303.3 409.8h0.7v0.7h-0.7zM314.5 387.6h1.3v1.3h-1.3zM299.5 404.8h1.3v1.3h-1.3zM307.0 384.6h1.1v1.1h-1.1zM292.6 402.0h0.9v0.9h-0.9zM303.5 396.4h1.1v1.1h-1.1zM306.7 401.2h1.3v1.3h-1.3zM320.4 399.7h0.7v0.7h-0.7zM295.9 376.6h1.3v1.3h-1.3zM315.4 408.0h0.7v0.7h-0.7zM308.5 381.3h1.3v1.3h-1.3zM295.6 391.4h1.3v1.3h-1.3zM305.4 377.2h0.9v0.9h-0.9zM289.5 390.4h0.7v0.7h-0.7zM304.8 379.9h1.1v1.1h-1.1zM323.2 404.4h0.7v0.7h-0.7zM299.0 396.7h0.7v0.7h-0.7zM314.1 370.9h1.1v1.1h-1.1zM316.6 373.7h0.9v0.9h-0.9zM322.4 389.6h0.7v0.7h-0.7zM296.0 406.7h1.1v1.1h-1.1zM299.3 381.9h0.7v0.7h-0.7zM321.1 387.2h1.1v1.1h-1.1zM309.3 366.3h0.9v0.9h-0.9zM304.4 371.7h0.9v0.9h-0.9zM322.6 395.2h0.9v0.9h-0.9zM289.0 392.9h0.9v0.9h-0.9zM297.2 376.9h1.3v1.3h-1.3zM320.1 398.3h1.3v1.3h-1.3zM318.1 385.4h0.9v0.9h-0.9zM312.7 401.4h1.1v1.1h-1.1zM315.2 392.8h0.9v0.9h-0.9zM306.4 367.4h1.3v1.3h-1.3zM317.3 377.5h1.1v1.1h-1.1zM328.7 385.2h1.1v1.1h-1.1zM306.4 396.9h1.3v1.3h-1.3zM301.9 374.9h0.9v0.9h-0.9zM325.7 379.6h1.3v1.3h-1.3zM295.4 401.4h0.9v0.9h-0.9zM309.7 394.7h0.9v0.9h-0.9zM308.9 375.7h1.3v1.3h-1.3zM287.9 391.4h0.7v0.7h-0.7zM305.9 382.6h0.9v0.9h-0.9zM316.6 388.7h1.1v1.1h-1.1zM305.9 392.2h0.7v0.7h-0.7zM289.6 379.4h0.7v0.7h-0.7zM296.5 376.0h0.7v0.7h-0.7zM301.3 367.1h1.3v1.3h-1.3zM315.8 402.8h0.9v0.9h-0.9zM305.9 408.0h1.1v1.1h-1.1zM290.0 387.0h1.1v1.1h-1.1zM299.7 368.5h0.7v0.7h-0.7zM324.4 401.4h1.3v1.3h-1.3zM291.4 392.9h1.3v1.3h-1.3zM325.2 376.4h1.1v1.1h-1.1zM289.8 380.7h0.7v0.7h-0.7zM294.6 379.1h0.9v0.9h-0.9zM294.8 380.7h0.9v0.9h-0.9zM307.0 371.2h1.1v1.1h-1.1zM307.3 373.3h1.1v1.1h-1.1zM313.1 374.2h1.1v1.1h-1.1zM288.8 392.6h1.3v1.3h-1.3zM308.2 407.3h1.1v1.1h-1.1zM328.4 391.5h1.1v1.1h-1.1zM311.9 398.0h0.7v0.7h-0.7zM321.8 402.5h1.3v1.3h-1.3zM322.3 378.0h0.7v0.7h-0.7zM320.8 399.4h1.1v1.1h-1.1zM324.0 373.1h0.7v0.7h-0.7zM310.4 384.7h0.9v0.9h-0.9zM321.9 387.0h0.9v0.9h-0.9zM289.6 379.7h1.3v1.3h-1.3zM310.4 383.6h1.1v1.1h-1.1zM315.3 369.4h1.3v1.3h-1.3zM313.0 368.9h1.1v1.1h-1.1zM329.5 383.1h0.9v0.9h-0.9zM292.2 379.8h1.1v1.1h-1.1zM298.6 382.1h0.7v0.7h-0.7zM299.7 391.2h0.7v0.7h-0.7zM307.4 407.7h0.9v0.9h-0.9zM304.4 393.8h1.3v1.3h-1.3zM313.7 399.6h0.9v0.9h-0.9zM318.8 392.4h0.7v0.7h-0.7zM291.0 384.1h1.1v1.1h-1.1zM294.1 401.4h0.7v0.7h-0.7zM317.2 404.0h1.3v1.3h-1.3zM304.9 398.9h1.3v1.3h-1.3zM315.3 402.8h1.1v1.1h-1.1zM306.1 384.8h1.3v1.3h-1.3zM298.7 389.4h0.9v0.9h-0.9zM307.2 375.6h0.7v0.7h-0.7zM311.8 375.6h0.7v0.7h-0.7zM305.4 366.0h1.1v1.1h-1.1zM298.0 382.3h1.3v1.3h-1.3zM303.9 368.0h1.1v1.1h-1.1zM310.6 392.5h1.3v1.3h-1.3zM322.2 389.9h0.7v0.7h-0.7zM298.6 369.0h1.3v1.3h-1.3zM328.0 382.2h0.7v0.7h-0.7zM313.8 385.6h0.9v0.9h-0.9zM309.8 373.9h1.1v1.1h-1.1zM322.6 387.3h0.9v0.9h-0.9zM313.5 390.1h1.1v1.1h-1.1zM329.9 389.5h1.3v1.3h-1.3zM315.8 390.3h1.1v1.1h-1.1zM304.4 402.3h1.1v1.1h-1.1z" fill="#6a7fd0" fill-opacity="0.41"/>
<path d="M323.2 383.4h0.7v0.7h-0.7zM323.6 402.7h1.1v1.1h-1.1zM317.4 391.5h0.9v0.9h-0.9zM308.4 410.6h0.9v0.9h-0.9zM314.5 399.9h1.1v1.1h-1.1zM310.2 378.1h1.1v1.1h-1.1zM317.3 371.9h0.7v0.7h-0.7zM328.7 384.4h0.7v0.7h-0.7zM307.0 375.4h1.3v1.3h-1.3zM288.7 380.0h1.1v1.1h-1.1zM319.5 373.5h1.1v1.1h-1.1zM296.6 374.8h1.3v1.3h-1.3zM286.5 393.1h1.3v1.3h-1.3zM325.9 379.8h0.7v0.7h-0.7zM329.7 388.2h1.3v1.3h-1.3zM318.1 374.3h1.3v1.3h-1.3zM319.3 405.9h1.1v1.1h-1.1zM303.7 405.0h0.7v0.7h-0.7zM300.0 371.1h0.9v0.9h-0.9zM297.3 388.9h1.1v1.1h-1.1zM317.8 401.4h1.3v1.3h-1.3zM324.8 385.9h1.1v1.1h-1.1zM300.9 403.8h1.1v1.1h-1.1zM291.1 392.9h1.3v1.3h-1.3zM314.7 370.8h1.3v1.3h-1.3zM293.9 394.4h0.9v0.9h-0.9zM322.2 396.3h0.9v0.9h-0.9zM310.0 397.6h0.7v0.7h-0.7zM297.3 401.3h1.1v1.1h-1.1zM306.6 383.6h0.7v0.7h-0.7zM307.1 378.7h0.7v0.7h-0.7zM317.9 389.9h0.7v0.7h-0.7zM323.0 392.4h1.3v1.3h-1.3zM293.6 375.4h1.1v1.1h-1.1zM296.9 405.7h1.3v1.3h-1.3zM287.3 381.4h0.7v0.7h-0.7zM293.4 392.1h0.7v0.7h-0.7zM295.3 392.4h1.3v1.3h-1.3zM322.6 389.5h1.3v1.3h-1.3zM321.7 396.5h1.1v1.1h-1.1zM317.4 374.9h0.9v0.9h-0.9zM306.8 406.0h1.1v1.1h-1.1zM313.8 370.3h1.3v1.3h-1.3zM306.0 369.6h1.3v1.3h-1.3zM291.0 386.5h1.1v1.1h-1.1zM290.6 387.4h0.7v0.7h-0.7zM303.4 403.2h1.1v1.1h-1.1zM306.9 410.1h1.1v1.1h-1.1zM309.4 389.6h1.1v1.1h-1.1zM308.3 371.0h0.7v0.7h-0.7zM304.4 388.3h1.1v1.1h-1.1zM298.6 404.0h0.9v0.9h-0.9zM289.2 385.1h0.7v0.7h-0.7zM312.4 375.8h0.9v0.9h-0.9zM312.2 401.6h0.9v0.9h-0.9zM302.2 386.6h1.1v1.1h-1.1zM307.5 404.4h1.1v1.1h-1.1zM295.1 370.6h1.3v1.3h-1.3zM318.1 385.9h1.3v1.3h-1.3zM320.7 372.7h0.9v0.9h-0.9zM307.0 368.2h1.3v1.3h-1.3zM303.2 395.4h0.9v0.9h-0.9zM319.1 383.2h1.1v1.1h-1.1zM316.1 390.0h0.9v0.9h-0.9zM302.3 384.3h0.7v0.7h-0.7zM303.1 371.1h1.1v1.1h-1.1zM302.8 404.9h0.7v0.7h-0.7zM320.9 396.7h0.7v0.7h-0.7zM315.1 372.4h1.1v1.1h-1.1zM325.2 382.9h0.7v0.7h-0.7zM313.1 400.9h1.3v1.3h-1.3zM292.3 383.3h1.3v1.3h-1.3zM292.9 396.6h1.1v1.1h-1.1zM327.0 382.3h1.1v1.1h-1.1zM327.4 378.8h0.9v0.9h-0.9zM288.5 382.9h0.7v0.7h-0.7zM308.6 374.7h1.1v1.1h-1.1zM287.2 388.6h0.7v0.7h-0.7zM286.7 394.6h1.3v1.3h-1.3zM314.1 383.0h0.9v0.9h-0.9zM294.7 392.6h1.1v1.1h-1.1zM298.9 388.9h1.1v1.1h-1.1zM325.0 395.3h0.7v0.7h-0.7zM310.4 405.2h0.7v0.7h-0.7zM329.6 393.5h0.7v0.7h-0.7zM313.7 376.2h1.3v1.3h-1.3zM291.2 397.9h1.1v1.1h-1.1zM295.5 405.2h0.9v0.9h-0.9zM306.7 386.7h0.9v0.9h-0.9zM303.9 402.5h1.1v1.1h-1.1zM316.8 387.5h0.9v0.9h-0.9zM289.3 393.0h0.7v0.7h-0.7zM310.5 377.7h1.3v1.3h-1.3zM287.9 392.2h0.9v0.9h-0.9zM309.3 396.0h1.1v1.1h-1.1zM313.2 372.8h1.3v1.3h-1.3zM325.7 375.6h0.7v0.7h-0.7zM304.5 369.2h1.3v1.3h-1.3zM295.4 378.5h1.1v1.1h-1.1zM295.2 371.8h1.3v1.3h-1.3zM328.1 392.4h1.3v1.3h-1.3zM312.4 379.7h0.9v0.9h-0.9zM286.5 384.5h0.9v0.9h-0.9z" fill="#6a7fd0" fill-opacity="0.54"/>
</g>
<circle cx="360.1" cy="388.9" r="23.4" fill="#fdfdfe" stroke="#f1f2f6" stroke-width="1.2"/>
<g filter="url(#wb)">
<path d="M375.7 379.9h1.1v1.1h-1.1zM352.0 405.8h0.9v0.9h-0.9zM371.8 397.3h1.4v1.4h-1.4zM340.8 395.5h1.4v1.4h-1.4zM374.3 386.0h0.9v0.9h-0.9zM365.5 407.9h0.7v0.7h-0.7zM341.5 389.0h1.1v1.1h-1.1zM346.1 395.8h0.9v0.9h-0.9zM355.8 410.5h1.1v1.1h-1.1zM365.7 378.9h0.9v0.9h-0.9zM349.3 403.8h1.4v1.4h-1.4zM353.6 397.2h1.4v1.4h-1.4zM373.7 383.6h1.1v1.1h-1.1zM367.4 369.5h0.9v0.9h-0.9zM360.0 370.6h0.7v0.7h-0.7zM368.0 389.9h1.4v1.4h-1.4zM367.8 371.2h0.7v0.7h-0.7zM376.7 400.7h0.9v0.9h-0.9zM362.7 393.8h1.4v1.4h-1.4zM345.0 402.9h1.4v1.4h-1.4zM348.6 398.2h0.9v0.9h-0.9zM374.2 374.4h1.1v1.1h-1.1z" fill="#5a6cc6" fill-opacity="0.14"/>
<path d="M349.2 372.4h0.7v0.7h-0.7zM363.9 376.2h1.4v1.4h-1.4zM365.3 387.7h1.4v1.4h-1.4zM361.8 392.5h0.7v0.7h-0.7zM376.4 391.2h0.7v0.7h-0.7zM351.6 372.5h1.4v1.4h-1.4zM353.4 403.6h0.7v0.7h-0.7zM375.8 383.6h0.9v0.9h-0.9zM377.7 400.2h0.7v0.7h-0.7zM370.5 398.5h1.1v1.1h-1.1zM371.7 386.5h0.7v0.7h-0.7zM361.8 380.8h0.7v0.7h-0.7zM356.7 399.2h0.9v0.9h-0.9zM345.3 394.2h1.4v1.4h-1.4zM371.7 374.2h1.1v1.1h-1.1zM370.9 401.8h0.7v0.7h-0.7zM356.0 405.2h0.9v0.9h-0.9zM367.8 405.9h0.7v0.7h-0.7zM356.4 393.2h0.7v0.7h-0.7zM358.3 366.8h0.7v0.7h-0.7zM369.1 372.2h1.1v1.1h-1.1z" fill="#5a6cc6" fill-opacity="0.26"/>
<path d="M355.2 398.5h0.7v0.7h-0.7zM377.9 391.3h1.1v1.1h-1.1zM346.9 379.1h1.1v1.1h-1.1zM371.0 377.2h1.1v1.1h-1.1zM371.6 369.7h0.9v0.9h-0.9zM357.7 386.9h0.7v0.7h-0.7zM348.2 389.1h0.9v0.9h-0.9zM356.5 369.9h1.1v1.1h-1.1zM379.4 391.0h1.1v1.1h-1.1zM366.7 409.3h0.9v0.9h-0.9zM359.1 388.7h0.7v0.7h-0.7zM373.4 405.3h1.4v1.4h-1.4zM337.8 385.0h0.9v0.9h-0.9zM360.0 384.2h0.9v0.9h-0.9zM365.3 383.6h0.9v0.9h-0.9zM339.8 379.9h0.9v0.9h-0.9zM371.8 378.0h0.9v0.9h-0.9zM348.3 371.9h0.7v0.7h-0.7zM347.6 397.2h1.1v1.1h-1.1zM367.9 405.3h0.7v0.7h-0.7zM358.4 409.1h0.9v0.9h-0.9zM342.3 392.7h1.4v1.4h-1.4zM371.8 378.0h1.1v1.1h-1.1zM363.1 409.4h1.1v1.1h-1.1zM355.1 384.5h0.9v0.9h-0.9z" fill="#5a6cc6" fill-opacity="0.4"/>
<path d="M357.2 379.6h1.4v1.4h-1.4zM352.9 402.0h0.9v0.9h-0.9zM347.5 394.7h0.9v0.9h-0.9zM354.7 386.4h0.9v0.9h-0.9zM344.8 394.5h1.4v1.4h-1.4zM364.2 367.4h0.9v0.9h-0.9zM339.4 392.7h1.4v1.4h-1.4zM377.2 380.2h0.7v0.7h-0.7zM362.1 370.4h1.1v1.1h-1.1zM337.8 388.0h0.9v0.9h-0.9zM351.0 382.9h0.9v0.9h-0.9zM350.5 408.8h1.1v1.1h-1.1zM355.0 404.1h0.7v0.7h-0.7zM367.3 398.6h1.1v1.1h-1.1zM339.9 395.8h0.9v0.9h-0.9zM354.2 405.1h1.4v1.4h-1.4zM365.1 401.5h1.1v1.1h-1.1zM357.5 367.6h0.7v0.7h-0.7zM341.7 380.7h1.1v1.1h-1.1zM368.7 386.7h0.7v0.7h-0.7zM350.8 400.2h1.4v1.4h-1.4zM348.3 380.4h1.1v1.1h-1.1zM367.4 392.6h1.4v1.4h-1.4zM364.9 409.9h1.4v1.4h-1.4zM377.4 400.1h1.1v1.1h-1.1zM366.6 385.5h0.9v0.9h-0.9zM340.7 391.0h0.9v0.9h-0.9z" fill="#5a6cc6" fill-opacity="0.56"/>
</g>
<circle cx="411.6" cy="388.9" r="23.4" fill="#fdfdfe" stroke="#f1f2f6" stroke-width="1.2"/>
<g filter="url(#wb)">
<path d="M406.6 390.1h0.7v0.7h-0.7zM427.1 385.4h1.4v1.4h-1.4zM430.0 381.3h0.7v0.7h-0.7zM416.9 377.0h1.1v1.1h-1.1zM408.2 383.4h0.7v0.7h-0.7zM406.7 396.6h1.1v1.1h-1.1zM400.6 399.9h0.9v0.9h-0.9zM406.6 409.1h1.4v1.4h-1.4zM423.1 370.9h1.4v1.4h-1.4zM415.7 401.4h0.7v0.7h-0.7zM398.3 374.7h1.4v1.4h-1.4zM406.5 387.6h0.9v0.9h-0.9zM405.1 390.4h0.9v0.9h-0.9zM427.3 386.9h0.9v0.9h-0.9zM417.5 375.1h1.1v1.1h-1.1zM399.9 394.7h0.9v0.9h-0.9zM410.7 398.1h0.7v0.7h-0.7zM416.0 395.5h1.4v1.4h-1.4zM402.1 393.5h0.7v0.7h-0.7zM428.9 393.3h1.4v1.4h-1.4zM417.5 369.3h1.1v1.1h-1.1zM427.8 387.1h0.7v0.7h-0.7z" fill="#5a6cc6" fill-opacity="0.14"/>
<path d="M395.6 388.5h1.1v1.1h-1.1zM407.7 385.8h1.1v1.1h-1.1zM414.4 381.1h0.7v0.7h-0.7zM426.3 391.6h0.9v0.9h-0.9zM391.0 380.1h1.4v1.4h-1.4zM421.6 382.9h0.7v0.7h-0.7zM393.5 392.7h0.9v0.9h-0.9zM408.4 374.5h0.7v0.7h-0.7zM398.2 370.9h0.7v0.7h-0.7zM402.0 390.2h1.1v1.1h-1.1zM407.3 389.7h1.1v1.1h-1.1zM411.5 399.5h1.4v1.4h-1.4zM407.5 408.9h0.7v0.7h-0.7zM419.7 373.4h1.4v1.4h-1.4zM418.0 376.1h0.9v0.9h-0.9zM394.9 388.3h1.4v1.4h-1.4zM418.1 390.5h1.1v1.1h-1.1zM390.3 394.9h0.9v0.9h-0.9zM426.9 381.2h0.9v0.9h-0.9zM424.3 405.6h1.4v1.4h-1.4zM419.8 391.3h1.4v1.4h-1.4zM411.3 385.2h0.9v0.9h-0.9zM415.6 396.7h0.9v0.9h-0.9z" fill="#5a6cc6" fill-opacity="0.26"/>
<path d="M409.5 391.5h0.9v0.9h-0.9zM407.1 368.1h0.9v0.9h-0.9zM428.5 388.8h0.7v0.7h-0.7zM400.2 374.8h0.9v0.9h-0.9zM421.2 374.8h1.1v1.1h-1.1zM419.4 384.1h1.1v1.1h-1.1zM398.5 393.8h1.4v1.4h-1.4zM392.1 395.4h0.7v0.7h-0.7zM408.0 375.9h1.1v1.1h-1.1zM408.3 387.1h1.4v1.4h-1.4zM409.9 391.9h0.9v0.9h-0.9zM401.4 375.1h0.7v0.7h-0.7zM420.8 372.9h0.7v0.7h-0.7zM421.7 370.4h0.7v0.7h-0.7zM409.6 398.5h0.9v0.9h-0.9zM403.3 406.6h0.9v0.9h-0.9zM418.4 403.8h0.9v0.9h-0.9zM395.8 402.2h1.1v1.1h-1.1zM408.1 407.0h0.9v0.9h-0.9zM407.3 394.3h1.1v1.1h-1.1zM411.5 381.8h0.9v0.9h-0.9zM389.0 385.7h0.9v0.9h-0.9zM396.5 379.6h1.4v1.4h-1.4zM409.5 398.8h0.7v0.7h-0.7zM423.3 375.9h1.1v1.1h-1.1zM427.1 389.6h0.9v0.9h-0.9zM417.3 383.8h1.1v1.1h-1.1zM420.2 400.6h0.9v0.9h-0.9zM416.1 383.9h1.4v1.4h-1.4zM405.0 391.3h1.1v1.1h-1.1zM422.5 380.6h0.9v0.9h-0.9zM394.2 384.7h1.1v1.1h-1.1zM399.4 399.0h0.7v0.7h-0.7zM405.3 404.5h1.4v1.4h-1.4zM393.0 391.9h1.4v1.4h-1.4zM407.3 392.3h1.1v1.1h-1.1zM415.3 409.0h1.1v1.1h-1.1zM414.8 392.5h1.1v1.1h-1.1zM430.3 387.8h1.4v1.4h-1.4zM389.3 385.9h0.7v0.7h-0.7zM398.3 385.1h0.7v0.7h-0.7zM430.1 396.5h1.4v1.4h-1.4z" fill="#5a6cc6" fill-opacity="0.4"/>
<path d="M402.4 368.4h1.1v1.1h-1.1zM395.0 380.9h1.4v1.4h-1.4zM392.8 394.9h1.1v1.1h-1.1zM420.2 379.0h0.9v0.9h-0.9zM400.1 398.7h1.4v1.4h-1.4zM418.9 385.3h1.4v1.4h-1.4zM414.7 377.5h1.4v1.4h-1.4zM408.7 406.7h0.7v0.7h-0.7zM419.6 404.5h0.7v0.7h-0.7zM404.9 374.6h1.1v1.1h-1.1zM407.3 371.0h1.4v1.4h-1.4zM416.4 378.7h1.4v1.4h-1.4zM392.2 379.0h0.7v0.7h-0.7zM418.7 367.3h1.4v1.4h-1.4zM409.6 366.4h0.9v0.9h-0.9zM406.8 386.4h1.4v1.4h-1.4zM421.4 390.8h0.7v0.7h-0.7zM414.3 386.4h0.7v0.7h-0.7zM401.9 390.6h0.9v0.9h-0.9zM412.7 376.0h1.4v1.4h-1.4zM422.9 379.9h0.9v0.9h-0.9zM429.8 395.4h0.7v0.7h-0.7zM400.0 372.1h1.4v1.4h-1.4zM416.9 384.5h1.4v1.4h-1.4zM420.6 386.3h1.4v1.4h-1.4zM413.8 391.7h0.7v0.7h-0.7zM411.5 410.3h0.9v0.9h-0.9zM402.1 391.0h0.9v0.9h-0.9zM408.0 408.3h1.1v1.1h-1.1zM396.4 376.2h1.4v1.4h-1.4zM394.6 376.3h0.7v0.7h-0.7zM392.4 380.1h1.1v1.1h-1.1zM406.9 405.9h1.1v1.1h-1.1zM420.8 375.1h1.4v1.4h-1.4zM418.3 372.8h1.4v1.4h-1.4zM390.4 392.9h1.1v1.1h-1.1zM406.8 370.4h1.4v1.4h-1.4zM396.2 398.3h1.4v1.4h-1.4zM412.7 390.8h0.9v0.9h-0.9zM420.8 391.1h1.1v1.1h-1.1zM413.5 385.4h0.9v0.9h-0.9zM414.2 371.4h0.9v0.9h-0.9zM421.2 381.1h1.1v1.1h-1.1z" fill="#5a6cc6" fill-opacity="0.56"/>
</g>
<circle cx="462.8" cy="388.9" r="23.4" fill="#fdfdfe" stroke="#f1f2f6" stroke-width="1.2"/>
<g filter="url(#wb)">
<path d="M466.7 378.0h0.9v0.9h-0.9zM465.7 379.3h0.7v0.7h-0.7zM466.9 386.0h1.1v1.1h-1.1zM452.3 370.1h0.9v0.9h-0.9zM479.0 390.6h0.7v0.7h-0.7zM456.4 389.3h0.7v0.7h-0.7zM446.8 378.2h1.1v1.1h-1.1zM469.7 395.4h1.1v1.1h-1.1zM447.7 375.1h0.7v0.7h-0.7z" fill="#5a6cc6" fill-opacity="0.14"/>
<path d="M460.8 387.8h1.4v1.4h-1.4zM464.5 384.5h0.7v0.7h-0.7zM458.5 392.0h0.7v0.7h-0.7z" fill="#5a6cc6" fill-opacity="0.26"/>
<path d="M455.5 409.9h0.7v0.7h-0.7zM454.8 377.6h1.1v1.1h-1.1zM459.5 382.2h1.1v1.1h-1.1zM451.0 373.8h1.4v1.4h-1.4zM470.9 379.9h0.9v0.9h-0.9zM476.1 397.8h0.9v0.9h-0.9zM470.3 382.8h1.4v1.4h-1.4z" fill="#5a6cc6" fill-opacity="0.4"/>
<path d="M445.2 393.9h0.9v0.9h-0.9zM460.4 402.0h1.1v1.1h-1.1zM447.5 384.7h0.9v0.9h-0.9zM454.3 393.5h0.9v0.9h-0.9zM454.7 395.4h1.1v1.1h-1.1zM456.1 384.3h1.4v1.4h-1.4z" fill="#5a6cc6" fill-opacity="0.56"/>
</g>
<text x="7.90" y="452.90" font-size="11.4" text-anchor="start" fill="#111" color="#111" stroke-width="0" font-weight="bold">F</text>
<rect x="88.00" y="490.50" width="14.42" height="13.92" fill="#ffffff" stroke="#cdced6" stroke-width="0.9"/>
<rect x="88.00" y="504.42" width="14.42" height="13.92" fill="#ffffff" stroke="#cdced6" stroke-width="0.9"/>
<rect x="102.42" y="504.42" width="14.42" height="13.92" fill="#ffffff" stroke="#cdced6" stroke-width="0.9"/>
<rect x="88.00" y="518.34" width="14.42" height="13.92" fill="#ffffff" stroke="#cdced6" stroke-width="0.9"/>
<rect x="102.42" y="518.34" width="14.42" height="13.92" fill="#ffffff" stroke="#cdced6" stroke-width="0.9"/>
<rect x="116.84" y="518.34" width="14.42" height="13.92" fill="#ffffff" stroke="#cdced6" stroke-width="0.9"/>
<rect x="88.00" y="532.26" width="14.42" height="13.92" fill="#ffffff" stroke="#cdced6" stroke-width="0.9"/>
<rect x="102.42" y="532.26" width="14.42" height="13.92" fill="#ffffff" stroke="#cdced6" stroke-width="0.9"/>
<rect x="116.84" y="532.26" width="14.42" height="13.92" fill="#ffffff" stroke="#cdced6" stroke-width="0.9"/>
<rect x="131.26" y="532.26" width="14.42" height="13.92" fill="#ffffff" stroke="#cdced6" stroke-width="0.9"/>
<rect x="88.00" y="546.18" width="14.42" height="13.92" fill="#ffffff" stroke="#cdced6" stroke-width="0.9"/>
<rect x="102.42" y="546.18" width="14.42" height="13.92" fill="#ffffff" stroke="#cdced6" stroke-width="0.9"/>
<rect x="116.84" y="546.18" width="14.42" height="13.92" fill="#ffffff" stroke="#cdced6" stroke-width="0.9"/>
<rect x="131.26" y="546.18" width="14.42" height="13.92" fill="#ffffff" stroke="#cdced6" stroke-width="0.9"/>
<rect x="145.68" y="546.18" width="14.42" height="13.92" fill="#ffffff" stroke="#cdced6" stroke-width="0.9"/>
<rect x="88.00" y="560.10" width="14.42" height="13.92" fill="#ffffff" stroke="#cdced6" stroke-width="0.9"/>
<rect x="102.42" y="560.10" width="14.42" height="13.92" fill="#ffffff" stroke="#cdced6" stroke-width="0.9"/>
<rect x="116.84" y="560.10" width="14.42" height="13.92" fill="#ffffff" stroke="#cdced6" stroke-width="0.9"/>
<rect x="131.26" y="560.10" width="14.42" height="13.92" fill="#ffffff" stroke="#cdced6" stroke-width="0.9"/>
<rect x="145.68" y="560.10" width="14.42" height="13.92" fill="#ffffff" stroke="#cdced6" stroke-width="0.9"/>
<rect x="160.10" y="560.10" width="14.42" height="13.92" fill="#ffffff" stroke="#cdced6" stroke-width="0.9"/>
<rect x="88.00" y="574.02" width="14.42" height="13.92" fill="#ffffff" stroke="#cdced6" stroke-width="0.9"/>
<rect x="102.42" y="574.02" width="14.42" height="13.92" fill="#ffffff" stroke="#cdced6" stroke-width="0.9"/>
<rect x="116.84" y="574.02" width="14.42" height="13.92" fill="#ffffff" stroke="#cdced6" stroke-width="0.9"/>
<rect x="131.26" y="574.02" width="14.42" height="13.92" fill="#ffffff" stroke="#cdced6" stroke-width="0.9"/>
<rect x="145.68" y="574.02" width="14.42" height="13.92" fill="#ffffff" stroke="#cdced6" stroke-width="0.9"/>
<rect x="160.10" y="574.02" width="14.42" height="13.92" fill="#ffffff" stroke="#cdced6" stroke-width="0.9"/>
<rect x="174.52" y="574.02" width="14.42" height="13.92" fill="#ffffff" stroke="#cdced6" stroke-width="0.9"/>
<rect x="88.00" y="587.94" width="14.42" height="13.92" fill="#ffffff" stroke="#cdced6" stroke-width="0.9"/>
<rect x="102.42" y="587.94" width="14.42" height="13.92" fill="#ffffff" stroke="#cdced6" stroke-width="0.9"/>
<rect x="116.84" y="587.94" width="14.42" height="13.92" fill="#ffffff" stroke="#cdced6" stroke-width="0.9"/>
<rect x="131.26" y="587.94" width="14.42" height="13.92" fill="#ffffff" stroke="#cdced6" stroke-width="0.9"/>
<rect x="145.68" y="587.94" width="14.42" height="13.92" fill="#ffffff" stroke="#cdced6" stroke-width="0.9"/>
<rect x="160.10" y="587.94" width="14.42" height="13.92" fill="#ffffff" stroke="#cdced6" stroke-width="0.9"/>
<rect x="174.52" y="587.94" width="14.42" height="13.92" fill="#ffffff" stroke="#cdced6" stroke-width="0.9"/>
<rect x="188.94" y="587.94" width="14.42" height="13.92" fill="#ffffff" stroke="#cdced6" stroke-width="0.9"/>
<rect x="88.00" y="601.86" width="14.42" height="13.92" fill="#ffffff" stroke="#cdced6" stroke-width="0.9"/>
<rect x="102.42" y="601.86" width="14.42" height="13.92" fill="#ffffff" stroke="#cdced6" stroke-width="0.9"/>
<rect x="116.84" y="601.86" width="14.42" height="13.92" fill="#ffffff" stroke="#cdced6" stroke-width="0.9"/>
<rect x="131.26" y="601.86" width="14.42" height="13.92" fill="#ffffff" stroke="#cdced6" stroke-width="0.9"/>
<rect x="145.68" y="601.86" width="14.42" height="13.92" fill="#ffffff" stroke="#cdced6" stroke-width="0.9"/>
<rect x="160.10" y="601.86" width="14.42" height="13.92" fill="#ffffff" stroke="#cdced6" stroke-width="0.9"/>
<rect x="174.52" y="601.86" width="14.42" height="13.92" fill="#ffffff" stroke="#cdced6" stroke-width="0.9"/>
<rect x="188.94" y="601.86" width="14.42" height="13.92" fill="#ffffff" stroke="#cdced6" stroke-width="0.9"/>
<rect x="203.36" y="601.86" width="14.42" height="13.92" fill="#ffffff" stroke="#cdced6" stroke-width="0.9"/>
<rect x="88.00" y="615.78" width="14.42" height="13.92" fill="#ffffff" stroke="#cdced6" stroke-width="0.9"/>
<rect x="102.42" y="615.78" width="14.42" height="13.92" fill="#ffffff" stroke="#cdced6" stroke-width="0.9"/>
<rect x="116.84" y="615.78" width="14.42" height="13.92" fill="#ffffff" stroke="#cdced6" stroke-width="0.9"/>
<rect x="131.26" y="615.78" width="14.42" height="13.92" fill="#ffffff" stroke="#cdced6" stroke-width="0.9"/>
<rect x="145.68" y="615.78" width="14.42" height="13.92" fill="#ffffff" stroke="#cdced6" stroke-width="0.9"/>
<rect x="160.10" y="615.78" width="14.42" height="13.92" fill="#ffffff" stroke="#cdced6" stroke-width="0.9"/>
<rect x="174.52" y="615.78" width="14.42" height="13.92" fill="#ffffff" stroke="#cdced6" stroke-width="0.9"/>
<rect x="188.94" y="615.78" width="14.42" height="13.92" fill="#ffffff" stroke="#cdced6" stroke-width="0.9"/>
<rect x="203.36" y="615.78" width="14.42" height="13.92" fill="#ffffff" stroke="#cdced6" stroke-width="0.9"/>
<rect x="217.78" y="615.78" width="14.42" height="13.92" fill="#ffffff" stroke="#cdced6" stroke-width="0.9"/>
<rect x="88.00" y="629.70" width="14.42" height="13.92" fill="#ffffff" stroke="#cdced6" stroke-width="0.9"/>
<rect x="102.42" y="629.70" width="14.42" height="13.92" fill="#ffffff" stroke="#cdced6" stroke-width="0.9"/>
<rect x="116.84" y="629.70" width="14.42" height="13.92" fill="#ffffff" stroke="#cdced6" stroke-width="0.9"/>
<rect x="131.26" y="629.70" width="14.42" height="13.92" fill="#ffffff" stroke="#cdced6" stroke-width="0.9"/>
<rect x="145.68" y="629.70" width="14.42" height="13.92" fill="#ffffff" stroke="#cdced6" stroke-width="0.9"/>
<rect x="160.10" y="629.70" width="14.42" height="13.92" fill="#ffffff" stroke="#cdced6" stroke-width="0.9"/>
<rect x="174.52" y="629.70" width="14.42" height="13.92" fill="#ffffff" stroke="#cdced6" stroke-width="0.9"/>
<rect x="188.94" y="629.70" width="14.42" height="13.92" fill="#ffffff" stroke="#cdced6" stroke-width="0.9"/>
<rect x="203.36" y="629.70" width="14.42" height="13.92" fill="#ffffff" stroke="#cdced6" stroke-width="0.9"/>
<rect x="217.78" y="629.70" width="14.42" height="13.92" fill="#ffffff" stroke="#cdced6" stroke-width="0.9"/>
<rect x="232.20" y="629.70" width="14.42" height="13.92" fill="#ffffff" stroke="#cdced6" stroke-width="0.9"/>
<rect x="88.00" y="643.62" width="14.42" height="13.92" fill="#ffffff" stroke="#cdced6" stroke-width="0.9"/>
<rect x="102.42" y="643.62" width="14.42" height="13.92" fill="#ffffff" stroke="#cdced6" stroke-width="0.9"/>
<rect x="116.84" y="643.62" width="14.42" height="13.92" fill="#ffffff" stroke="#cdced6" stroke-width="0.9"/>
<rect x="131.26" y="643.62" width="14.42" height="13.92" fill="#ffffff" stroke="#cdced6" stroke-width="0.9"/>
<rect x="145.68" y="643.62" width="14.42" height="13.92" fill="#ffffff" stroke="#cdced6" stroke-width="0.9"/>
<rect x="160.10" y="643.62" width="14.42" height="13.92" fill="#ffffff" stroke="#cdced6" stroke-width="0.9"/>
<rect x="174.52" y="643.62" width="14.42" height="13.92" fill="#ffffff" stroke="#cdced6" stroke-width="0.9"/>
<rect x="188.94" y="643.62" width="14.42" height="13.92" fill="#ffffff" stroke="#cdced6" stroke-width="0.9"/>
<rect x="203.36" y="643.62" width="14.42" height="13.92" fill="#ffffff" stroke="#cdced6" stroke-width="0.9"/>
<rect x="217.78" y="643.62" width="14.42" height="13.92" fill="#ffffff" stroke="#cdced6" stroke-width="0.9"/>
<rect x="232.20" y="643.62" width="14.42" height="13.92" fill="#ffffff" stroke="#cdced6" stroke-width="0.9"/>
<rect x="246.62" y="643.62" width="14.42" height="13.92" fill="#ffffff" stroke="#cdced6" stroke-width="0.9"/>
<rect x="88.00" y="657.54" width="14.42" height="13.92" fill="#ffffff" stroke="#cdced6" stroke-width="0.9"/>
<rect x="102.42" y="657.54" width="14.42" height="13.92" fill="#ffffff" stroke="#cdced6" stroke-width="0.9"/>
<rect x="116.84" y="657.54" width="14.42" height="13.92" fill="#ffffff" stroke="#cdced6" stroke-width="0.9"/>
<rect x="131.26" y="657.54" width="14.42" height="13.92" fill="#ffffff" stroke="#cdced6" stroke-width="0.9"/>
<rect x="145.68" y="657.54" width="14.42" height="13.92" fill="#ffffff" stroke="#cdced6" stroke-width="0.9"/>
<rect x="160.10" y="657.54" width="14.42" height="13.92" fill="#ffffff" stroke="#cdced6" stroke-width="0.9"/>
<rect x="174.52" y="657.54" width="14.42" height="13.92" fill="#ffffff" stroke="#cdced6" stroke-width="0.9"/>
<rect x="188.94" y="657.54" width="14.42" height="13.92" fill="#ffffff" stroke="#cdced6" stroke-width="0.9"/>
<rect x="203.36" y="657.54" width="14.42" height="13.92" fill="#ffffff" stroke="#cdced6" stroke-width="0.9"/>
<rect x="217.78" y="657.54" width="14.42" height="13.92" fill="#ffffff" stroke="#cdced6" stroke-width="0.9"/>
<rect x="232.20" y="657.54" width="14.42" height="13.92" fill="#ffffff" stroke="#cdced6" stroke-width="0.9"/>
<rect x="246.62" y="657.54" width="14.42" height="13.92" fill="#ffffff" stroke="#cdced6" stroke-width="0.9"/>
<rect x="261.04" y="657.54" width="14.42" height="13.92" fill="#ffffff" stroke="#cdced6" stroke-width="0.9"/>
<rect x="88.30" y="490.80" width="13.82" height="13.32" fill="#09588a" stroke="none" stroke-width="1"/>
<rect x="91.56" y="496.76" width="1.50" height="1.40" fill="#111" stroke="none" stroke-width="1"/>
<rect x="94.46" y="496.76" width="1.50" height="1.40" fill="#111" stroke="none" stroke-width="1"/>
<rect x="97.36" y="496.76" width="1.50" height="1.40" fill="#111" stroke="none" stroke-width="1"/>
<rect x="88.51" y="504.91" width="13.40" height="12.94" fill="#1573b3" stroke="none" stroke-width="1"/>
<rect x="91.56" y="510.68" width="1.50" height="1.40" fill="#111" stroke="none" stroke-width="1"/>
<rect x="94.46" y="510.68" width="1.50" height="1.40" fill="#111" stroke="none" stroke-width="1"/>
<rect x="97.36" y="510.68" width="1.50" height="1.40" fill="#111" stroke="none" stroke-width="1"/>
<rect x="102.72" y="504.72" width="13.82" height="13.32" fill="#09588a" stroke="none" stroke-width="1"/>
<rect x="105.98" y="510.68" width="1.50" height="1.40" fill="#111" stroke="none" stroke-width="1"/>
<rect x="108.88" y="510.68" width="1.50" height="1.40" fill="#111" stroke="none" stroke-width="1"/>
<rect x="111.78" y="510.68" width="1.50" height="1.40" fill="#111" stroke="none" stroke-width="1"/>
<rect x="88.51" y="518.83" width="13.40" height="12.94" fill="#1573b3" stroke="none" stroke-width="1"/>
<rect x="91.56" y="524.60" width="1.50" height="1.40" fill="#111" stroke="none" stroke-width="1"/>
<rect x="94.46" y="524.60" width="1.50" height="1.40" fill="#111" stroke="none" stroke-width="1"/>
<rect x="97.36" y="524.60" width="1.50" height="1.40" fill="#111" stroke="none" stroke-width="1"/>
<rect x="102.93" y="518.83" width="13.40" height="12.94" fill="#1573b3" stroke="none" stroke-width="1"/>
<rect x="105.98" y="524.60" width="1.50" height="1.40" fill="#111" stroke="none" stroke-width="1"/>
<rect x="108.88" y="524.60" width="1.50" height="1.40" fill="#111" stroke="none" stroke-width="1"/>
<rect x="111.78" y="524.60" width="1.50" height="1.40" fill="#111" stroke="none" stroke-width="1"/>
<rect x="117.14" y="518.64" width="13.82" height="13.32" fill="#09588a" stroke="none" stroke-width="1"/>
<rect x="120.40" y="524.60" width="1.50" height="1.40" fill="#111" stroke="none" stroke-width="1"/>
<rect x="123.30" y="524.60" width="1.50" height="1.40" fill="#111" stroke="none" stroke-width="1"/>
<rect x="126.20" y="524.60" width="1.50" height="1.40" fill="#111" stroke="none" stroke-width="1"/>
<rect x="91.71" y="535.84" width="7.00" height="6.76" fill="#f5dccf" stroke="none" stroke-width="1"/>
<rect x="107.63" y="537.29" width="4.00" height="3.86" fill="#eef0ee" stroke="none" stroke-width="1"/>
<rect x="121.05" y="536.32" width="6.00" height="5.79" fill="#f5d8cc" stroke="none" stroke-width="1"/>
<rect x="131.56" y="532.56" width="13.82" height="13.32" fill="#09588a" stroke="none" stroke-width="1"/>
<rect x="134.82" y="538.52" width="1.50" height="1.40" fill="#111" stroke="none" stroke-width="1"/>
<rect x="137.72" y="538.52" width="1.50" height="1.40" fill="#111" stroke="none" stroke-width="1"/>
<rect x="140.62" y="538.52" width="1.50" height="1.40" fill="#111" stroke="none" stroke-width="1"/>
<rect x="93.46" y="551.45" width="3.50" height="3.38" fill="#e4eaf0" stroke="none" stroke-width="1"/>
<rect x="108.13" y="551.69" width="3.00" height="2.90" fill="#eaeef2" stroke="none" stroke-width="1"/>
<rect x="119.80" y="549.04" width="8.50" height="8.21" fill="#a8cfe8" stroke="none" stroke-width="1"/>
<rect x="132.92" y="547.78" width="11.10" height="10.72" fill="#5aacdc" stroke="none" stroke-width="1"/>
<rect x="134.82" y="552.44" width="1.50" height="1.40" fill="#111" stroke="none" stroke-width="1"/>
<rect x="137.72" y="552.44" width="1.50" height="1.40" fill="#111" stroke="none" stroke-width="1"/>
<rect x="140.62" y="552.44" width="1.50" height="1.40" fill="#111" stroke="none" stroke-width="1"/>
<rect x="145.98" y="546.48" width="13.82" height="13.32" fill="#09588a" stroke="none" stroke-width="1"/>
<rect x="149.24" y="552.44" width="1.50" height="1.40" fill="#111" stroke="none" stroke-width="1"/>
<rect x="152.14" y="552.44" width="1.50" height="1.40" fill="#111" stroke="none" stroke-width="1"/>
<rect x="155.04" y="552.44" width="1.50" height="1.40" fill="#111" stroke="none" stroke-width="1"/>
<rect x="90.96" y="562.96" width="8.50" height="8.21" fill="#f2b9a0" stroke="none" stroke-width="1"/>
<rect x="105.38" y="562.96" width="8.50" height="8.21" fill="#f2bea6" stroke="none" stroke-width="1"/>
<rect x="120.85" y="563.97" width="6.40" height="6.18" fill="#f5d8cc" stroke="none" stroke-width="1"/>
<rect x="134.22" y="562.96" width="8.50" height="8.21" fill="#b8d8ec" stroke="none" stroke-width="1"/>
<rect x="147.89" y="562.23" width="10.00" height="9.65" fill="#7ab8e0" stroke="none" stroke-width="1"/>
<rect x="160.40" y="560.40" width="13.82" height="13.32" fill="#09588a" stroke="none" stroke-width="1"/>
<rect x="163.66" y="566.36" width="1.50" height="1.40" fill="#111" stroke="none" stroke-width="1"/>
<rect x="166.56" y="566.36" width="1.50" height="1.40" fill="#111" stroke="none" stroke-width="1"/>
<rect x="169.46" y="566.36" width="1.50" height="1.40" fill="#111" stroke="none" stroke-width="1"/>
<rect x="90.66" y="576.59" width="9.10" height="8.78" fill="#88c0e4" stroke="none" stroke-width="1"/>
<rect x="105.08" y="576.59" width="9.10" height="8.78" fill="#8cc3e4" stroke="none" stroke-width="1"/>
<rect x="122.55" y="579.53" width="3.00" height="2.90" fill="#f3eeea" stroke="none" stroke-width="1"/>
<rect x="135.42" y="578.04" width="6.10" height="5.89" fill="#d0e2ee" stroke="none" stroke-width="1"/>
<rect x="152.14" y="580.26" width="1.50" height="1.45" fill="#f0f0f0" stroke="none" stroke-width="1"/>
<rect x="165.06" y="578.81" width="4.50" height="4.34" fill="#f2e4dc" stroke="none" stroke-width="1"/>
<rect x="174.82" y="574.32" width="13.82" height="13.32" fill="#09588a" stroke="none" stroke-width="1"/>
<rect x="178.08" y="580.28" width="1.50" height="1.40" fill="#111" stroke="none" stroke-width="1"/>
<rect x="180.98" y="580.28" width="1.50" height="1.40" fill="#111" stroke="none" stroke-width="1"/>
<rect x="183.88" y="580.28" width="1.50" height="1.40" fill="#111" stroke="none" stroke-width="1"/>
<rect x="91.36" y="591.18" width="7.70" height="7.43" fill="#b8d6ea" stroke="none" stroke-width="1"/>
<rect x="105.78" y="591.18" width="7.70" height="7.43" fill="#b0d4ea" stroke="none" stroke-width="1"/>
<rect x="120.50" y="591.47" width="7.10" height="6.85" fill="#f5d0c0" stroke="none" stroke-width="1"/>
<rect x="136.57" y="593.07" width="3.80" height="3.67" fill="#e4ecf2" stroke="none" stroke-width="1"/>
<rect x="148.89" y="591.04" width="8.00" height="7.72" fill="#f4c8b0" stroke="none" stroke-width="1"/>
<rect x="162.46" y="590.22" width="9.70" height="9.36" fill="#eba888" stroke="none" stroke-width="1"/>
<rect x="175.03" y="588.43" width="13.40" height="12.94" fill="#1475b5" stroke="none" stroke-width="1"/>
<rect x="178.08" y="594.20" width="1.50" height="1.40" fill="#111" stroke="none" stroke-width="1"/>
<rect x="180.98" y="594.20" width="1.50" height="1.40" fill="#111" stroke="none" stroke-width="1"/>
<rect x="183.88" y="594.20" width="1.50" height="1.40" fill="#111" stroke="none" stroke-width="1"/>
<rect x="189.24" y="588.24" width="13.82" height="13.32" fill="#09588a" stroke="none" stroke-width="1"/>
<rect x="192.50" y="594.20" width="1.50" height="1.40" fill="#111" stroke="none" stroke-width="1"/>
<rect x="195.40" y="594.20" width="1.50" height="1.40" fill="#111" stroke="none" stroke-width="1"/>
<rect x="198.30" y="594.20" width="1.50" height="1.40" fill="#111" stroke="none" stroke-width="1"/>
<rect x="92.71" y="606.41" width="5.00" height="4.83" fill="#dde6ee" stroke="none" stroke-width="1"/>
<rect x="107.13" y="606.41" width="5.00" height="4.83" fill="#dde6ee" stroke="none" stroke-width="1"/>
<rect x="120.30" y="605.20" width="7.50" height="7.24" fill="#f5d5c5" stroke="none" stroke-width="1"/>
<rect x="134.22" y="604.72" width="8.50" height="8.21" fill="#98c8e6" stroke="none" stroke-width="1"/>
<rect x="148.79" y="604.86" width="8.20" height="7.92" fill="#a8cee8" stroke="none" stroke-width="1"/>
<rect x="163.81" y="605.44" width="7.00" height="6.76" fill="#c8dcea" stroke="none" stroke-width="1"/>
<rect x="175.23" y="602.55" width="13.00" height="12.55" fill="#1070b0" stroke="none" stroke-width="1"/>
<rect x="178.08" y="608.12" width="1.50" height="1.40" fill="#111" stroke="none" stroke-width="1"/>
<rect x="180.98" y="608.12" width="1.50" height="1.40" fill="#111" stroke="none" stroke-width="1"/>
<rect x="183.88" y="608.12" width="1.50" height="1.40" fill="#111" stroke="none" stroke-width="1"/>
<rect x="190.15" y="603.03" width="12.00" height="11.58" fill="#1a9ad8" stroke="none" stroke-width="1"/>
<rect x="195.40" y="608.12" width="1.50" height="1.40" fill="#111" stroke="none" stroke-width="1"/>
<rect x="203.66" y="602.16" width="13.82" height="13.32" fill="#09588a" stroke="none" stroke-width="1"/>
<rect x="206.92" y="608.12" width="1.50" height="1.40" fill="#111" stroke="none" stroke-width="1"/>
<rect x="209.82" y="608.12" width="1.50" height="1.40" fill="#111" stroke="none" stroke-width="1"/>
<rect x="212.72" y="608.12" width="1.50" height="1.40" fill="#111" stroke="none" stroke-width="1"/>
<rect x="90.11" y="617.82" width="10.20" height="9.85" fill="#6cb4e0" stroke="none" stroke-width="1"/>
<rect x="105.23" y="618.49" width="8.80" height="8.49" fill="#90c4e4" stroke="none" stroke-width="1"/>
<rect x="119.80" y="618.64" width="8.50" height="8.21" fill="#a0cce8" stroke="none" stroke-width="1"/>
<rect x="134.82" y="619.22" width="7.30" height="7.05" fill="#bcd8ea" stroke="none" stroke-width="1"/>
<rect x="151.89" y="621.77" width="2.00" height="1.93" fill="#eef2f4" stroke="none" stroke-width="1"/>
<rect x="164.31" y="619.84" width="6.00" height="5.79" fill="#f2e0d6" stroke="none" stroke-width="1"/>
<rect x="176.23" y="617.43" width="11.00" height="10.62" fill="#2a98d4" stroke="none" stroke-width="1"/>
<rect x="180.98" y="622.04" width="1.50" height="1.40" fill="#111" stroke="none" stroke-width="1"/>
<rect x="191.15" y="617.91" width="10.00" height="9.65" fill="#80bce4" stroke="none" stroke-width="1"/>
<rect x="205.32" y="617.67" width="10.50" height="10.14" fill="#70b4e0" stroke="none" stroke-width="1"/>
<rect x="218.08" y="616.08" width="13.82" height="13.32" fill="#09588a" stroke="none" stroke-width="1"/>
<rect x="221.34" y="622.04" width="1.50" height="1.40" fill="#111" stroke="none" stroke-width="1"/>
<rect x="224.24" y="622.04" width="1.50" height="1.40" fill="#111" stroke="none" stroke-width="1"/>
<rect x="227.14" y="622.04" width="1.50" height="1.40" fill="#111" stroke="none" stroke-width="1"/>
<rect x="89.96" y="631.59" width="10.50" height="10.14" fill="#58acdc" stroke="none" stroke-width="1"/>
<rect x="104.23" y="631.45" width="10.80" height="10.43" fill="#48a4d8" stroke="none" stroke-width="1"/>
<rect x="119.30" y="632.07" width="9.50" height="9.17" fill="#6cb4e0" stroke="none" stroke-width="1"/>
<rect x="136.47" y="634.73" width="4.00" height="3.86" fill="#e4ecf2" stroke="none" stroke-width="1"/>
<rect x="150.89" y="634.73" width="4.00" height="3.86" fill="#e4ecf2" stroke="none" stroke-width="1"/>
<rect x="165.31" y="634.73" width="4.00" height="3.86" fill="#f2e6e0" stroke="none" stroke-width="1"/>
<rect x="176.48" y="631.59" width="10.50" height="10.14" fill="#60aadc" stroke="none" stroke-width="1"/>
<rect x="178.08" y="635.96" width="1.50" height="1.40" fill="#111" stroke="none" stroke-width="1"/>
<rect x="180.98" y="635.96" width="1.50" height="1.40" fill="#111" stroke="none" stroke-width="1"/>
<rect x="183.88" y="635.96" width="1.50" height="1.40" fill="#111" stroke="none" stroke-width="1"/>
<rect x="191.90" y="632.56" width="8.50" height="8.21" fill="#a0cce8" stroke="none" stroke-width="1"/>
<rect x="206.82" y="633.04" width="7.50" height="7.24" fill="#bcd8ea" stroke="none" stroke-width="1"/>
<rect x="220.74" y="632.56" width="8.50" height="8.21" fill="#a0cce8" stroke="none" stroke-width="1"/>
<rect x="232.50" y="630.00" width="13.82" height="13.32" fill="#09588a" stroke="none" stroke-width="1"/>
<rect x="235.76" y="635.96" width="1.50" height="1.40" fill="#111" stroke="none" stroke-width="1"/>
<rect x="238.66" y="635.96" width="1.50" height="1.40" fill="#111" stroke="none" stroke-width="1"/>
<rect x="241.56" y="635.96" width="1.50" height="1.40" fill="#111" stroke="none" stroke-width="1"/>
<rect x="94.46" y="649.86" width="1.50" height="1.45" fill="#f0f0f0" stroke="none" stroke-width="1"/>
<rect x="108.13" y="649.13" width="3.00" height="2.90" fill="#f2e6e0" stroke="none" stroke-width="1"/>
<rect x="121.05" y="647.68" width="6.00" height="5.79" fill="#d4e4ee" stroke="none" stroke-width="1"/>
<rect x="135.72" y="647.93" width="5.50" height="5.31" fill="#d0e2ee" stroke="none" stroke-width="1"/>
<rect x="137.72" y="649.88" width="1.50" height="1.40" fill="#111" stroke="none" stroke-width="1"/>
<rect x="147.89" y="645.75" width="10.00" height="9.65" fill="#6ab4e0" stroke="none" stroke-width="1"/>
<rect x="164.31" y="647.68" width="6.00" height="5.79" fill="#d4e4ee" stroke="none" stroke-width="1"/>
<rect x="178.73" y="647.68" width="6.00" height="5.79" fill="#dde8f0" stroke="none" stroke-width="1"/>
<rect x="179.48" y="649.88" width="1.50" height="1.40" fill="#111" stroke="none" stroke-width="1"/>
<rect x="182.48" y="649.88" width="1.50" height="1.40" fill="#111" stroke="none" stroke-width="1"/>
<rect x="195.15" y="649.61" width="2.00" height="1.93" fill="#eef0f2" stroke="none" stroke-width="1"/>
<rect x="207.57" y="647.68" width="6.00" height="5.79" fill="#c8dcea" stroke="none" stroke-width="1"/>
<rect x="209.82" y="649.88" width="1.50" height="1.40" fill="#111" stroke="none" stroke-width="1"/>
<rect x="222.99" y="648.65" width="4.00" height="3.86" fill="#f0e0d8" stroke="none" stroke-width="1"/>
<rect x="234.66" y="645.99" width="9.50" height="9.17" fill="#80bce4" stroke="none" stroke-width="1"/>
<rect x="246.92" y="643.92" width="13.82" height="13.32" fill="#09588a" stroke="none" stroke-width="1"/>
<rect x="250.18" y="649.88" width="1.50" height="1.40" fill="#111" stroke="none" stroke-width="1"/>
<rect x="253.08" y="649.88" width="1.50" height="1.40" fill="#111" stroke="none" stroke-width="1"/>
<rect x="255.98" y="649.88" width="1.50" height="1.40" fill="#111" stroke="none" stroke-width="1"/>
<rect x="93.71" y="663.05" width="3.00" height="2.90" fill="#e8ecf0" stroke="none" stroke-width="1"/>
<rect x="107.63" y="662.57" width="4.00" height="3.86" fill="#e4ebf1" stroke="none" stroke-width="1"/>
<rect x="120.55" y="661.12" width="7.00" height="6.76" fill="#f5d0c0" stroke="none" stroke-width="1"/>
<rect x="134.22" y="660.40" width="8.50" height="8.21" fill="#a8d0ea" stroke="none" stroke-width="1"/>
<rect x="136.22" y="663.80" width="1.50" height="1.40" fill="#111" stroke="none" stroke-width="1"/>
<rect x="139.22" y="663.80" width="1.50" height="1.40" fill="#111" stroke="none" stroke-width="1"/>
<rect x="148.79" y="660.54" width="8.20" height="7.92" fill="#a8cfe8" stroke="none" stroke-width="1"/>
<rect x="163.81" y="661.12" width="7.00" height="6.76" fill="#c8dcea" stroke="none" stroke-width="1"/>
<rect x="175.23" y="658.23" width="13.00" height="12.55" fill="#0e6eae" stroke="none" stroke-width="1"/>
<rect x="178.08" y="663.80" width="1.50" height="1.40" fill="#111" stroke="none" stroke-width="1"/>
<rect x="180.98" y="663.80" width="1.50" height="1.40" fill="#111" stroke="none" stroke-width="1"/>
<rect x="183.88" y="663.80" width="1.50" height="1.40" fill="#111" stroke="none" stroke-width="1"/>
<rect x="190.40" y="658.95" width="11.50" height="11.10" fill="#1a98d6" stroke="none" stroke-width="1"/>
<rect x="195.40" y="663.80" width="1.50" height="1.40" fill="#111" stroke="none" stroke-width="1"/>
<rect x="204.07" y="658.23" width="13.00" height="12.55" fill="#0d6aa8" stroke="none" stroke-width="1"/>
<rect x="206.92" y="663.80" width="1.50" height="1.40" fill="#111" stroke="none" stroke-width="1"/>
<rect x="209.82" y="663.80" width="1.50" height="1.40" fill="#111" stroke="none" stroke-width="1"/>
<rect x="212.72" y="663.80" width="1.50" height="1.40" fill="#111" stroke="none" stroke-width="1"/>
<rect x="220.99" y="660.64" width="8.00" height="7.72" fill="#b8d6ea" stroke="none" stroke-width="1"/>
<rect x="235.91" y="661.12" width="7.00" height="6.76" fill="#d0e4ee" stroke="none" stroke-width="1"/>
<rect x="250.83" y="661.60" width="6.00" height="5.79" fill="#e8eff5" stroke="none" stroke-width="1"/>
<rect x="250.18" y="663.80" width="1.50" height="1.40" fill="#111" stroke="none" stroke-width="1"/>
<rect x="253.08" y="663.80" width="1.50" height="1.40" fill="#111" stroke="none" stroke-width="1"/>
<rect x="255.98" y="663.80" width="1.50" height="1.40" fill="#111" stroke="none" stroke-width="1"/>
<rect x="261.34" y="657.84" width="13.82" height="13.32" fill="#09588a" stroke="none" stroke-width="1"/>
<rect x="264.60" y="663.80" width="1.50" height="1.40" fill="#111" stroke="none" stroke-width="1"/>
<rect x="267.50" y="663.80" width="1.50" height="1.40" fill="#111" stroke="none" stroke-width="1"/>
<rect x="270.40" y="663.80" width="1.50" height="1.40" fill="#111" stroke="none" stroke-width="1"/>
<text x="84.20" y="500.36" font-size="8.4" text-anchor="end" fill="#222" color="#222" stroke-width="0.1" font-weight="normal" textLength="34.3" lengthAdjust="spacingAndGlyphs">Spike IgG</text>
<text x="84.20" y="514.28" font-size="8.4" text-anchor="end" fill="#222" color="#222" stroke-width="0.1" font-weight="normal" textLength="24.8" lengthAdjust="spacingAndGlyphs">WT NT</text>
<text x="84.20" y="528.20" font-size="8.4" text-anchor="end" fill="#222" color="#222" stroke-width="0.1" font-weight="normal" textLength="37.2" lengthAdjust="spacingAndGlyphs">B.1.1.7 NT</text>
<text x="84.20" y="542.12" font-size="8.4" text-anchor="end" fill="#222" color="#222" stroke-width="0.1" font-weight="normal" textLength="15.3" lengthAdjust="spacingAndGlyphs">RBD</text>
<text x="84.20" y="556.04" font-size="8.4" text-anchor="end" fill="#222" color="#222" stroke-width="0.1" font-weight="normal" textLength="8.7" lengthAdjust="spacingAndGlyphs">S2</text>
<text x="84.20" y="569.96" font-size="8.4" text-anchor="end" fill="#222" color="#222" stroke-width="0.1" font-weight="normal" textLength="36.5" lengthAdjust="spacingAndGlyphs">CEF/CEFT</text>
<text x="84.20" y="583.88" font-size="8.4" text-anchor="end" fill="#222" color="#222" stroke-width="0.1" font-weight="normal" textLength="64.2" lengthAdjust="spacingAndGlyphs">Total lymphocytes</text>
<text x="84.20" y="597.80" font-size="8.4" text-anchor="end" fill="#222" color="#222" stroke-width="0.1" font-weight="normal" textLength="45.5" lengthAdjust="spacingAndGlyphs">CD4+ T-cells</text>
<text x="84.20" y="611.72" font-size="8.4" text-anchor="end" fill="#222" color="#222" stroke-width="0.1" font-weight="normal" textLength="45.5" lengthAdjust="spacingAndGlyphs">CD8+ T-cells</text>
<text x="84.20" y="625.64" font-size="8.4" text-anchor="end" fill="#222" color="#222" stroke-width="0.1" font-weight="normal" textLength="50.4" lengthAdjust="spacingAndGlyphs">CD19+ B-cells</text>
<text x="84.20" y="639.56" font-size="8.4" text-anchor="end" fill="#222" color="#222" stroke-width="0.1" font-weight="normal" textLength="27.9" lengthAdjust="spacingAndGlyphs">NK cells</text>
<text x="84.20" y="653.48" font-size="8.4" text-anchor="end" fill="#222" color="#222" stroke-width="0.1" font-weight="normal" textLength="70.6" lengthAdjust="spacingAndGlyphs">CD8+CD38+ T-cells</text>
<text x="84.20" y="667.40" font-size="8.4" text-anchor="end" fill="#222" color="#222" stroke-width="0.1" font-weight="normal" textLength="76.3" lengthAdjust="spacingAndGlyphs">CD3+HLADR+ T-cells</text>
<text transform="translate(98.21,486.90) rotate(-90)" font-size="8.4" text-anchor="start" fill="#222" color="#222" stroke-width="0.1" textLength="34.3" lengthAdjust="spacingAndGlyphs">Spike IgG</text>
<text transform="translate(112.63,500.82) rotate(-90)" font-size="8.4" text-anchor="start" fill="#222" color="#222" stroke-width="0.1" textLength="24.8" lengthAdjust="spacingAndGlyphs">WT NT</text>
<text transform="translate(127.05,514.74) rotate(-90)" font-size="8.4" text-anchor="start" fill="#222" color="#222" stroke-width="0.1" textLength="37.2" lengthAdjust="spacingAndGlyphs">B.1.1.7 NT</text>
<text transform="translate(141.47,528.66) rotate(-90)" font-size="8.4" text-anchor="start" fill="#222" color="#222" stroke-width="0.1" textLength="15.3" lengthAdjust="spacingAndGlyphs">RBD</text>
<text transform="translate(155.89,542.58) rotate(-90)" font-size="8.4" text-anchor="start" fill="#222" color="#222" stroke-width="0.1" textLength="8.7" lengthAdjust="spacingAndGlyphs">S2</text>
<text transform="translate(170.31,556.50) rotate(-90)" font-size="8.4" text-anchor="start" fill="#222" color="#222" stroke-width="0.1" textLength="36.5" lengthAdjust="spacingAndGlyphs">CEF/CEFT</text>
<text transform="translate(184.73,570.42) rotate(-90)" font-size="8.4" text-anchor="start" fill="#222" color="#222" stroke-width="0.1" textLength="64.2" lengthAdjust="spacingAndGlyphs">Total lymphocytes</text>
<text transform="translate(199.15,584.34) rotate(-90)" font-size="8.4" text-anchor="start" fill="#222" color="#222" stroke-width="0.1" textLength="45.5" lengthAdjust="spacingAndGlyphs">CD4+ T-cells</text>
<text transform="translate(213.57,598.26) rotate(-90)" font-size="8.4" text-anchor="start" fill="#222" color="#222" stroke-width="0.1" textLength="45.5" lengthAdjust="spacingAndGlyphs">CD8+ T-cells</text>
<text transform="translate(227.99,612.18) rotate(-90)" font-size="8.4" text-anchor="start" fill="#222" color="#222" stroke-width="0.1" textLength="50.4" lengthAdjust="spacingAndGlyphs">CD19+ B-cells</text>
<text transform="translate(242.41,626.10) rotate(-90)" font-size="8.4" text-anchor="start" fill="#222" color="#222" stroke-width="0.1" textLength="27.9" lengthAdjust="spacingAndGlyphs">NK cells</text>
<text transform="translate(256.83,640.02) rotate(-90)" font-size="8.4" text-anchor="start" fill="#222" color="#222" stroke-width="0.1" textLength="70.6" lengthAdjust="spacingAndGlyphs">CD8+CD38+ T-cells</text>
<text transform="translate(271.25,653.94) rotate(-90)" font-size="8.4" text-anchor="start" fill="#222" color="#222" stroke-width="0.1" textLength="76.3" lengthAdjust="spacingAndGlyphs">CD3+HLADR+ T-cells</text>
<defs><linearGradient id="cb" x1="0" x2="1" y1="0" y2="0">
<stop offset="0" stop-color="#701535"/><stop offset="0.06" stop-color="#962242"/><stop offset="0.1" stop-color="#b82e4c"/>
<stop offset="0.13" stop-color="#c84058"/><stop offset="0.2" stop-color="#d87068"/><stop offset="0.3" stop-color="#eca088"/>
<stop offset="0.4" stop-color="#f8d0bc"/><stop offset="0.5" stop-color="#fafafa"/><stop offset="0.55" stop-color="#eef4fa"/>
<stop offset="0.6" stop-color="#d4e8f4"/><stop offset="0.7" stop-color="#a0cce8"/><stop offset="0.8" stop-color="#4aa6dc"/>
<stop offset="0.88" stop-color="#1a8cd0"/><stop offset="0.95" stop-color="#0f6eaa"/><stop offset="1" stop-color="#0b4f80"/>
</linearGradient></defs>
<rect x="87.50" y="673.40" width="188.00" height="6.30" fill="url(#cb)" stroke="#1a1a1a" stroke-width="0.8"/>
<line x1="87.50" y1="680.10" x2="87.50" y2="682.60" stroke="#222" stroke-width="0.8"/>
<text x="87.50" y="693.00" font-size="8.2" text-anchor="middle" fill="#2a2a2a" color="#2a2a2a" stroke-width="0.1" font-weight="normal">&#8722;1</text>
<line x1="106.30" y1="680.10" x2="106.30" y2="682.60" stroke="#222" stroke-width="0.8"/>
<text x="106.30" y="693.00" font-size="8.2" text-anchor="middle" fill="#2a2a2a" color="#2a2a2a" stroke-width="0.1" font-weight="normal">&#8722;0.8</text>
<line x1="125.10" y1="680.10" x2="125.10" y2="682.60" stroke="#222" stroke-width="0.8"/>
<text x="125.10" y="693.00" font-size="8.2" text-anchor="middle" fill="#2a2a2a" color="#2a2a2a" stroke-width="0.1" font-weight="normal">&#8722;0.6</text>
<line x1="143.90" y1="680.10" x2="143.90" y2="682.60" stroke="#222" stroke-width="0.8"/>
<text x="143.90" y="693.00" font-size="8.2" text-anchor="middle" fill="#2a2a2a" color="#2a2a2a" stroke-width="0.1" font-weight="normal">&#8722;0.4</text>
<line x1="162.70" y1="680.10" x2="162.70" y2="682.60" stroke="#222" stroke-width="0.8"/>
<text x="162.70" y="693.00" font-size="8.2" text-anchor="middle" fill="#2a2a2a" color="#2a2a2a" stroke-width="0.1" font-weight="normal">&#8722;0.2</text>
<line x1="181.50" y1="680.10" x2="181.50" y2="682.60" stroke="#222" stroke-width="0.8"/>
<text x="181.50" y="693.00" font-size="8.2" text-anchor="middle" fill="#2a2a2a" color="#2a2a2a" stroke-width="0.1" font-weight="normal">0</text>
<line x1="200.30" y1="680.10" x2="200.30" y2="682.60" stroke="#222" stroke-width="0.8"/>
<text x="200.30" y="693.00" font-size="8.2" text-anchor="middle" fill="#2a2a2a" color="#2a2a2a" stroke-width="0.1" font-weight="normal">0.2</text>
<line x1="219.10" y1="680.10" x2="219.10" y2="682.60" stroke="#222" stroke-width="0.8"/>
<text x="219.10" y="693.00" font-size="8.2" text-anchor="middle" fill="#2a2a2a" color="#2a2a2a" stroke-width="0.1" font-weight="normal">0.4</text>
<line x1="237.90" y1="680.10" x2="237.90" y2="682.60" stroke="#222" stroke-width="0.8"/>
<text x="237.90" y="693.00" font-size="8.2" text-anchor="middle" fill="#2a2a2a" color="#2a2a2a" stroke-width="0.1" font-weight="normal">0.6</text>
<line x1="256.70" y1="680.10" x2="256.70" y2="682.60" stroke="#222" stroke-width="0.8"/>
<text x="256.70" y="693.00" font-size="8.2" text-anchor="middle" fill="#2a2a2a" color="#2a2a2a" stroke-width="0.1" font-weight="normal">0.8</text>
<line x1="275.50" y1="680.10" x2="275.50" y2="682.60" stroke="#222" stroke-width="0.8"/>
<text x="275.50" y="693.00" font-size="8.2" text-anchor="middle" fill="#2a2a2a" color="#2a2a2a" stroke-width="0.1" font-weight="normal">1</text>
<text x="300.20" y="452.60" font-size="11.4" text-anchor="start" fill="#111" color="#111" stroke-width="0" font-weight="bold">G</text>
<text x="411.00" y="460.40" font-size="10.0" text-anchor="middle" fill="#222" color="#222" stroke-width="0.1" font-weight="normal" textLength="63.0" lengthAdjust="spacingAndGlyphs">T-cell response</text>
<line x1="344.70" y1="468.00" x2="344.70" y2="614.80" stroke="#1a1a1a" stroke-width="1.3"/>
<line x1="344.10" y1="614.20" x2="478.00" y2="614.20" stroke="#1a1a1a" stroke-width="1.3"/>
<line x1="411.30" y1="468.00" x2="411.30" y2="614.20" stroke="#1d5a92" stroke-width="1.2"/>
<line x1="351.10" y1="614.20" x2="351.10" y2="618.00" stroke="#1a1a1a" stroke-width="1.0"/>
<text x="351.10" y="627.60" font-size="8.2" text-anchor="middle" fill="#2a2a2a" color="#2a2a2a" stroke-width="0.1" font-weight="normal">0.01</text>
<line x1="381.20" y1="614.20" x2="381.20" y2="618.00" stroke="#1a1a1a" stroke-width="1.0"/>
<text x="381.20" y="627.60" font-size="8.2" text-anchor="middle" fill="#2a2a2a" color="#2a2a2a" stroke-width="0.1" font-weight="normal">0.1</text>
<line x1="411.30" y1="614.20" x2="411.30" y2="618.00" stroke="#1a1a1a" stroke-width="1.0"/>
<text x="411.30" y="627.60" font-size="8.2" text-anchor="middle" fill="#2a2a2a" color="#2a2a2a" stroke-width="0.1" font-weight="normal">1</text>
<line x1="441.40" y1="614.20" x2="441.40" y2="618.00" stroke="#1a1a1a" stroke-width="1.0"/>
<text x="441.40" y="627.60" font-size="8.2" text-anchor="middle" fill="#2a2a2a" color="#2a2a2a" stroke-width="0.1" font-weight="normal">10</text>
<line x1="471.50" y1="614.20" x2="471.50" y2="618.00" stroke="#1a1a1a" stroke-width="1.0"/>
<text x="471.50" y="627.60" font-size="8.2" text-anchor="middle" fill="#2a2a2a" color="#2a2a2a" stroke-width="0.1" font-weight="normal">100</text>
<text x="411.40" y="640.70" font-size="9.6" text-anchor="middle" fill="#2a2a2a" color="#2a2a2a" stroke-width="0.1" font-weight="normal" textLength="37.2" lengthAdjust="spacingAndGlyphs">Odds ratios</text>
<line x1="340.40" y1="488.30" x2="344.70" y2="488.30" stroke="#1a1a1a" stroke-width="1.0"/>
<text x="336.80" y="491.20" font-size="8.3" text-anchor="end" fill="#222" color="#222" stroke-width="0.1" font-weight="normal">On therapy</text>
<line x1="387.90" y1="488.30" x2="435.90" y2="488.30" stroke="#1d5a92" stroke-width="1.6"/>
<circle cx="411.43" cy="488.30" r="3.0" fill="#15477d"/>
<text x="410.53" y="483.30" font-size="8.7" text-anchor="middle" fill="#285d95" color="#285d95" stroke-width="0.1" font-weight="normal" textLength="15.57" lengthAdjust="spacingAndGlyphs">1.01</text>
<line x1="340.40" y1="523.50" x2="344.70" y2="523.50" stroke="#1a1a1a" stroke-width="1.0"/>
<text x="336.80" y="526.40" font-size="8.3" text-anchor="end" fill="#222" color="#222" stroke-width="0.1" font-weight="normal" textLength="33.2" lengthAdjust="spacingAndGlyphs">&#8805;67 years</text>
<line x1="392.50" y1="523.50" x2="434.80" y2="523.50" stroke="#1d5a92" stroke-width="1.6"/>
<circle cx="413.24" cy="523.50" r="3.0" fill="#15477d"/>
<text x="412.34" y="518.50" font-size="8.7" text-anchor="middle" fill="#285d95" color="#285d95" stroke-width="0.1" font-weight="normal" textLength="15.57" lengthAdjust="spacingAndGlyphs">1.16</text>
<line x1="340.40" y1="558.50" x2="344.70" y2="558.50" stroke="#1a1a1a" stroke-width="1.0"/>
<text x="336.80" y="561.40" font-size="8.3" text-anchor="end" fill="#222" color="#222" stroke-width="0.1" font-weight="normal">No CR</text>
<line x1="371.80" y1="558.50" x2="418.10" y2="558.50" stroke="#1d5a92" stroke-width="1.6"/>
<circle cx="395.12" cy="558.50" r="3.0" fill="#15477d"/>
<text x="394.22" y="553.50" font-size="8.7" text-anchor="middle" fill="#285d95" color="#285d95" stroke-width="0.1" font-weight="normal" textLength="15.57" lengthAdjust="spacingAndGlyphs">0.32</text>
<line x1="340.40" y1="593.70" x2="344.70" y2="593.70" stroke="#1a1a1a" stroke-width="1.0"/>
<text x="336.80" y="596.60" font-size="8.3" text-anchor="end" fill="#222" color="#222" stroke-width="0.1" font-weight="normal">Anti CD38</text>
<line x1="394.10" y1="593.70" x2="438.00" y2="593.70" stroke="#1d5a92" stroke-width="1.6"/>
<circle cx="415.88" cy="593.70" r="3.0" fill="#15477d"/>
<text x="414.98" y="588.70" font-size="8.7" text-anchor="middle" fill="#285d95" color="#285d95" stroke-width="0.1" font-weight="normal" textLength="15.57" lengthAdjust="spacingAndGlyphs">1.42</text>
<rect x="0.5" y="0.5" width="519" height="698.8" fill="none" stroke="#000" stroke-width="1.2"/>
</svg></body></html>
